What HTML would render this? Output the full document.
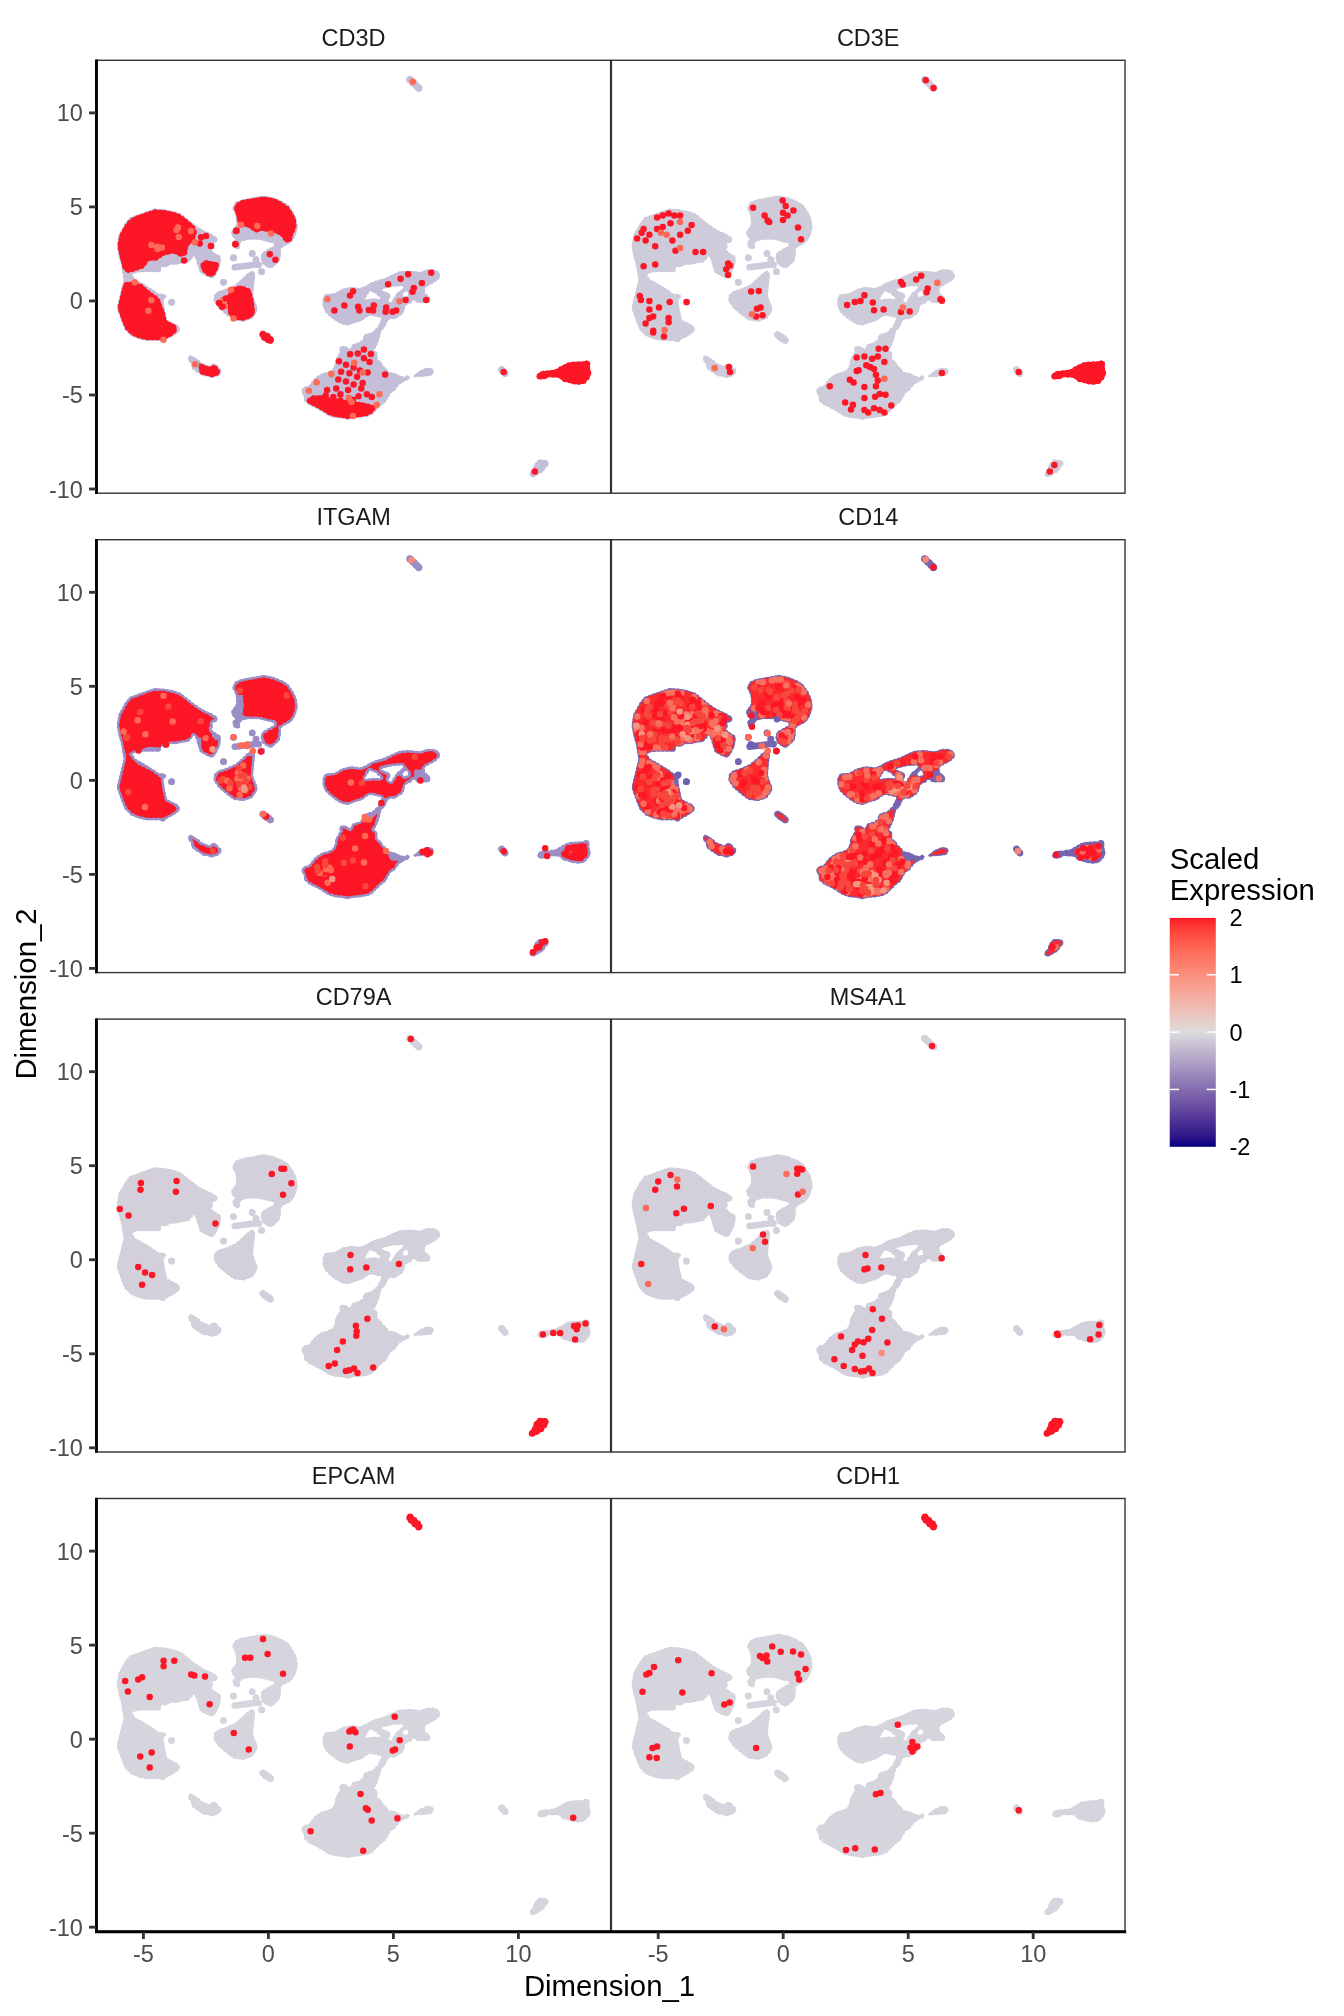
<!DOCTYPE html><html><head><meta charset="utf-8"><style>html,body{margin:0;padding:0;background:#fff;}svg{display:block;will-change:transform}</style></head><body>
<svg width="1344" height="2016" viewBox="0 0 1344 2016">
<defs>
<linearGradient id="lg" x1="0" y1="1" x2="0" y2="0">
<stop offset="0.0000" stop-color="#000080"/>
<stop offset="0.0250" stop-color="#1e0c85"/>
<stop offset="0.0500" stop-color="#2f188a"/>
<stop offset="0.0750" stop-color="#3d238e"/>
<stop offset="0.1000" stop-color="#482e93"/>
<stop offset="0.1250" stop-color="#533898"/>
<stop offset="0.1500" stop-color="#5e429d"/>
<stop offset="0.1750" stop-color="#684da1"/>
<stop offset="0.2000" stop-color="#7157a6"/>
<stop offset="0.2250" stop-color="#7b61ab"/>
<stop offset="0.2500" stop-color="#846caf"/>
<stop offset="0.2750" stop-color="#8d77b4"/>
<stop offset="0.3000" stop-color="#9682b8"/>
<stop offset="0.3250" stop-color="#9f8cbd"/>
<stop offset="0.3500" stop-color="#a897c1"/>
<stop offset="0.3750" stop-color="#b1a3c6"/>
<stop offset="0.4000" stop-color="#b9aeca"/>
<stop offset="0.4250" stop-color="#c2b9cf"/>
<stop offset="0.4500" stop-color="#cbc5d3"/>
<stop offset="0.4750" stop-color="#d3d0d8"/>
<stop offset="0.5000" stop-color="#dcdcdc"/>
<stop offset="0.5250" stop-color="#e1d5d2"/>
<stop offset="0.5500" stop-color="#e6cdc9"/>
<stop offset="0.5750" stop-color="#eac6bf"/>
<stop offset="0.6000" stop-color="#edbeb5"/>
<stop offset="0.6250" stop-color="#f0b6ac"/>
<stop offset="0.6500" stop-color="#f3afa2"/>
<stop offset="0.6750" stop-color="#f6a799"/>
<stop offset="0.7000" stop-color="#f89f90"/>
<stop offset="0.7250" stop-color="#f99787"/>
<stop offset="0.7500" stop-color="#fb8f7e"/>
<stop offset="0.7750" stop-color="#fc8775"/>
<stop offset="0.8000" stop-color="#fd7e6c"/>
<stop offset="0.8250" stop-color="#fd7563"/>
<stop offset="0.8500" stop-color="#fe6c5a"/>
<stop offset="0.8750" stop-color="#fe6251"/>
<stop offset="0.9000" stop-color="#fe5749"/>
<stop offset="0.9250" stop-color="#fe4c40"/>
<stop offset="0.9500" stop-color="#fd3f37"/>
<stop offset="0.9750" stop-color="#fd2f2f"/>
<stop offset="1.0000" stop-color="#fc1626"/>
</linearGradient>
<g id="sil"><path d="M462.3 316.5 462.4 316.5 462.5 316.5 462.6 316.6 462.7 316.6 465.2 317.9 465.3 317.9 465.4 318 465.4 318.1 465.5 318.1 465.5 318.2 467 320.4 470.9 321.1 471 321.1 475.9 322.8 482.3 323.6 487.8 322.8 490.8 319.7 493.2 316.6 493.9 312.8 492.7 309 492.7 308.9 492.7 308.8 492.7 308.7 492.7 303.2 490.6 301.4 487.7 302.8 487.6 302.8 487.5 302.9 487.4 302.9 487.3 302.9 477.4 303.3 474.2 303.7 471 304.5 465.2 307.8 459.4 311.1 459.4 311.1 459.3 311.2 459.2 311.2 459.1 311.2 452.4 312.1 452.4 312.1 444.5 312.9 441.7 316.4 442.2 317.9 445.7 318.6 449.4 317.9 451.8 316.3 451.9 316.2 452 316.2 452.1 316.1 452.1 316.1 452.2 316.1 452.3 316.1ZM447.9 409.4 448 409.4 449.5 407.3 449.5 407.3 451.2 405 451.9 403.2 450.3 401.2 447.7 400.9 447.6 400.9 444.8 400.2 442.4 401.1 439.7 404.1 438.5 406.6 437.4 410.2 437.3 410.3 437.3 410.4 437.2 410.4 437.2 410.5 435.1 412.7 434.1 414.7 434.3 415.8 436 416.6 439.1 415.9 443.1 413.2 443.2 413.2 446.6 411.5ZM408.4 316 408.6 316.1 408.8 316.1 409.1 316.1 409.3 316.1 409.5 316 409.8 316 410 315.9 410.2 315.8 410.4 315.7 410.6 315.5 410.7 315.3 410.9 315.2 411 315 411.1 314.8 411.2 314.6 411.3 314.3 411.4 314.1 411.4 313.9 411.4 313.6 411.4 313.4 411.3 313.2 411.3 312.9 411.2 312.7 411.1 312.5 411 312.3 410.8 312.1 407.5 308.3 407.3 308.2 407.2 308 407 307.9 406.8 307.8 406.6 307.7 406.3 307.6 406.1 307.5 405.9 307.5 405.6 307.5 405.4 307.5 405.2 307.6 404.9 307.6 404.7 307.7 404.5 307.8 404.3 307.9 404.1 308.1 404 308.3 403.8 308.4 403.7 308.6 403.6 308.8 403.5 309 403.4 309.3 403.3 309.5 403.3 309.7 403.3 310 403.3 310.2 403.4 310.4 403.4 310.7 403.5 310.9 403.6 311.1 403.7 311.3 403.9 311.5 407.2 315.3 407.4 315.4 407.5 315.6 407.7 315.7 407.9 315.8 408.1 315.9ZM251.4 264.9 258.7 262.3 258.7 262.3 266.1 260 271 256.3 271 256.2 271.1 256.2 271.2 256.1 274.9 254.9 275 254.9 275.1 254.9 275.2 254.9 275.2 254.9 275.3 254.9 275.4 254.9 285.4 257.3 285.5 257.3 285.6 257.4 285.7 257.4 285.7 257.5 285.8 257.5 285.9 257.6 285.9 257.6 286 257.7 286 257.8 286 257.9 286.1 258 286.1 258 286.1 258.1 286.1 258.2 286.1 258.3 286.1 258.4 286.1 258.5 284.9 262.3 284.8 262.3 284.8 262.4 282.3 267.4 282.3 267.5 282.2 267.6 282.1 267.6 277.1 272.6 277.1 272.7 277 272.7 276.9 272.8 276.9 272.8 276.8 272.9 269.6 275.3 267.6 278.1 267.8 278.3 267.8 278.4 267.9 278.4 267.9 278.5 268 278.6 268 278.7 268 278.8 268 278.9 268 279 268 279.1 268 279.1 267.9 279.2 267.9 279.3 267.9 279.4 267.8 279.5 267.7 279.5 264.6 282.6 264.6 282.7 264.5 282.7 264.4 282.8 264.4 282.8 264.3 282.9 260.5 284.1 257.1 285.2 254.8 289.9 254.8 290 254.7 290.1 254.7 290.1 254.6 290.2 254.5 290.2 254.4 290.3 254.4 290.3 254.3 290.4 254.2 290.4 254.1 290.4 254 290.4 253.9 290.4 253.8 290.4 253.7 290.4 253.7 290.3 253.6 290.3 253.5 290.2 253.4 290.2 253.4 290.1 251 287.8 246.7 286.8 243.9 288.6 244.9 291.7 244.9 291.8 244.9 291.9 244.9 292 244.9 292.1 244.9 292.2 244.9 292.3 244.8 292.3 244.8 292.4 244.8 292.5 242.3 296.3 239.9 301 239.9 304.5 239.9 304.6 239.9 304.7 239.9 304.7 239.8 304.8 239.8 304.9 237.3 309.9 237.3 310 237.2 310 237.2 310.1 237.1 310.2 237 310.2 237 310.3 236.9 310.3 231.9 312.8 231.8 312.8 231.7 312.9 226.8 314 220.8 317.7 217.2 321.4 213.5 326.3 213.5 326.4 213.4 326.5 213.3 326.5 213.3 326.6 213.2 326.6 213.1 326.6 213 326.7 208.3 327.8 206.2 330.9 208.6 336.7 208.7 336.7 208.7 336.8 208.7 336.9 208.7 337 208.7 340.4 213.3 344.3 219.4 347.4 219.4 347.4 224.4 350 224.5 350 228.3 352.4 228.3 352.4 233.2 355.6 239.2 357.3 246.6 358 246.7 358 251.5 359.2 256.3 358 256.4 358 263.9 357.3 271.2 356.1 276 353.8 284.6 345.2 284.7 345.1 289.5 341.4 292 336.6 292 336.5 294.4 332.7 294.5 332.7 294.5 332.6 294.6 332.5 294.7 332.5 294.7 332.4 298.4 330.1 300.2 327.7 300.2 327.6 303.3 323.9 303.4 323.9 303.4 323.8 303.5 323.7 307.3 321.2 307.4 321.2 307.4 321.2 307.5 321.1 307.6 321.1 312.2 320 313.5 317.3 311.5 315.6 308.3 317.7 308.2 317.8 308.1 317.8 308.1 317.9 308 317.9 307.9 317.9 307.8 317.9 307.7 317.9 307.6 317.9 307.5 317.9 303.7 316.7 303.7 316.6 303.6 316.6 298.7 314.1 292.6 312.9 292.5 312.9 292.5 312.8 292.4 312.8 292.3 312.8 292.2 312.7 292.2 312.6 292.1 312.6 292.1 312.5 289.5 308.8 286.5 306.5 286.5 306.5 286.4 306.4 286.4 306.3 286.3 306.3 286.3 306.2 284.5 302.6 281 300.2 280.9 300.2 280.9 300.1 280.8 300.1 280.8 300 280.7 299.9 280.7 299.8 280.6 299.8 280.6 299.7 280.6 299.6 280.6 299.5 280.6 293.6 277.2 290.8 277.2 290.7 277.1 290.7 277.1 290.6 277 290.5 277 290.4 276.9 290.4 276.9 290.3 276.9 290.2 276.9 290.1 276.9 290 276.9 289.9 276.9 289.9 277 289.8 277.2 289.2 277.2 289.1 277.3 289 277.3 288.9 277.4 288.9 277.5 288.8 277.5 288.8 277.6 288.7 277.7 288.7 277.8 288.6 277.9 288.6 277.9 288.6 278 288.6 278.4 288.6 280.7 284.1 282.5 279.2 283.1 276.8 284.3 271.8 284.4 271.7 284.4 271.6 284.4 271.5 284.5 271.5 288.3 266.5 290.1 263.7 290.1 263.6 290.1 263.6 290 263.5 290 263.4 290 263.3 290 263.2 290 263.1 290 263 290 263 290.1 262.9 290.1 262.8 290.7 261.6 290.7 261.5 290.8 261.4 290.9 261.4 293.4 258.9 293.4 258.8 293.5 258.8 293.6 258.7 293.7 258.7 293.7 258.6 293.8 258.6 293.9 258.6 294 258.6 298.7 258.6 302.3 256.3 305.8 253.9 308.1 249.3 308.1 247 308.1 246.9 308.1 246.8 308.1 246.7 308.2 246.7 308.2 246.6 308.3 246.5 308.3 246.4 308.4 246.4 310.9 243.9 310.9 243.8 311 243.8 311.1 243.7 311.1 243.7 311.2 243.7 314.6 242.5 315.7 240.4 315.8 240.3 315.8 240.2 315.9 240.2 315.9 240.1 316 240.1 316.1 240 316.2 240 316.2 239.9 316.3 239.9 316.4 239.9 316.5 239.9 319 239.9 319.1 239.9 319.2 239.9 319.3 239.9 319.3 240 319.4 240 319.5 240 319.6 240.1 319.6 240.2 321.9 242.3 328.9 242.3 333.2 241.8 333.7 239.6 332.1 236.4 328.5 233.9 328.4 233.9 328.4 233.8 328.3 233.8 328.2 233.7 328.2 233.6 328.2 233.5 328.1 233.5 328.1 233.4 328.1 233.3 328.1 233.2 328.1 228.2 328.1 228.1 328.1 228 328.1 227.9 328.2 227.8 328.2 227.8 328.3 227.7 328.3 227.6 328.4 227.6 328.4 227.5 328.5 227.4 332.3 225 332.4 225 337.3 222.4 340.9 220.1 343.6 216.8 342.1 212.6 337.6 210.4 331.6 210.4 324.3 212.9 324.2 212.9 324.1 212.9 324 212.9 323.9 212.9 314 211.7 304.2 212.3 296.9 215.3 289.4 219 289.3 219 289.3 219.1 280.5 221.7 274.4 224 270.7 226.5 270.6 226.6 270.5 226.6 264.3 229 264.2 229.1 264.1 229.1 264.1 229.1 264 229.1 263.9 229.1 255.2 227.9 246.8 229.7 239.4 234 239.4 234 239.3 234.1 239.2 234.1 239.1 234.1 229.6 235.3 227.4 239.7 227.4 245.6 229.8 251.5 233.4 255.1 239.5 260.1 245.5 263.6ZM306.2 236.4 306.2 236.3 306.2 236.3 306.1 236.2 306.1 236.2 306 236.1 306 236 306 236 305.9 235.9 305.9 235.8 305.9 235.8 305.9 235.7 305.8 235.6 305.8 235.5 305.8 235.5 305.8 235.4 305.8 235.3 305.8 235.2 305.8 235.2 305.8 235.1 305.8 235 305.8 234.9 305.9 234.9 305.9 234.8 305.9 234.8 305.9 234.7 306 234.6 306 234.5 306 234.5 306.1 234.4 306.1 234.4 306.2 234.3 306.2 234.3 306.3 234.2 309.5 231.1 309.5 231.1 309.5 231.1 309.6 231 309.6 231 309.7 230.9 309.8 230.9 309.8 230.9 309.9 230.8 310 230.8 310 230.8 310.1 230.7 310.2 230.7 310.3 230.7 310.3 230.7 310.4 230.7 310.5 230.7 310.5 230.7 310.6 230.7 310.7 230.7 310.7 230.7 310.8 230.7 310.9 230.8 311 230.8 311 230.8 311.1 230.8 311.2 230.9 311.2 230.9 311.3 230.9 311.4 231 311.4 231 311.5 231.1 311.5 231.1 311.6 231.2 311.6 231.2 311.7 231.3 311.7 231.3 311.8 231.4 311.8 231.4 311.8 231.5 311.9 231.6 311.9 231.6 311.9 231.7 311.9 231.7 312.9 234.8 312.9 234.9 313 234.9 313 235 313 235.1 313 235.2 313 235.2 313 235.3 313 235.4 313 235.5 313 235.5 313 235.6 313 235.7 312.9 235.7 312.9 235.8 312.9 235.9 312.9 235.9 312.8 236 312.8 236.1 312.8 236.1 312.7 236.2 312.7 236.2 312.6 236.3 312.6 236.4 312.5 236.4 312.5 236.4 312.4 236.5 312.3 236.5 312.3 236.6 312.2 236.6 312.2 236.6 312.1 236.7 312 236.7 312 236.7 308.9 237.8 308.9 237.8 308.8 237.8 308.7 237.9 308.6 237.9 308.6 237.9 308.5 237.9 308.4 237.9 308.3 237.9 308.3 237.9 308.2 237.9 308.1 237.9 308 237.9 308 237.8 307.9 237.8 307.8 237.8 307.8 237.8 307.7 237.7 307.6 237.7 307.5 237.6 307.5 237.6 307.4 237.5 307.4 237.5 307.3 237.5ZM291 233.5 285.9 231.5 285.9 231.5 285.8 231.4 285.8 231.4 285.7 231.4 285.6 231.3 285.6 231.3 285.5 231.2 285.5 231.2 285.4 231.1 285.4 231.1 285.3 231 285.3 231 285.2 230.9 285.2 230.9 285.2 230.8 285.1 230.7 285.1 230.7 285.1 230.6 285.1 230.5 285 230.5 285 230.4 285 230.3 285 230.2 285 230.2 285 230.1 285 230 285 230 285 229.9 285 229.8 285 229.8 285.1 229.7 285.1 229.6 285.1 229.5 285.1 229.5 285.2 229.4 285.2 229.4 285.2 229.3 285.3 229.2 285.3 229.2 285.4 229.1 285.4 229.1 285.5 229 285.5 229 285.6 228.9 285.7 228.9 285.7 228.8 285.8 228.8 285.8 228.8 285.9 228.7 286 228.7 286 228.7 286.1 228.7 286.1 228.6 296.5 226 296.6 226 296.6 226 296.7 226 296.8 226 296.8 226 306.2 225.5 306.3 225.5 306.3 225.5 306.4 225.5 306.5 225.5 306.6 225.5 306.6 225.5 306.7 225.6 306.7 225.6 306.8 225.6 306.9 225.6 307 225.7 307 225.7 307.1 225.7 307.1 225.8 307.2 225.8 307.3 225.8 307.3 225.9 307.4 225.9 307.4 226 307.5 226 307.5 226.1 307.5 226.2 307.6 226.2 307.6 226.3 307.7 226.4 307.7 226.4 307.7 226.5 307.7 226.6 307.8 226.6 307.8 226.7 307.8 226.8 307.8 226.8 307.8 226.9 307.8 227 307.8 227.1 307.8 227.1 307.8 227.2 307.8 227.3 307.8 227.4 307.7 227.4 307.7 227.5 307.7 227.5 307.7 227.6 307.6 227.7 307.6 227.8 307.6 227.8 307.5 227.9 307.5 227.9 307.4 228 307.4 228 307.4 228.1 302.2 233.2 299.2 237.2 296.1 242.4 296.1 242.4 296 242.5 296 242.5 295.9 242.6 295.9 242.6 295.8 242.7 295.8 242.7 295.7 242.8 295.6 242.8 295.6 242.9 295.5 242.9 295.5 242.9 295.4 243 295.3 243 295.3 243 295.2 243 295.1 243.1 295.1 243.1 295 243.1 294.9 243.1 294.8 243.1 294.8 243.1 294.7 243.1 294.6 243.1 294.5 243.1 294.5 243.1 294.4 243 294.3 243 294.3 243 294.2 243 294.1 242.9 294.1 242.9 294 242.9 293.9 242.8 293.9 242.8 292.4 241.7 292.4 241.7 292.3 241.6 292.3 241.6 292.2 241.5 292.2 241.5 292.1 241.4 292.1 241.4 292 241.3 292 241.2 292 241.2 291.9 241.1 291.9 241 291.9 241 291.9 240.9 291.8 240.8 291.8 240.7 291.8 240.7 291.8 240.6 291.8 240.5 291.8 240.5 291.8 240.4 291.8 240.3 291.8 240.2 291.8 240.2 291.9 240.1 291.9 240 291.9 239.9 291.9 239.9 292 239.8 294 235.8ZM273.2 240 270 240.5 270 240.5 269.9 240.5 269.8 240.5 269.8 240.5 269.7 240.5 269.6 240.5 269.5 240.5 269.5 240.5 269.4 240.4 269.3 240.4 269.3 240.4 269.2 240.4 269.1 240.3 269.1 240.3 269 240.3 268.9 240.2 268.9 240.2 268.8 240.1 268.8 240.1 268.7 240 268.7 240 268.6 239.9 268.6 239.9 268.5 239.8 268.5 239.7 268.5 239.7 268.4 239.6 268.4 239.5 268.4 239.5 268.4 239.4 268.3 239.3 268.3 239.3 268.3 239.2 268.3 239.1 268.3 239 268.3 239 268.3 238.9 268.3 238.8 268.3 238.7 268.3 238.7 268.4 238.6 268.4 238.5 268.4 238.4 268.4 238.4 268.5 238.3 268.5 238.3 268.5 238.2 272.7 231.4 272.7 231.4 272.8 231.3 272.8 231.3 272.9 231.2 272.9 231.1 273 231.1 273 231 273.1 231 273.2 231 273.2 230.9 273.3 230.9 273.4 230.8 273.4 230.8 273.5 230.8 273.6 230.8 273.6 230.7 273.7 230.7 273.8 230.7 273.9 230.7 273.9 230.7 274 230.7 274.1 230.7 274.2 230.7 274.2 230.7 274.3 230.7 274.4 230.7 274.5 230.8 274.5 230.8 274.6 230.8 279.8 232.9 279.8 232.9 279.9 233 279.9 233 280 233 280.1 233.1 280.1 233.1 280.2 233.2 280.2 233.2 280.3 233.2 284.5 237.4 284.5 237.5 284.5 237.5 284.6 237.6 284.6 237.6 284.7 237.7 284.7 237.8 284.7 237.8 284.8 237.9 284.8 238 284.8 238 284.8 238.1 284.9 238.2 284.9 238.3 284.9 238.3 284.9 238.4 284.9 238.5 284.9 238.6 284.9 238.6 284.9 238.7 284.9 238.8 284.9 238.8 284.8 238.9 284.8 239 284.8 239 284.8 239.1 284.7 239.2 284.7 239.3 284.7 239.3 284.6 239.4 284.6 239.4 284.5 239.5 284.5 239.5 284.4 239.6 284.4 239.6 284.3 239.7 284.3 239.7 284.2 239.8 284.1 239.8 284.1 239.9 284 239.9 283.9 239.9 283.9 239.9 283.8 240 283.7 240 283.6 240 283.6 240 283.5 240 283.4 240 283.3 240 283.3 240 283.2 240 278.2 239.4ZM337.3 311.4 336 309.7 331.6 308.5 326.9 310.3 322 312.8 317.7 316 318.3 317.2 321.4 316.7 321.4 316.7 331.4 315.5 334.7 315ZM322 30.9 322.3 31 322.5 31 322.8 31 323.1 31 323.3 31 323.6 30.9 323.9 30.8 324.1 30.7 324.3 30.5 324.6 30.4 324.8 30.2 324.9 30 325.1 29.8 325.2 29.5 325.4 29.3 325.4 29 325.5 28.7 325.5 28.5 325.5 28.2 325.5 27.9 325.5 27.7 325.4 27.4 325.3 27.1 325.2 26.9 325 26.7 324.9 26.4 324.7 26.2 316 17.8 315.7 17.6 315.5 17.4 315.3 17.3 315 17.2 314.8 17.1 314.5 17 314.2 17 314 17 313.7 17 313.4 17.1 313.1 17.1 312.9 17.2 312.6 17.4 312.4 17.5 312.2 17.7 312 17.9 311.8 18.1 311.6 18.3 311.5 18.5 311.4 18.8 311.3 19 311.2 19.3 311.2 19.6 311.2 19.8 311.2 20.1 311.3 20.4 311.3 20.7 311.4 20.9 311.6 21.2 311.7 21.4 311.9 21.6 312.1 21.8 320.8 30.2 321 30.4 321.2 30.6 321.5 30.7 321.7 30.9ZM136 172.6 137 175.8 139.5 179.5 139.6 179.6 139.6 179.7 139.7 179.7 139.7 179.8 139.7 179.9 139.7 180 139.7 180.1 139.7 180.2 139.7 180.3 139.6 180.4 139.6 180.4 139.5 180.5 139.5 180.6 139.4 180.6 137.2 182.8 138.3 186.9 141.3 189 143.9 188.2 142.9 185.3 142.9 185.2 142.9 185.1 142.9 185 142.9 184.9 142.9 184.9 142.9 184.8 143 184.7 143 184.6 144.2 182.1 144.2 182 144.3 182 144.3 181.9 144.4 181.8 144.4 181.8 144.5 181.7 144.6 181.7 147.1 180.4 147.2 180.4 147.3 180.3 152.3 179.1 152.4 179.1 152.5 179.1 162.5 179.1 162.6 179.1 162.7 179.1 167.7 180.3 167.7 180.3 172.7 181.6 178.3 182.9 178.4 182.9 178.5 183 178.6 183 178.6 183.1 178.7 183.1 178.8 183.2 178.8 183.3 178.9 183.3 178.9 183.4 178.9 183.5 179 183.6 179 183.7 179 183.8 179 183.8 179 183.9 179 184 178.4 186.4 178.3 186.5 178.3 186.6 178.3 186.7 178.2 186.7 178.2 186.8 178.1 186.9 178.1 186.9 178 187 177.9 187 172.9 189.6 166.9 193.1 165.3 197.5 167 203.3 171.6 206.7 174.8 207.8 179.4 204.3 183 200.8 184.1 194.9 184.1 188.8 184.1 188.7 184.1 188.6 184.1 188.5 184.2 188.5 184.2 188.4 184.2 188.3 184.3 188.2 184.4 188.2 184.4 188.1 184.5 188.1 188.3 185.5 188.3 185.4 188.4 185.4 193.3 183.1 196.8 179.5 199.2 174.7 201 167.5 199.7 159.1 196.7 153 191.9 145.7 185.8 142 177.2 138.4 167.5 136.5 157.7 138.4 157.6 138.4 146.5 140.3 139.5 143.2 137.2 148.8 139.6 153.4 139.6 153.5 139.7 153.6 140.9 158.6 140.9 158.7 140.9 158.8 140.9 165 140.9 165.1 140.9 165.2 140.9 165.3 140.8 165.3 140.8 165.4 140.8 165.5 138.3 169.3 138.2 169.3ZM174.3 283 174.5 283 174.7 283 175 282.9 175.2 282.9 175.4 282.8 175.6 282.7 175.8 282.5 176 282.4 176.2 282.2 176.3 282 176.5 281.8 176.6 281.6 176.7 281.4 176.7 281.2 176.8 281 176.8 280.7 176.8 280.5 176.8 280.3 176.7 280 176.7 279.8 176.6 279.6 176.5 279.4 176.3 279.2 176.2 279 176 278.8 175.8 278.7 175.6 278.5 175.5 278.4 175.4 278.3 175.4 278.3 175.3 278.2 175.3 278.1 175.2 278 175.2 277.9 175.2 277.9 172.5 275.2 169.6 274 169.5 273.9 169.4 273.9 169.4 273.9 168.4 273.1 168.1 272.9 167.9 272.8 167.7 272.7 167.5 272.7 167.3 272.6 167 272.6 166.8 272.6 166.6 272.6 166.3 272.7 166.1 272.7 165.9 272.8 165.7 272.9 165.5 273.1 165.3 273.2 165.1 273.4 165 273.6 164.8 273.8 164.7 274 164.6 274.2 164.6 274.4 164.5 274.6 164.5 274.9 164.5 275.1 164.5 275.3 164.6 275.6 164.6 275.8 164.7 276 164.8 276.2 165 276.4 165.1 276.6 165.3 276.8 165.5 276.9 166.4 277.6 166.5 277.7 166.5 277.7 166.6 277.8 166.6 277.9 166.7 278 166.7 278 166.7 278.1 166.8 278.5 168.8 280.5 171.4 281.4 171.5 281.4 171.6 281.5 171.6 281.5 172.9 282.5 173.2 282.7 173.4 282.8 173.6 282.9 173.8 282.9 174 283ZM167.7 210.8 167.6 210.6 167.5 210.4 167.3 210.2 167.1 210 166.9 209.9 166.7 209.8 166.5 209.7 166.3 209.6 166.1 209.5 165.8 209.5 165.6 209.5 165.4 209.5 165.1 209.5 164.9 209.6 164.7 209.7 164.5 209.8 164.3 209.9 164.1 210 163.9 210.2 163.7 210.4 163.6 210.6 163.5 210.8 163.4 211 163.3 211.2 163.2 211.4 163.2 211.7 163.2 211.9 163.2 212.1 163.2 212.4 163.3 212.6 163.4 212.8 163.5 213 163.6 213.2 163.7 213.4 163.9 213.6 164.1 213.8 164.3 213.9 164.5 214 164.7 214.1 164.9 214.2 165.1 214.3 165.4 214.3 165.6 214.3 165.8 214.3 166.1 214.3 166.3 214.2 166.5 214.1 166.7 214 166.9 213.9 167.1 213.8 167.3 213.6 167.5 213.4 167.6 213.2 167.7 213 167.8 212.8 167.9 212.6 168 212.4 168 212.1 168 211.9 168 211.7 168 211.4 167.9 211.2 167.8 211ZM159.5 206.6 159.5 206.5 159.6 206.5 159.7 206.4 159.8 206.4 159.9 206.4 159.9 206.4 160 206.3 160.1 206.3 160.2 206.4 160.3 206.4 160.4 206.4 160.5 206.4 160.5 206.5 160.6 206.5 160.7 206.6 160.8 206.6 160.8 206.7 161 206.9 161.2 207 161.4 207.1 161.6 207.2 161.8 207.3 162 207.4 162.3 207.4 162.5 207.4 162.7 207.4 163 207.4 163.2 207.3 163.4 207.2 163.6 207.1 163.8 207 164 206.9 164.2 206.7 164.4 206.5 164.5 206.3 164.6 206.1 164.7 205.9 164.8 205.7 164.9 205.5 164.9 205.2 164.9 205 164.9 204.8 164.9 204.5 164.8 204.3 164.7 204.1 164.6 203.9 164.5 203.7 164.4 203.5 164.2 203.3 164 203.1 163.8 203 163.6 202.9 163.4 202.8 163.2 202.7 163 202.6 162.7 202.6 162.7 202.6 162.6 202.6 162.5 202.6 162.4 202.5 162.4 202.5 162.3 202.4 162.2 202.4 162.1 202.3 162.1 202.3 162 202.2 162 202.1 162 202 161.9 201.9 161.9 201.8 161.9 201.8 161.9 201.7 161.9 201.6 161.9 201.5 162 201.4 162 201.3 162 201.3 162.1 201.1 162.2 200.9 162.3 200.7 162.4 200.5 162.4 200.2 162.4 200 162.4 199.8 162.4 199.5 162.3 199.3 162.2 199.1 162.1 198.9 162 198.7 161.9 198.5 161.7 198.3 161.5 198.1 161.3 198 161.1 197.9 160.9 197.8 160.7 197.7 160.5 197.6 160.2 197.6 160 197.6 159.8 197.6 159.5 197.6 159.3 197.7 159.1 197.8 158.9 197.9 158.7 198 158.5 198.1 158.3 198.3 158.1 198.5 158 198.7 157.9 198.9 157.8 199.1 157.7 199.3 157.6 199.5 157.6 199.8 157.6 200 157.6 200.2 157.6 200.5 157.7 200.7 157.8 200.9 157.9 201.1 158 201.3 158.1 201.5 158.2 201.6 158.2 201.7 158.3 201.8 158.3 201.8 158.3 201.9 158.3 202 158.3 202.1 158.3 202.2 158.3 202.3 158.3 202.4 158.2 202.5 158.2 202.5 158.1 202.6 158.1 202.7 158 202.7 158 202.8 157.9 202.8 157.8 202.9 157.7 202.9 157.6 202.9 157.5 203 138.6 205.4 138.3 205.5 138.1 205.5 137.9 205.6 137.8 205.7 137.6 205.8 137.4 205.9 137.3 206.1 137.1 206.2 137 206.4 136.9 206.6 136.8 206.8 136.8 207 136.7 207.2 136.7 207.4 136.7 207.6 136.7 207.8 136.8 208 136.8 208.2 136.9 208.4 137 208.5 137.1 208.7 137.2 208.9 137.4 209 137.5 209.2 137.7 209.3 137.9 209.4 138.1 209.5 138.3 209.5 138.5 209.6 138.7 209.6 138.9 209.6 139.1 209.6 158.3 207.1 158.6 207 158.8 207 159 206.9 159.1 206.8 159.3 206.7ZM119 235.4 118.4 241 123.2 248.2 130.6 254.3 137.8 259.7 147.4 261 155.6 258 159.2 253.4 160.9 248.8 158.6 242.8 158.6 242.8 156.4 236.5 156.3 236.4 156.3 236.3 156.3 236.2 156.3 236.1 157.2 224.9 157.2 224.9 158.5 215.2 156.6 211.3 151.8 214.5 146.8 219.4 146.8 219.5 139.4 225.7 139.3 225.7 139.2 225.8 139.2 225.8 130.4 229.6 130.3 229.7 122.9 232ZM158.3 192.7 158.2 192.5 158.1 192.3 157.9 192.1 157.7 191.9 157.5 191.8 157.3 191.7 157.1 191.6 156.9 191.5 156.7 191.4 156.4 191.4 156.2 191.4 156 191.4 155.7 191.4 155.5 191.5 155.3 191.6 155.1 191.7 154.9 191.8 154.7 191.9 154.5 192.1 154.3 192.3 154.2 192.5 154.1 192.7 154 192.9 153.9 193.1 153.8 193.3 153.8 193.6 153.8 193.8 153.8 194 153.8 194.3 153.9 194.5 154 194.7 154.1 194.9 154.2 195.1 154.3 195.3 154.5 195.5 154.7 195.7 154.9 195.8 155.1 195.9 155.3 196 155.5 196.1 155.7 196.2 156 196.2 156.2 196.2 156.4 196.2 156.7 196.2 156.9 196.1 157.1 196 157.3 195.9 157.5 195.8 157.7 195.7 157.9 195.5 158.1 195.3 158.2 195.1 158.3 194.9 158.4 194.7 158.5 194.5 158.6 194.3 158.6 194 158.6 193.8 158.6 193.6 158.6 193.3 158.5 193.1 158.4 192.9ZM139.6 197 139.5 196.8 139.4 196.6 139.2 196.4 139 196.2 138.8 196.1 138.6 196 138.4 195.9 138.2 195.8 138 195.7 137.7 195.7 137.5 195.7 137.3 195.7 137 195.7 136.8 195.8 136.6 195.9 136.4 196 136.2 196.1 136 196.2 135.8 196.4 135.6 196.6 135.5 196.8 135.4 197 135.3 197.2 135.2 197.4 135.1 197.6 135.1 197.9 135.1 198.1 135.1 198.3 135.1 198.6 135.2 198.8 135.3 199 135.4 199.2 135.5 199.4 135.6 199.6 135.8 199.8 136 200 136.2 200.1 136.4 200.2 136.6 200.3 136.8 200.4 137 200.5 137.3 200.5 137.5 200.5 137.7 200.5 138 200.5 138.2 200.4 138.4 200.3 138.6 200.2 138.8 200.1 139 200 139.2 199.8 139.4 199.6 139.5 199.4 139.6 199.2 139.7 199 139.8 198.8 139.9 198.6 139.9 198.3 139.9 198.1 139.9 197.9 139.9 197.6 139.8 197.4 139.7 197.2ZM129.6 221.4 129.5 221.2 129.4 221 129.2 220.8 129 220.6 128.8 220.5 128.6 220.4 128.4 220.3 128.2 220.2 128 220.1 127.7 220.1 127.5 220.1 127.3 220.1 127 220.1 126.8 220.2 126.6 220.3 126.4 220.4 126.2 220.5 126 220.6 125.8 220.8 125.6 221 125.5 221.2 125.4 221.4 125.3 221.6 125.2 221.8 125.1 222 125.1 222.3 125.1 222.5 125.1 222.7 125.1 223 125.2 223.2 125.3 223.4 125.4 223.6 125.5 223.8 125.6 224 125.8 224.2 126 224.4 126.2 224.5 126.4 224.6 126.6 224.7 126.8 224.8 127 224.9 127.3 224.9 127.5 224.9 127.7 224.9 128 224.9 128.2 224.8 128.4 224.7 128.6 224.6 128.8 224.5 129 224.4 129.2 224.2 129.4 224 129.5 223.8 129.6 223.6 129.7 223.4 129.8 223.2 129.9 223 129.9 222.7 129.9 222.5 129.9 222.3 129.9 222 129.8 221.8 129.7 221.6ZM104.6 313.8 107.5 315.7 112 316 112 316 112.1 316 112.2 316.1 112.3 316.1 115.1 317.5 117.7 316.8 122.2 315.4 124.2 312.7 124.8 310.4 122.2 308.4 122.1 308.4 122 308.3 122 308.3 122 308.2 120.5 306 117.4 304.4 113.9 306.8 113.8 306.9 113.8 306.9 113.7 307 113.6 307 113.5 307 113.4 307 113.3 307 113.2 307 113.2 307 113.1 306.9 109.2 305.4 109.2 305.4 105.4 303.8 105.3 303.8 105.2 303.7 105.1 303.7 105.1 303.6 102 300.6 97.5 298 97.4 297.9 94.2 295.7 92.4 297.8 93.3 300.3 95.5 303.3 95.6 303.3 95.6 303.4 95.6 303.5 95.7 303.6 95.7 303.6 96.4 307.9 100 310.8ZM27.1 225.2 25.3 232.7 25.3 232.7 23.4 240.2 21.5 248.1 23.4 253.5 26.4 262.2 29.6 269.5 35.5 275.4 42.8 278.5 51.3 280.3 63.8 280.3 63.9 280.3 64 280.3 64.1 280.3 64.1 280.4 64.2 280.4 67.3 282 69.3 279.4 69.4 279.4 69.4 279.3 69.5 279.2 69.6 279.2 77 275.4 81.8 271.9 83.3 268.9 80.6 265.7 70.8 260.8 70.7 260.8 70.6 260.7 70.6 260.7 70.5 260.6 70.5 260.5 70.4 260.4 70.4 260.4 70.3 260.3 70.3 260.2 67.9 249 67.9 248.9 66.6 240.1 66.6 240 66.6 239.9 66.6 239.9 66.6 239.8 66.7 239.7 66.7 239.6 66.7 239.5 66.8 239.4 66.9 239.4 66.9 239.3 67 239.3 70.1 237.2 69.4 235.3 62.4 234.7 62.3 234.7 62.3 234.7 62.2 234.6 62.1 234.6 62 234.6 62 234.5 57 230.7 50.7 227 44.6 223.3 39.6 220.8 39.5 220.8 39.5 220.7 39.4 220.7 39.3 220.6 39.3 220.5 35.5 215.5 35.4 215.5 35.4 215.4 35.4 215.3 35.3 215.2 35.3 215.1 35.3 215.1 35.3 215 35.3 214.9 35.3 214.8 35.3 214.7 35.4 214.6 35.4 214.6 35.5 214.5 35.5 214.4 35.6 214.3 35.6 214.3 35.7 214.2 35.8 214.2 39.6 212.3 39.7 212.3 39.8 212.2 39.8 212.2 39.9 212.2 46.1 211.6 46.2 211.6 64.1 211.6 64.1 207.5 64.1 207.4 64.1 207.3 64.1 207.2 64.2 207.2 64.2 207.1 64.3 207 64.3 206.9 64.4 206.9 64.4 206.8 64.5 206.8 64.6 206.7 64.7 206.7 64.7 206.6 64.8 206.6 64.9 206.6 65 206.6 70.8 206.6 73.2 204.4 73.2 204.3 73.3 204.2 73.4 204.2 73.5 204.2 73.5 204.1 73.6 204.1 73.7 204.1 73.8 204.1 79.9 204.1 84.8 202.9 84.8 202.9 92.1 201.7 95.5 198.3 96.7 195.8 96.7 195.7 96.8 195.6 96.8 195.6 96.9 195.5 97 195.5 97.1 195.4 97.1 195.4 97.2 195.3 97.3 195.3 97.4 195.3 97.5 195.3 97.6 195.3 97.7 195.3 97.8 195.3 97.8 195.4 97.9 195.4 98 195.5 98.1 195.5 98.1 195.6 98.2 195.6 98.3 195.7 100.8 199.5 100.8 199.6 100.8 199.6 100.9 199.7 100.9 199.8 102.1 204.7 104.6 211.9 108 214.2 112.9 216.7 116 217.8 119.3 214.5 122.9 207.2 124.1 201.2 123.6 196.8 119.6 194.6 119.5 194.6 119.5 194.5 114.5 190.7 114.4 190.7 114.3 190.6 114.3 190.5 114.2 190.4 114.2 190.4 114.1 190.3 114.1 190.2 114.1 190.1 114.1 190 114.1 189.9 114.1 189.8 114.1 189.7 114.2 189.7 114.2 189.6 114.2 189.5 114.3 189.4 114.4 189.4 116.5 187.3 115.4 184.1 115.3 184 115.3 183.9 115.3 183.8 115.3 183.7 115.3 183.7 115.3 183.6 115.4 183.5 115.4 183.4 115.4 183.3 115.5 183.3 115.5 183.2 115.6 183.1 115.7 183.1 115.7 183 115.8 183 115.9 182.9 119.5 181.7 121.3 179.9 119.4 177.6 114.6 174.6 108.5 172 108.3 172 102 168.3 102 168.2 97 164.5 96.9 164.5 90.6 159.5 90.6 159.5 84.6 154.6 77.3 152.1 68.7 150.3 58.9 149.7 51.5 152.1 42.8 155.2 42.8 155.2 34.3 158.3 29.5 164.3 23.4 175.3 21.5 186.2 23.4 196 25.9 204.8 25.9 204.9 27.1 212.4 28.4 219.8 28.4 219.9 28.4 220 28.4 220.1 28.4 220.2ZM77.6 241.2 77.5 241 77.3 240.8 77.1 240.6 76.9 240.5 76.7 240.4 76.5 240.3 76.3 240.2 76.1 240.1 75.8 240.1 75.6 240.1 75.4 240.1 75.1 240.1 74.9 240.2 74.7 240.3 74.5 240.4 74.3 240.5 74.1 240.6 73.9 240.8 73.7 241 73.6 241.2 73.5 241.4 73.4 241.6 73.3 241.8 73.2 242 73.2 242.3 73.2 242.5 73.2 242.7 73.2 243 73.3 243.2 73.4 243.4 73.5 243.6 73.6 243.8 73.7 244 73.9 244.2 74.1 244.4 74.3 244.5 74.5 244.6 74.7 244.7 74.9 244.8 75.1 244.9 75.4 244.9 75.6 244.9 75.8 244.9 76.1 244.9 76.3 244.8 76.5 244.7 76.7 244.6 76.9 244.5 77.1 244.4 77.3 244.2 77.5 244 77.6 243.8 77.7 243.6 77.8 243.4 77.9 243.2 78 243 78 242.7 78 242.5 78 242.3 78 242 77.9 241.8 77.8 241.6 77.7 241.4Z" fill-rule="evenodd"/><path d="M462.5 314.2h0M467.8 317.4h0M469.6 318.5h0M474 319.7h0M477.6 320.7h0M481.9 321.2h0M485.5 320.8h0M487.7 319.6h0M490.3 316.6h0M491.4 313.7h0M490.8 310.7h0M490.4 305.8h0M490.2 304.1h0M488.9 304.8h0M483.7 305.3h0M479.5 305.5h0M475.4 305.9h0M471.9 306.7h0M468.4 308.6h0M464.7 310.7h0M461 312.8h0M456.1 313.9h0M450.1 314.6h0M447.5 314.9h0M445.4 315.4h0M444.9 316.1h0M445.7 316.2h0M448.7 315.6h0M455.9 313.9h0M458.2 314h0M446 408.1h0M448.6 404.5h0M449.3 403.6h0M446.9 403.1h0M444 403h0M441.8 405.2h0M440.4 408.2h0M438.2 412.8h0M437.1 414h0M437.1 414h0M440 412.6h0M443.9 410.3h0M409 313.8h0M409.1 313.7h0M406.5 310.7h0M405.6 309.8h0M406.6 311h0M251.3 262.5h0M254.7 261.3h0M258.7 259.9h0M262.7 258.7h0M265.8 257.3h0M269.1 254.8h0M273.7 252.9h0M279 253.4h0M283.1 254.4h0M288.4 258.6h0M287 263.2h0M285.3 266.6h0M282 271h0M279.1 274h0M274.3 276.1h0M271 277.2h0M270.3 278.5h0M267 283.5h0M262.4 285.9h0M258.8 287.1h0M257.6 289.5h0M251.1 291.1h0M248.7 289.6h0M246.6 289.5h0M246.8 290.2h0M245.3 295.8h0M243.4 299.2h0M242.2 302.1h0M241.2 307.2h0M239.3 311h0M234.7 314h0M230.3 315.6h0M227 316.6h0M223.4 318.8h0M220.6 321.1h0M218.1 324.1h0M215.6 327.4h0M210.4 329.7h0M208.8 331.2h0M209.5 332.9h0M211 337.7h0M211.3 339.6h0M214.5 342.4h0M217.8 344h0M221.6 345.9h0M225.3 347.9h0M229 350.2h0M232.6 352.5h0M235.8 353.9h0M239.6 355h0M243.6 355.4h0M248.1 356h0M251.5 356.8h0M255.2 355.9h0M259.7 355.4h0M263.7 355h0M267.8 354.3h0M271.2 353.6h0M274.6 351.9h0M277.3 349.1h0M280.3 346.2h0M283.6 343h0M286.9 340.5h0M288.7 337.9h0M290.8 334.1h0M294.1 330.1h0M296.9 328.3h0M299.5 324.8h0M302.9 321.4h0M305.6 319.6h0M304.9 319.5h0M300.7 317.7h0M297.5 316.2h0M293.4 315.4h0M288.9 311.9h0M286.5 309.4h0M283.3 305.4h0M281.4 303.3h0M278.3 298.2h0M278.3 294.7h0M276.2 292.9h0M276.9 286.5h0M278.4 283.5h0M279.9 279.7h0M281 276h0M281.9 271.9h0M285.3 266.6h0M287 264.3h0M288.5 260.8h0M292 257h0M297.6 256.3h0M300 255h0M303.5 252.7h0M305.1 250.2h0M305.8 247.3h0M309 242.4h0M313 240.6h0M317.3 237.6h0M322.5 239.7h0M324.8 240h0M328.8 240h0M331.1 239.7h0M330.8 238.9h0M328.7 236.9h0M325.8 231.7h0M326.8 225.9h0M330.7 223.4h0M334.6 221.3h0M338 219.3h0M340.5 216.9h0M340.7 215.5h0M339.3 213.8h0M336.5 212.7h0M332.2 212.7h0M329 213.7h0M324.7 215.1h0M319.8 214.7h0M315.6 214.2h0M311.8 214.1h0M307.6 214.4h0M304.2 214.8h0M300.4 216.4h0M296.7 218h0M292.9 219.9h0M288.7 221.6h0M284.6 222.8h0M280.8 224h0M276.9 225.5h0M273.7 227.3h0M269.5 229.5h0M265.6 231h0M260.3 230.9h0M256.2 230.4h0M252.8 230.8h0M248.7 231.7h0M245.6 233.1h0M241.9 235.2h0M237.1 236.7h0M232.9 237.2h0M231.1 237.5h0M229.7 240.3h0M229.7 244.3h0M230.6 247.5h0M232 250.4h0M234.9 253.4h0M238 255.9h0M241.1 258.3h0M244.7 260.5h0M247.8 261.8h0M304.6 238h0M312.5 229h0M315.2 234.3h0M310.8 239.6h0M289.8 235.5h0M286 234h0M284.8 226.7h0M289.5 225.4h0M293.8 224.4h0M298.6 223.6h0M303 223.4h0M309.1 224.5h0M303.5 235.3h0M301.9 237.6h0M299.6 241.1h0M294.9 245.4h0M289.5 240h0M291.1 236.5h0M273.5 242.3h0M267.8 242.2h0M267.6 235.4h0M269.8 231.8h0M275.7 228.8h0M279.7 230.4h0M283.8 233.5h0M287.2 238h0M281.4 242.1h0M277.7 241.8h0M334.3 311.6h0M333.1 311.3h0M330.3 311.5h0M326.3 313.2h0M325.4 313.9h0M329.9 313.4h0M333.4 312.9h0M322.6 28.7h0M323.2 28.3h0M321.7 26.6h0M318.4 23.3h0M315 20.1h0M313.7 19.4h0M313.6 20.1h0M316.7 23.1h0M320 26.3h0M138.5 173h0M139.4 175.2h0M142 180.3h0M139.8 183.5h0M140.3 185.5h0M140.7 185.8h0M142.3 180.8h0M147.4 177.9h0M151.5 176.9h0M156.2 176.8h0M160.4 176.8h0M165.1 177.3h0M169.2 178.3h0M173.3 179.4h0M177.3 180.3h0M180.9 185.8h0M177 190.1h0M173.4 192h0M169.8 194.1h0M168.3 196h0M168 198.6h0M169 201.9h0M171.7 203.9h0M174.4 205.2h0M176.2 203.9h0M179.1 201.4h0M180.9 199.3h0M181.7 195.2h0M181.8 191.4h0M183.8 185.8h0M187.6 183.2h0M191.4 181.4h0M193.8 179.2h0M195.8 176.3h0M197.2 172.9h0M198.3 168.9h0M198.4 165.6h0M197.8 161.5h0M196.7 158.2h0M194.9 154.4h0M192.8 151.2h0M190.4 147.7h0M187.8 145.9h0M184.5 143.9h0M180.6 142.3h0M176.8 140.7h0M173.1 139.9h0M169 139.1h0M165.7 139.2h0M161.6 140h0M157.4 140.8h0M153.3 141.5h0M149.1 142.2h0M145.6 143.1h0M141.7 144.7h0M140.6 146.6h0M139.7 148.6h0M141.6 152.2h0M142.8 156.8h0M143.2 161.5h0M142.6 166.9h0M140.3 170.4h0M174.4 280.7h0M174.5 280.6h0M172.6 278.5h0M169.9 276.6h0M166.9 274.9h0M166.8 275h0M168.9 277.4h0M171.2 278.9h0M165.7 211.9h0M165.5 211.8h0M165.6 212h0M159.9 204.1h0M162.5 205.1h0M162.6 204.9h0M160.1 200h0M160 199.9h0M159.9 200h0M121.2 236.6h0M120.8 239.9h0M122 242.3h0M124.4 245.9h0M127 248.3h0M130.3 251.1h0M133.6 253.7h0M137 256.2h0M139.7 257.7h0M143.9 258.2h0M147.2 258.6h0M151.2 257.2h0M154.2 256.1h0M156.6 252.9h0M158.2 249.7h0M157.9 247.3h0M156.3 243.2h0M154.8 239.2h0M154.2 234h0M154.5 229.8h0M154.9 225.5h0M155.4 221.1h0M155.9 216.8h0M155.7 214.7h0M155.7 214.7h0M152.8 216.8h0M149.7 219.8h0M146.4 222.8h0M143.1 225.6h0M139 228.4h0M135.1 230.1h0M130.9 231.9h0M126.8 233.2h0M123.7 234.4h0M156.3 193.8h0M156.1 193.7h0M156.2 193.9h0M137.6 198.1h0M137.4 198h0M137.5 198.2h0M127.6 222.5h0M127.4 222.4h0M127.5 222.6h0M105.9 311.9h0M108.5 313.5h0M113.6 314.2h0M115.9 315h0M119.8 313.8h0M121.8 312h0M122.2 311.3h0M119.1 308h0M117.6 307.1h0M115.2 308.8h0M109.1 307.9h0M105.1 306.2h0M101.1 303h0M98.1 301h0M95.6 299.5h0M96 300.1h0M98.2 304.8h0M99.1 307.1h0M102.3 309.6h0M29.3 225.8h0M28.3 229.9h0M27.3 234h0M26.3 238.1h0M25.3 242.1h0M24.3 246.3h0M24.3 249.1h0M25.6 253h0M27 257h0M28.5 261h0M30 264.8h0M31.5 268.2h0M34.2 270.9h0M36.8 273.5h0M40.4 275h0M43.9 276.4h0M48 277.3h0M51.7 278h0M55.9 278h0M60.1 278h0M65.4 278.4h0M66.6 279.1h0M69.9 276.5h0M73.7 274.6h0M77 272.6h0M80 270.4h0M80.6 269.2h0M78.9 267.4h0M75.1 265.5h0M71.3 263.6h0M67.7 259h0M66.8 254.9h0M65.9 250.8h0M65.2 246.5h0M64.6 242.3h0M65.8 237.3h0M65.2 237.2h0M59.9 235.9h0M56.6 233.3h0M53.2 231.2h0M49.6 229h0M46 226.8h0M42.5 224.8h0M38.7 222.9h0M35.2 219h0M34.7 212.2h0M38.6 210.2h0M43.6 209.5h0M48 209.3h0M52.2 209.3h0M56.4 209.3h0M60.7 209.3h0M61.8 209.3h0M63.3 204.8h0M68.7 204.3h0M70.8 203.5h0M76.2 201.8h0M79.9 201.7h0M84 200.8h0M88.3 200h0M91 199.5h0M93.6 196.9h0M99.7 193.9h0M102.4 197.8h0M103.9 202.5h0M105.1 206.3h0M106.4 210.3h0M108.6 211.9h0M112.1 213.7h0M115.4 215.1h0M116.6 213.9h0M118.4 211h0M120.3 207.3h0M121.2 203.8h0M121.7 200.4h0M121.4 198.2h0M117.7 196.1h0M114.4 193.5h0M113.5 187h0M113.5 185.9h0M116.8 180.2h0M118.2 179.7h0M117.5 179.1h0M113.9 176.9h0M110.4 175.3h0M106.3 173.4h0M102.6 171.3h0M98.9 168.8h0M95.4 166.2h0M92.1 163.6h0M88.8 161h0M85.5 158.3h0M82.7 156.4h0M78.7 155h0M75 153.9h0M70.8 153.1h0M67 152.5h0M62.8 152.2h0M59.2 152h0M55.4 153.2h0M51.5 154.5h0M47.5 156h0M43.5 157.4h0M39.6 158.8h0M35.7 160.2h0M33.8 162.6h0M31.4 165.6h0M29.4 169.3h0M27.3 173h0M25.6 176.1h0M24.9 180.1h0M24.2 184.3h0M24.1 187.6h0M24.9 191.8h0M25.7 195.7h0M26.8 199.8h0M28 203.9h0M28.8 208.3h0M29.4 212.4h0M30.2 216.6h0M30.4 221.7h0M75.7 242.4h0M75.5 242.5h0M75.6 242.6h0" fill="none" stroke-width="6.5" stroke-linecap="round"/><path d="M314 19.8L322.8 28.2M405.7 309.9L409 313.7M138.8 207.5L158.1 205M166.9 275L174.4 280.6M156.2 193.8h0M137.5 198.1h0M165.6 211.9h0M127.5 222.5h0M160 200h0M162.5 205h0M75.6 242.5h0" fill="none" stroke-width="6.6" stroke-linecap="round"/></g>
</defs>
<rect width="1344" height="2016" fill="#fff"/>
<g transform="translate(96.0,59.8)">
<use href="#sil" fill="#c4bed9" stroke="#c4bed9" stroke-width="0.8" stroke-linejoin="round"/>
<path d="M192.1 147.7 190 146.2 182.6 141.6 177 139.2 167.5 137.4 157.8 139.3 157.8 139.3 146.7 141.1 143 142.7 139.4 145.7 138.9 147 139.6 151.5 140.4 153 140.5 153.2 140.6 153.4 141.8 158.4 141.8 158.6 141.8 158.8 141.8 161.7 146.2 165 153.8 167.5 160 172.5 165 170 172.5 171.2 180 172.5 186.2 176.2 190 182.5 193.4 181.7 195.3 179.7 196.2 175 199.4 167.5 199.6 164.3 198.9 159.3 195.9 153.4ZM70.4 151.6 68.6 151.2 59.2 150.6 59 150.6 51.8 152.9 43.1 156.1 43.1 156.1 37.3 158.2 32.6 161.9 30.3 164.8 24.2 175.6 22.4 186.2 24.3 195.8 26.7 204.5 26.8 204.7 27.5 209.2 32.5 212.5 40 210 47.5 207.5 52.5 200 60 200 67.5 195 77.5 192.5 85 196.2 90 195 91.2 186.2 97.5 180 100 172.5 97.5 166.2 97 165.7 96.4 165.2 96.4 165.2 90.1 160.2 90.1 160.2 84.1 155.4 78.1 153.3ZM110 201.2 105 203.8 106.2 210 111 214.7 113.2 215.8 115.7 216.7 118.5 213.9 122.1 206.9 122.5 204.7 122.5 203.8ZM156.5 239.7 155.5 236.8 155.4 236.6 155.4 236.4 155.4 236.2 155.4 236.1 155.5 235.2 153.8 230 145 226.2 136.2 228.8 131.2 237.5 131.9 245 133.1 253.8 135.1 256.6 138.2 258.9 146.8 260 147.5 260 155.1 257.3 158.4 252.9 157.5 247.5ZM30.3 269 36 274.6 36.1 274.7 43 277.7 51.4 279.4 63.8 279.4 64 279.4 64.1 279.4 64.3 279.5 64.4 279.5 69.4 278.3 74.9 275.5 80 271.2 80 266.4 70.4 261.6 70.2 261.5 70.1 261.4 70 261.3 69.8 261.2 69.7 261 69.6 260.9 69.5 260.7 69.5 260.6 69.4 260.4 67.5 251.2 66.2 248.8 62.5 238.8 53.8 232.5 45 225 35 222.5 28.5 223.4 27.9 225.4 26.2 232.9 26.1 232.9 24.2 240.4 22.5 248 24.2 253.2 27.3 261.8ZM176.2 283 176.4 282.8 176.6 282.6 176.8 282.4 177 282.2 177.1 281.9 177.2 281.6 177.3 281.3 177.4 281 177.4 280.8 177.4 280.5 177.4 280.2 177.3 279.9 177.2 279.6 177.1 279.3 177 279.1 176.8 278.8 176.6 278.6 176.4 278.4 176.2 278.2 175.9 278 175.9 278 175.9 277.9 175.9 277.9 175.8 277.9 175.8 277.9 175.8 277.8 175.8 277.8 175.8 277.8 175.8 277.8 175.8 277.6 172.8 274.7 169.8 273.4 169.8 273.4 169.8 273.4 169.7 273.4 168.7 272.6 168.5 272.4 168.2 272.3 167.9 272.2 167.6 272.1 167.3 272 167.1 272 166.8 272 166.5 272 166.2 272.1 165.9 272.2 165.6 272.3 165.4 272.4 165.1 272.6 164.9 272.8 164.7 273 164.5 273.2 164.3 273.4 164.2 273.7 164.1 274 164 274.3 163.9 274.6 163.9 274.8 163.9 275.1 163.9 275.4 164 275.7 164.1 276 164.2 276.3 164.3 276.5 164.5 276.8 164.7 277 164.9 277.2 165.1 277.4 166 278.1 166.1 278.1 166.1 278.1 166.1 278.2 166.1 278.2 166.1 278.2 166.1 278.2 166.1 278.3 166.3 278.8 168.5 281 171.2 282 171.2 282 171.3 282 171.3 282 172.6 283 172.8 283.2 173.1 283.3 173.4 283.4 173.7 283.5 174 283.6 174.2 283.6 174.5 283.6 174.8 283.6 175.1 283.5 175.4 283.4 175.7 283.3 175.9 283.2ZM115.2 316.6 117.5 316 121.6 314.7 123.3 312.3 123.8 310.7 121.6 309.1 121.5 309 121.4 308.9 121.3 308.8 121.2 308.7 119.9 306.7 117.4 305.5 114.4 307.6 114.3 307.7 114.1 307.8 114 307.8 113.8 307.9 113.6 307.9 113.4 307.9 113.3 307.9 113.1 307.9 112.9 307.8 112.8 307.8 108.9 306.3 108.8 306.3 105 304.7 104.8 304.6 104.7 304.5 104.6 304.4 104.4 304.3 103.7 303.5 103.7 312.1 105.1 313.1 107.8 314.8 112 315.1 112.2 315.1 112.4 315.2 112.6 315.2 112.7 315.3ZM465.1 318.4 465.1 318.5 466.7 320.8 470.8 321.6 470.8 321.6 475.8 323.3 482.3 324.1 488 323.3 491.2 320 493.6 316.8 494.4 312.8 493.2 308.8 493.2 308.8 493.2 308.7 493.2 308.7 493.2 303 490.6 300.8 487.5 302.4 487.4 302.4 487.4 302.4 487.4 302.4 487.3 302.4 477.3 302.8 474.1 303.2 470.9 304.1 465 307.3 459.2 310.6 459.2 310.7 459.1 310.7 459.1 310.7 459.1 310.7 452.4 311.6 452.3 311.6 444.2 312.4 441.1 316.3 441.8 318.4 445.7 319.1 449.6 318.3 452.1 316.7 452.1 316.6 452.1 316.6 452.2 316.6 452.2 316.6 452.3 316.6 452.3 316.6 462.3 317 462.4 317 462.4 317 462.4 317 462.5 317 465 318.3 465 318.4 465.1 318.4 465.1 318.4ZM238.8 356.1 242 356.7 246.7 357.1 246.9 357.1 250.9 358.1 252.5 358 256.1 357.1 256.3 357.1 263.8 356.4 268.2 355.7 271.9 354.8 273.3 354.1 276 352.5 279 349.5 277.9 346.3 266.7 343.5 256.9 342.1 247.2 340.7 236 339.3 226.2 336.5 216.4 336.5 210.8 340.7 210.9 341.1 213.8 343.6 219.8 346.6 219.8 346.6 224.8 349.2 225 349.3 228.8 351.7 228.8 351.7 233.1 354.4Z" fill="#fc1626" fill-rule="evenodd" stroke="#fc1626" stroke-width="0.8" stroke-linejoin="round"/><path d="M443.8 316.5h0M448.3 316.3h0M452.4 314.4h0M457 314.6h0M461.7 314.8h0M465.9 316.4h0M469.3 319.1h0M473.8 320.3h0M478.3 321.4h0M482.8 321.8h0M487.3 320.9h0M490.4 317.5h0M492.1 313.3h0M491 308.8h0M491 304.2h0M487.1 304.6h0M482.5 304.8h0M477.8 305h0M473.3 305.7h0M469.1 307.6h0M465.1 309.8h0M461 312.1h0M456.6 313.2h0M452 313.8h0M447.4 314.3h0M214.1 340.9h0M218 343.2h0M222.1 345.3h0M226.1 347.4h0M230 349.8h0M233.8 352.3h0M238.2 353.6h0M242.6 354.5h0M247.1 355h0M251.6 355.9h0M256 354.9h0M260.6 354.5h0M265.1 354h0M269.6 353.1h0M273.7 351.3h0M276.2 348.1h0M271.7 347h0M267.3 345.9h0M262.8 345.1h0M258.3 344.5h0M253.8 343.9h0M249.3 343.2h0M244.8 342.6h0M240.3 342h0M235.7 341.5h0M231.4 340.3h0M227 339h0M222.5 338.7h0M217.9 338.7h0M190.5 149.2h0M186.7 146.8h0M182.8 144.3h0M178.6 142.3h0M174.3 141h0M169.8 140.1h0M165.3 140.1h0M160.7 141h0M156.2 141.8h0M151.7 142.5h0M147.2 143.3h0M143.2 145.4h0M141.5 149.1h0M142.8 153.4h0M143.9 157.9h0M145.5 161.7h0M149.6 163.8h0M153.9 165.2h0M157.7 167.8h0M161.4 169.3h0M165.7 167.9h0M170.2 168.6h0M174.7 169.4h0M179.2 170.1h0M183.4 172h0M187.3 174.3h0M189.9 178.1h0M193 178.8h0M194.1 174.4h0M195.9 170.2h0M197.3 165.9h0M196.9 161.3h0M195.3 157.1h0M193.1 153.1h0M168.3 277.7h0M172.4 280.1h0M174.5 279.7h0M171.2 276.3h0M166.9 274.2h0M154.4 240.2h0M153.2 235.7h0M151.6 231.5h0M147.3 229.6h0M142.9 229.1h0M138.4 230.4h0M135.7 234.1h0M133.5 238.2h0M133.9 242.8h0M134.5 247.5h0M135.1 252.1h0M137.8 255.8h0M142.1 257.2h0M146.8 257.8h0M151.2 256.3h0M155 253.8h0M155.6 249.5h0M155 244.9h0M110.3 203.6h0M107.8 206.3h0M109.6 210.2h0M112.9 213.2h0M116.6 212.7h0M118.7 208.7h0M119.2 205.3h0M114.7 204.4h0M105.9 307.4h0M106.9 311.6h0M111.4 312.9h0M115.9 314.1h0M120.4 312.6h0M118.8 309h0M114.9 309.8h0M110.3 309.2h0M59.3 152.8h0M54.9 154.2h0M50.6 155.7h0M46.3 157.3h0M42 158.8h0M37.8 160.6h0M34.2 163.5h0M31.5 167.2h0M29.2 171.2h0M27 175.2h0M25.8 179.5h0M25 184.1h0M25.1 188.6h0M26 193.1h0M27 197.6h0M28.3 202h0M29.3 206.4h0M32.1 209.6h0M36.4 208.9h0M40.7 207.4h0M45.1 206h0M48.1 202.7h0M50.6 198.9h0M54.8 197.8h0M59.4 197.8h0M63.2 195.2h0M67.1 192.8h0M71.6 191.7h0M76 190.6h0M80.3 191.4h0M84.4 193.5h0M88.1 192.4h0M88.8 187.9h0M90.5 183.9h0M93.8 180.6h0M96.2 176.9h0M97.6 172.5h0M95.9 168.3h0M92.7 165.1h0M89.1 162.3h0M85.6 159.4h0M81.8 156.9h0M77.4 155.4h0M72.9 154.4h0M68.5 153.4h0M63.9 153.1h0M32.2 267.7h0M35.4 270.9h0M39 273.5h0M43.1 275.3h0M47.5 276.4h0M51.9 277.2h0M56.5 277.2h0M61 277.2h0M65.5 277h0M69.8 275.6h0M73.8 273.6h0M77.3 270.7h0M76.6 267.2h0M72.5 265.1h0M68.6 263h0M66.9 258.9h0M65.9 254.5h0M64.5 250.2h0M62.9 246h0M61.3 241.8h0M58.4 238.5h0M54.7 235.9h0M51.1 233.2h0M47.7 230.2h0M44.3 227.3h0M40 226h0M35.6 224.9h0M31.1 225.3h0M29.4 228.9h0M28.3 233.3h0M27.2 237.7h0M26.1 242.1h0M25.1 246.5h0M25.7 250.8h0M27.2 255.1h0M28.7 259.4h0M30.4 263.6h0" stroke="#fc1626" stroke-width="6.5" stroke-linecap="round" fill="none"/><path d="M61.1 186.9h0M55.4 185.2h0M55.3 240.5h0M61.6 189.3h0M65.9 187.8h0M80.6 170.2h0M52.3 250.9h0M82.8 177.1h0M82 167.8h0" stroke="#fe6a55" stroke-width="6.5" stroke-linecap="round" fill="none"/><path d="M115 186.2h0M88.1 200.6h0M105 177.5h0M110 176.2h0M103.8 183.8h0M139.4 184.4h0M140 171.2h0" stroke="#fc1626" stroke-width="6.5" stroke-linecap="round" fill="none"/><path d="M98.8 182.5h0M95 171.2h0M38.8 222.5h0M67.5 280h0" stroke="#fe6a55" stroke-width="6.5" stroke-linecap="round" fill="none"/><path d="M140.6 170.6h0M139.4 184.4h0M173.8 194.4h0M179.4 200h0M115 186.2h0" stroke="#fc1626" stroke-width="6.5" stroke-linecap="round" fill="none"/><path d="M145 165h0M175 173.8h0M161.2 166.2h0M137.5 258.8h0M127.5 240h0M124.4 243.8h0M128.8 246.2h0M135 230h0" stroke="#fe6a55" stroke-width="6.5" stroke-linecap="round" fill="none"/><path d="M123.1 243.1h0M130 238.8h0M126.2 246.9h0" stroke="#fc1626" stroke-width="6.5" stroke-linecap="round" fill="none"/><path d="M238.4 250.8h0M248.4 245.8h0M254 235.8h0M257.1 231.4h0M262.1 247h0M263.4 250.8h0M272.8 250.1h0M277.8 245.8h0M277.1 250.8h0M290.2 247.6h0M289.6 252h0M296.5 252h0M300.2 250.8h0M309.6 240.1h0M292.1 224.5h0M304.6 218.9h0M312.1 214.5h0M316.5 232h0M317.8 228.2h0M325.9 223.2h0M330.2 240.1h0M335.2 213h0" stroke="#fc1626" stroke-width="6.5" stroke-linecap="round" fill="none"/><path d="M231.5 239.5h0M303.4 241.4h0" stroke="#fe6a55" stroke-width="6.5" stroke-linecap="round" fill="none"/><path d="M254.1 294.5h0M261.8 293.8h0M267.9 289.6h0M274.9 294.2h0M267.9 298.4h0M273.5 302.2h0M271.6 312.7h0M289.1 314.8h0M243 301.5h0M250 305h0M257.6 307.8h0M263.9 310.6h0M245.1 312h0M253.4 313.4h0M261.1 316.9h0M266.7 323.2h0M242.3 319.7h0M250 321.8h0M257.6 324.6h0M265.3 328.8h0M270.9 334.4h0M275.8 337.2h0M240.2 328.8h0M231.1 330.2h0M229.7 335.8h0M237.4 337.2h0M244.4 334.4h0M252.1 330.2h0M262.5 336.5h0M256.9 340h0M244.4 340.7h0M236 341.4h0M225.5 338.6h0M272.3 347.7h0" stroke="#fc1626" stroke-width="6.5" stroke-linecap="round" fill="none"/><path d="M212.9 330.9h0M220.6 322.5h0M235.3 314.1h0M283.5 334.4h0M280.7 344.9h0M255.5 342.1h0M252.8 337.9h0M258.3 302.9h0M266.7 312.7h0M256.9 356.1h0" stroke="#fe6a55" stroke-width="6.5" stroke-linecap="round" fill="none"/><path d="M407.7 312.1h0M438.8 411.6h0" stroke="#fc1626" stroke-width="6.5" stroke-linecap="round" fill="none"/><path d="M316.7 21.9h0M99.1 304.4h0" stroke="#fe6a55" stroke-width="6.5" stroke-linecap="round" fill="none"/>
</g>
<rect x="96.50" y="60.30" width="514.10" height="432.90" fill="none" stroke="#333" stroke-width="1.4"/>
<text x="353.55" y="45.80" font-family="Liberation Sans" font-size="23.47" fill="#1a1a1a" text-anchor="middle">CD3D</text>
<g transform="translate(610.8,59.8)">
<use href="#sil" fill="#cecbda" stroke="#cecbda" stroke-width="0.8" stroke-linejoin="round"/>
<path d="M462.4 317 462.4 317 462.4 317 462.5 317 465 318.3 465 318.4 465.1 318.4 465.1 318.4 465.1 318.4 465.1 318.5 466.7 320.8 470.8 321.6 470.8 321.6 475.8 323.3 482.3 324.1 488 323.3 491.2 320 493.6 316.8 494.4 312.8 493.2 308.8 493.2 308.8 493.2 308.7 493.2 308.7 493.2 303 490.6 300.8 487.5 302.4 487.4 302.4 487.4 302.4 487.4 302.4 487.3 302.4 477.3 302.8 474.1 303.2 470.9 304.1 465 307.3 459.2 310.6 459.2 310.7 459.1 310.7 459.1 310.7 459.1 310.7 452.4 311.6 452.3 311.6 444.2 312.4 441.1 316.3 441.8 318.4 445.7 319.1 449.6 318.3 452.1 316.7 452.1 316.6 452.1 316.6 452.2 316.6 452.2 316.6 452.3 316.6 452.3 316.6 462.3 317Z" fill="#fc1626" fill-rule="evenodd" stroke="#fc1626" stroke-width="0.8" stroke-linejoin="round"/><path d="M443.8 316.5h0M448.3 316.3h0M452.4 314.4h0M457 314.6h0M461.7 314.8h0M465.9 316.4h0M469.3 319.1h0M473.8 320.3h0M478.3 321.4h0M482.8 321.8h0M487.3 320.9h0M490.4 317.5h0M492.1 313.3h0M491 308.8h0M491 304.2h0M487.1 304.6h0M482.5 304.8h0M477.8 305h0M473.3 305.7h0M469.1 307.6h0M465.1 309.8h0M461 312.1h0M456.6 313.2h0M452 313.8h0M447.4 314.3h0" stroke="#fc1626" stroke-width="6.5" stroke-linecap="round" fill="none"/><path d="M26.3 178.7h0M30.9 173h0M34.8 180.6h0M38.6 174.9h0M32.8 169.1h0M46.3 157.6h0M52 155.7h0M57.8 153.8h0M63.5 155.7h0M69.3 155.7h0M46.3 169.1h0M52 167.2h0M61.6 180.6h0M69.3 174.9h0M77 171h0M80.8 165.3h0M64.7 191h0M44.4 186.4h0M84.7 192.2h0M92.3 192.2h0M32.8 206.4h0M44.4 204.8h0M59.7 163.4h0M117.3 203.7h0M115.4 209.4h0M117.3 215.2h0M119.2 205.6h0M29 236.3h0M30.1 240.2h0M38.6 241.3h0M58.9 242.1h0M48.2 247.8h0M38.6 249.7h0M42.4 256.7h0M38.6 258.2h0M57.8 258.2h0M57.8 262.4h0M34.8 263.6h0M42.4 270.9h0M53.2 276.6h0M42.4 272.8h0M75.8 242.1h0M142.3 148h0M171.8 140.7h0M174.9 146.1h0M172.2 153h0M176.8 155.7h0M182.6 150.7h0M153.8 155.7h0M156.8 160.7h0M158.4 162.2h0M172.2 160.3h0M187.2 167.6h0M190.2 179.5h0M140.3 231.7h0M148 231.3h0M146.1 249h0M149.9 247.8h0M151.8 255.5h0M145.3 256.7h0M118.1 307.3h0M119.2 312.3h0M236.3 245.1h0M244 242.1h0M249.7 241.3h0M253.6 235.5h0M262 242.8h0M263.2 250.5h0M272.8 249.7h0M290.1 222.1h0M292 224.8h0M305.4 219.8h0M310.4 216h0M316.9 228.6h0M315.8 232.5h0M329.6 239.4h0M331.1 240.9h0M290.1 252.1h0M298.9 251.7h0M245.9 297.7h0M253.6 296.6h0M261.3 298.9h0M267 296.6h0M267.8 288.9h0M274.7 288.9h0M273.6 302.3h0M255.5 305.4h0M259.3 307.3h0M263.2 309.3h0M265.1 315h0M267 320.8h0M265.1 326.5h0M239 320h0M242.8 322.7h0M253.6 327.3h0M219 326.5h0M247.8 310.4h0M245.9 311.2h0M268.9 334.2h0M274.7 335h0M264.3 336.9h0M253.6 338.1h0M280.5 345.7h0M234.4 342.7h0M242.1 345h0M240.2 349.6h0M253.6 350.3h0M257.4 352.6h0M263.2 348.4h0M268.9 350.3h0M273.6 352.6h0M331.1 313.1h0M407.9 312.3h0M439 411.8h0M443.6 405.2h0M315 20.5h0M322.7 28.2h0" stroke="#fc1626" stroke-width="6.5" stroke-linecap="round" fill="none"/><path d="M50.1 173h0M55.9 174.9h0M69.3 188.3h0M69.3 162.2h0M53.9 270.1h0M141.1 254.4h0M103.9 308.1h0M326.5 222.9h0M292 247.8h0M273.6 318.9h0" stroke="#fe6a55" stroke-width="6.5" stroke-linecap="round" fill="none"/>
</g>
<rect x="611.40" y="60.30" width="513.60" height="432.90" fill="none" stroke="#333" stroke-width="1.4"/>
<text x="868.20" y="45.80" font-family="Liberation Sans" font-size="23.47" fill="#1a1a1a" text-anchor="middle">CD3E</text>
<g transform="translate(96.0,539.2)">
<use href="#sil" fill="#9b8ec6" stroke="#9b8ec6" stroke-width="0.8" stroke-linejoin="round"/>
<path d="M141.8 152.2 142 152.6 142 152.6 142.1 153 142.1 153 142.6 155 142.6 155 142.6 155 147 155 147 155 147.1 155 147.1 155 147.2 155 147.2 155.1 147.3 155.1 147.3 155.1 147.4 155.2 147.4 155.2 147.5 155.3 147.5 155.3 147.5 155.4 147.5 155.4 147.5 155.5 147.6 155.5 148.7 167.4 148.7 167.4 148.7 167.5 148.7 167.6 148.7 167.6 146.8 175.4 146.8 175.4 146.8 175.4 152.5 176.6 152.5 176.6 152.5 176.6 152.5 176.6 162.5 176.6 162.5 176.6 162.9 176.6 162.9 176.6 163.3 176.7 163.3 176.7 168.3 177.9 168.3 177.9 168.4 177.9 168.4 177.9 173.3 179.2 173.3 179.2 175.3 179.7 175.3 179.7 175.3 179.7 179.4 180 179.5 180 179.6 180 179.6 180 179.7 180 179.7 180.1 179.8 180.1 179.8 180.1 179.9 180.2 179.9 180.2 179.9 180.3 180 180.3 180 180.4 180 180.4 180 180.5 180 180.6 180 181 180 181 180 181 180.1 181 180.1 181.1 180.3 181.2 180.4 181.3 180.6 181.5 180.6 181.5 180.8 181.7 180.8 181.8 181 182 181 182.1 181.1 182.3 181.2 182.3 181.3 182.6 181.3 182.7 181.4 182.9 181.4 183 181.5 183.3 181.5 183.3 181.5 183.6 181.5 183.7 181.5 183.9 181.5 184 181.5 184.3 181.5 184.3 181.4 184.6 181.4 184.6 180.8 187 180.8 187 180.7 187.3 180.7 187.4 180.6 187.6 180.6 187.7 180.5 187.9 180.4 187.9 180.3 188.2 180.2 188.2 180.1 188.4 180 188.4 179.9 188.6 179.8 188.7 179.6 188.9 179.6 188.9 179.4 189 179.3 189.1 179.1 189.2 179.1 189.2 174.2 191.8 174.1 191.8 169 194.8 169 194.8 169 194.8 168 197.6 168 197.6 168 197.6 169.1 201.7 169.2 201.8 169.2 201.8 172.8 204.4 172.8 204.5 172.8 204.5 174.4 205 174.4 205 174.4 205 177.7 202.4 177.8 202.4 180.6 199.5 180.7 199.5 180.7 199.5 181.6 194.7 181.6 194.7 181.6 194.7 181.6 188.8 181.6 188.8 181.6 188.5 181.6 188.4 181.7 188.2 181.7 188.1 181.7 187.9 181.8 187.8 181.8 187.5 181.9 187.5 182 187.2 182 187.2 182.1 187 182.2 186.9 182.3 186.7 182.4 186.6 182.6 186.4 182.6 186.4 182.8 186.2 182.8 186.2 183.1 186 183.1 186 186.9 183.4 186.9 183.4 187.1 183.3 187.1 183.2 187.3 183.1 187.3 183.1 191.8 181 191.8 181 191.8 181 194.7 178 194.7 178 194.7 178 196.8 173.8 196.8 173.8 196.8 173.8 198.4 167.3 198.4 167.3 198.4 167.3 197.3 159.8 197.3 159.8 197.3 159.8 194.6 154.2 194.5 154.2 190.1 147.5 190.1 147.5 190.1 147.5 184.7 144.2 184.6 144.2 176.5 140.8 176.5 140.8 176.5 140.8 167.5 139.1 167.5 139.1 167.5 139.1 158.1 140.8 158.1 140.8 158.1 140.9 158.1 140.9 147.2 142.7 147.2 142.7 147.1 142.7 141.4 145.1 141.4 145.1 141.4 145.1 140 148.6 139.9 148.6 140 148.6 141.8 152.2ZM25.8 195.4 28.3 204.1 28.3 204.1 28.4 204.4 28.4 204.5 29.6 211.9 29.6 211.9 30.8 219.4 30.9 219.4 30.9 219.7 30.9 219.8 30.9 220.1 30.9 220.2 30.9 220.5 30.9 220.5 30.8 220.8 30.8 220.9 29.5 225.8 29.5 225.8 27.7 233.3 27.7 233.3 27.7 233.3 27.7 233.3 25.8 240.8 25.8 240.8 24.1 247.9 24.1 247.9 24.1 248 25.7 252.7 25.7 252.7 28.8 261.3 28.8 261.3 31.7 268 31.7 268.1 31.7 268.1 36.9 273.3 36.9 273.3 37 273.3 43.5 276.1 43.5 276.1 43.5 276.1 51.5 277.8 51.5 277.8 51.6 277.8 63.8 277.8 63.8 277.8 64.1 277.8 64.2 277.8 64.4 277.9 64.5 277.9 64.7 277.9 64.8 277.9 65 278 65.1 278.1 65.3 278.2 65.4 278.2 66.6 278.8 66.6 278.8 66.6 278.8 67.3 277.9 67.4 277.9 67.6 277.6 67.6 277.6 67.8 277.4 67.9 277.3 68.1 277.2 68.2 277.1 68.4 277 68.5 277 75.7 273.3 75.7 273.3 75.7 273.3 79.8 270.2 79.8 270.2 79.8 270.2 80.3 269.3 80.3 269.3 80.3 269.2 79.1 267.7 79.1 267.7 79 267.7 69.7 263 69.7 263 69.4 262.9 69.4 262.9 69.1 262.7 69.1 262.7 68.9 262.5 68.8 262.4 68.6 262.2 68.6 262.2 68.4 262 68.4 261.9 68.2 261.7 68.2 261.6 68.1 261.4 68.1 261.3 68 261.1 68 261 67.9 260.7 67.9 260.7 65.5 249.5 65.5 249.5 65.4 249.3 65.4 249.3 64.1 240.5 64.1 240.5 64.1 240.2 64.1 240.1 64.1 239.8 64.1 239.8 64.1 239.5 64.1 239.4 64.2 239.3 64.2 239.3 64.2 239.3 61.4 237 61.4 237 61.4 237 61.3 237 61.3 237 61 236.9 61 236.8 60.7 236.7 60.7 236.7 60.5 236.5 60.4 236.5 55.6 232.8 55.6 232.8 55.4 232.7 55.4 232.7 47.5 228.8 40.4 225.2 40.4 225.2 40.3 225.2 40.3 225.1 40.2 225.1 40.2 225 40.2 225 40.2 224.9 40.1 224.9 40.1 224.8 40.1 224.8 40.1 224.7 40.1 224.6 40.1 224.6 40.1 224.5 40.3 223.9 40.3 223.9 40.3 223.9 38.5 223 38.5 223 38.2 222.9 38.2 222.9 38 222.7 37.9 222.7 37.7 222.5 37.7 222.5 37.5 222.3 37.5 222.3 37.3 222.1 37.3 222 33.5 217.1 33.5 217 33.3 216.8 33.3 216.8 33.2 216.5 33.1 216.5 33 216.2 33 216.2 32.9 215.9 32.9 215.8 32.9 215.6 32.8 215.5 32.8 215.2 32.8 215.2 32.8 214.9 32.8 214.9 32.8 214.6 32.8 214.5 32.9 214.3 32.9 214.2 33 213.9 33 213.9 33.1 213.6 33.1 213.6 33.2 213.3 33.3 213.3 33.4 213.1 33.4 213 33.6 212.8 33.7 212.7 33.8 212.5 33.9 212.5 34.1 212.3 34.1 212.3 34.4 212.1 34.4 212.1 34.7 212 34.7 212 38.5 210.1 38.5 210.1 38.7 209.9 38.8 209.9 39 209.8 39.1 209.8 39.3 209.8 39.4 209.8 39.7 209.7 39.7 209.7 45.9 209.1 45.9 209.1 46.2 209.1 46.2 209.1 47.5 209.1 47.5 209.1 47.5 209.1 51.1 206.6 51.1 206.6 51.2 206.6 51.2 206.5 51.3 206.5 51.4 206.5 51.4 206.5 51.5 206.5 57.5 207.2 57.5 207.2 57.5 207.2 62.4 205.3 62.4 205.3 62.4 205.3 62.6 205.1 62.6 205.1 62.8 204.9 62.9 204.9 63.1 204.7 63.1 204.7 63.4 204.5 63.4 204.5 63.7 204.4 63.7 204.3 64 204.3 64 204.2 64.3 204.2 64.4 204.2 64.6 204.1 64.7 204.1 65 204.1 65 204.1 69.1 204.1 69.2 204.1 69.9 204 69.9 204 69.9 204 71.4 202.6 71.5 202.5 71.7 202.4 71.7 202.3 71.9 202.2 72 202.1 72.2 202 72.3 202 72.5 201.9 72.6 201.8 72.8 201.7 72.9 201.7 73.1 201.7 73.2 201.7 73.4 201.6 73.5 201.6 73.8 201.6 73.8 201.6 79.6 201.6 79.6 201.6 79.6 201.6 84.2 200.5 84.2 200.5 84.4 200.5 84.4 200.4 90.8 199.3 90.9 199.3 90.9 199.3 93.4 196.8 93.4 196.8 93.4 196.8 94.5 194.7 94.5 194.7 94.6 194.4 94.6 194.4 94.8 194.1 94.8 194.1 95 193.9 95.1 193.8 95.3 193.6 95.3 193.6 95.5 193.4 95.6 193.4 95.8 193.2 95.9 193.2 96.1 193.1 96.2 193.1 96.4 193 96.5 193 96.8 192.9 96.8 192.9 97.1 192.8 97.2 192.8 97.4 192.8 97.5 192.8 97.8 192.8 97.8 192.8 98.1 192.9 98.2 192.9 98.4 192.9 98.5 193 98.8 193 98.8 193.1 99.1 193.2 99.1 193.2 99.4 193.4 99.4 193.4 99.6 193.6 99.7 193.6 99.9 193.8 99.9 193.8 100.1 194 100.2 194.1 100.3 194.3 100.3 194.3 102.4 197.5 102.4 197.5 102.4 197.5 105.7 197.5 105.7 197.5 105.8 197.5 105.8 197.5 105.9 197.5 105.9 197.6 106 197.6 106 197.6 106.1 197.7 106.1 197.7 106.1 197.8 106.2 197.8 106.2 197.9 106.2 197.9 106.2 198 106.2 198 106.2 198.1 106.2 209.2 106.3 209.2 106.3 209.2 106.6 210.3 106.6 210.3 106.7 210.3 109.2 212 109.2 212.1 113.8 214.4 113.8 214.4 115.3 214.9 115.3 214.9 115.3 214.9 117.2 213 117.2 213 117.2 213 120.5 206.4 120.5 206.4 120.6 206.4 121.5 201.3 121.5 201.3 121.5 201.2 115.6 201.2 115.5 201.2 115.5 201.2 115.4 201.2 115.4 201.2 115.3 201.2 115.3 201.1 115.2 201.1 115.2 201.1 115.1 201 115.1 201 115.1 200.9 115 200.9 115 200.8 115 200.8 115 200.7 115 200.7 115 194.3 115 194.3 115 194.3 113 192.7 112.9 192.7 112.7 192.5 112.7 192.5 112.5 192.3 112.4 192.2 112.3 192 112.2 191.9 112.1 191.7 112 191.7 111.9 191.4 111.9 191.4 111.8 191.1 111.8 191 111.7 190.8 111.7 190.7 111.6 190.4 111.6 190.4 111.6 190.1 111.6 190 111.6 189.7 111.6 189.7 111.7 189.4 111.7 189.4 111.7 189.1 111.7 189 111.8 188.8 111.9 188.7 112 188.4 112 188.4 112.1 188.1 112.2 188.1 112.3 187.9 112.4 187.8 112.6 187.6 112.6 187.6 113.6 186.6 113.6 186.6 113.6 186.6 113 184.9 113 184.9 112.9 184.6 112.9 184.6 112.8 184.3 112.8 184.2 112.8 184 112.8 183.9 112.8 183.6 112.8 183.6 112.8 183.3 112.8 183.2 112.9 183 112.9 182.9 113 182.7 113 182.6 113.1 182.3 113.2 182.3 113.3 182 113.3 182 113.5 181.8 113.5 181.7 113.7 181.5 113.7 181.5 113.9 181.3 114 181.2 114.2 181.1 114.2 181 114.5 180.9 114.5 180.8 114.8 180.7 114.8 180.7 115.1 180.6 115.1 180.6 117.8 179.6 117.8 179.6 117.8 179.6 117.7 179.5 117.7 179.5 117.7 179.5 113.4 176.8 113.4 176.8 113.4 176.8 107.5 174.3 107.5 174.3 107.1 174.1 107.1 174.1 100.8 170.4 100.8 170.4 100.5 170.2 100.5 170.2 95.5 166.5 95.5 166.5 95.4 166.5 95.4 166.5 89.1 161.5 89.1 161.5 89.1 161.4 89.1 161.4 83.3 156.8 83.3 156.8 83.3 156.8 76.6 154.5 76.6 154.5 68.4 152.8 68.3 152.8 59.2 152.2 59.2 152.2 59.2 152.2 52.3 154.4 52.3 154.4 43.7 157.6 43.7 157.6 43.6 157.6 43.6 157.6 35.9 160.4 35.9 160.4 35.8 160.4 31.6 165.7 31.6 165.7 31.6 165.7 25.8 176.1 25.8 176.2 25.8 176.2 24.1 186.2 24.1 186.2 24.1 186.2 25.8 195.4ZM229.9 245.1 229.9 245.2 231.9 250.1 231.9 250.1 231.9 250.1 235.1 253.3 235.1 253.3 240.9 258 241 258 246.4 261.3 246.4 261.3 246.5 261.3 251.3 262.3 251.3 262.3 251.3 262.3 257.9 260 257.9 260 258 260 258 260 264.9 257.7 264.9 257.7 264.9 257.7 269.4 254.3 269.5 254.3 269.7 254.1 269.8 254.1 270.1 253.9 270.1 253.9 270.4 253.8 270.5 253.8 274.1 252.6 274.2 252.6 274.4 252.5 274.5 252.5 274.7 252.4 274.8 252.4 275 252.4 275.1 252.4 275.4 252.4 275.4 252.4 275.7 252.4 275.7 252.4 276 252.5 276 252.5 286 254.9 286 254.9 286.3 255 286.3 255 286.6 255.1 286.6 255.1 286.9 255.2 286.9 255.3 287.2 255.4 287.2 255.5 287.4 255.6 287.5 255.7 287.7 255.8 287.7 255.9 287.9 256.1 287.9 256.1 288.1 256.4 288.1 256.4 288.2 256.6 288.2 256.7 288.4 256.9 288.4 257 288.5 257.3 288.5 257.3 288.5 257.6 288.6 257.6 288.6 257.9 288.6 258 288.6 258.2 288.6 258.2 288.6 258.2 290.4 258.2 290.4 258.2 290.5 258.2 291.6 257.1 291.6 257.1 291.8 256.9 291.9 256.9 292.1 256.7 292.1 256.7 292.4 256.5 292.4 256.5 292.7 256.4 292.7 256.3 293 256.3 293 256.2 293.3 256.2 293.4 256.2 293.6 256.1 293.7 256.1 294 256.1 294 256.1 298 256.1 298 256.1 298 256.1 300.9 254.2 300.9 254.2 303.8 252.2 303.9 252.2 303.9 252.2 305.6 248.7 305.6 248.7 305.6 248.7 305.6 247 305.6 247 305.6 246.7 305.6 246.6 305.7 246.4 305.7 246.3 305.7 246 305.8 246 305.8 245.7 305.9 245.7 306 245.4 306 245.4 306.2 245.1 306.2 245.1 306.4 244.9 306.4 244.8 306.6 244.6 306.6 244.6 309.1 242.1 309.1 242.1 309.3 241.9 309.3 241.9 309.5 241.7 309.6 241.7 309.8 241.6 309.8 241.5 310.1 241.4 310.1 241.4 310.4 241.3 310.4 241.3 312.8 240.4 312.8 240.4 312.8 240.4 313.5 239.2 313.5 239.2 313.7 238.9 313.7 238.9 313.9 238.7 313.9 238.6 314.1 238.4 314.1 238.4 314.3 238.2 314.4 238.1 314.6 238 314.6 238 314.9 237.8 314.9 237.8 315.2 237.7 315.2 237.6 315.5 237.6 315.5 237.5 315.8 237.5 315.9 237.5 316.1 237.4 316.2 237.4 316.5 237.4 316.5 237.4 317.7 237.4 317.7 237.4 317.8 237.4 317.8 230.1 317.8 230 317.8 230 317.8 229.9 317.8 229.9 317.8 229.8 317.9 229.8 317.9 229.7 317.9 229.7 318 229.6 318 229.6 318.1 229.6 318.1 229.5 318.2 229.5 318.2 229.5 318.3 229.5 318.4 229.5 325.6 229.5 325.6 229.5 325.6 229.5 325.6 228.2 325.6 228.2 325.6 227.9 325.6 227.8 325.7 227.5 325.7 227.5 325.7 227.2 325.8 227.2 325.9 226.9 325.9 226.8 326 226.6 326 226.5 326.2 226.3 326.2 226.2 326.4 226 326.4 226 326.6 225.8 326.7 225.7 326.9 225.5 326.9 225.5 327.2 225.3 327.2 225.3 331 222.9 331 222.9 331.2 222.8 331.2 222.8 336.1 220.3 336.1 220.3 339.2 218.2 339.2 218.2 339.2 218.2 340.7 216.4 340.7 216.3 340.7 216.3 340.1 214.4 340.1 214.4 340 214.4 337 212.9 337 212.9 337 212.9 332.1 212.9 332.1 212.9 332 212.9 325.1 215.2 325.1 215.2 324.7 215.3 324.7 215.3 324.4 215.4 324.3 215.4 324 215.4 323.9 215.4 323.6 215.4 323.6 215.4 313.9 214.2 313.9 214.2 313.9 214.2 304.8 214.8 304.8 214.8 304.8 214.8 297.9 217.6 297.9 217.6 290.5 221.2 290.5 221.3 290.3 221.4 290.2 221.4 290 221.5 290 221.5 281.3 224 281.3 224 275.6 226.2 275.6 226.2 275.6 226.2 272.1 228.6 272.1 228.6 271.8 228.8 271.8 228.8 271.4 229 271.4 229 265.2 231.4 265.2 231.4 264.9 231.5 264.9 231.5 264.6 231.5 264.5 231.6 264.3 231.6 264.2 231.6 263.9 231.6 263.9 231.6 263.6 231.6 263.5 231.6 255.4 230.5 255.3 230.5 255.3 230.5 247.8 232.1 247.7 232.1 247.7 232.1 240.7 236.1 240.7 236.2 240.4 236.3 240.4 236.3 240.1 236.4 240.1 236.4 239.8 236.5 239.7 236.5 239.5 236.6 239.4 236.6 231.2 237.6 231.2 237.6 231.2 237.7 229.9 240.3 229.9 240.3 229.9 240.3 229.9 245.1ZM284.8 233.7 284.8 233.7 284.8 233.7 284.5 233.6 284.5 233.6 284.5 233.5 284.4 233.5 284.2 233.4 284.2 233.4 284.1 233.3 284.1 233.3 283.9 233.1 283.9 233.1 283.8 233.1 283.8 233.1 283.6 232.9 283.6 232.8 283.6 232.8 283.6 232.8 283.4 232.6 283.3 232.5 283.3 232.5 283.3 232.5 283.1 232.3 283.1 232.2 283.1 232.2 283.1 232.2 282.9 231.9 282.9 231.9 282.9 231.9 282.9 231.8 282.8 231.6 282.8 231.5 282.8 231.5 282.7 231.5 282.7 231.2 282.6 231.2 282.6 231.1 282.6 231.1 282.6 230.8 282.6 230.8 282.6 230.8 282.6 230.7 282.5 230.4 282.5 230.4 282.5 230.4 282.5 230.4 282.5 230.1 282.5 230 282.5 230 282.5 230 282.5 229.7 282.5 229.6 282.5 229.6 282.5 229.6 282.6 229.3 282.6 229.3 282.6 229.2 282.6 229.2 282.7 228.9 282.7 228.9 282.7 228.9 282.7 228.8 282.8 228.6 282.8 228.5 282.8 228.5 282.8 228.5 283 228.2 283 228.2 283 228.2 283 228.1 283.2 227.9 283.2 227.9 283.2 227.8 283.2 227.8 283.4 227.6 283.4 227.5 283.4 227.5 283.5 227.5 283.7 227.3 283.7 227.3 283.7 227.2 283.7 227.2 284 227 284 227 284 227 284 227 284.3 226.8 284.3 226.8 284.3 226.8 284.3 226.7 284.6 226.6 284.6 226.6 284.6 226.6 284.7 226.5 284.9 226.4 285 226.4 285 226.4 285 226.4 285.3 226.3 285.3 226.3 285.4 226.3 285.4 226.3 285.5 226.2 285.5 226.2 295.9 223.6 295.9 223.6 296.1 223.6 296.1 223.6 296.1 223.6 296.2 223.6 296.5 223.5 296.5 223.5 296.5 223.5 296.5 223.5 296.7 223.5 296.7 223.5 306.1 223 306.1 223 306.2 223 306.3 223 306.3 223 306.3 223 306.6 223 306.7 223 306.7 223 306.7 223 307 223.1 307 223.1 307.1 223.1 307.1 223.1 307.4 223.1 307.4 223.2 307.4 223.2 307.5 223.2 307.7 223.3 307.8 223.3 307.8 223.3 307.8 223.3 308.1 223.4 308.1 223.4 308.1 223.5 308.2 223.5 308.4 223.6 308.5 223.6 308.5 223.6 308.5 223.7 308.7 223.8 308.8 223.9 308.8 223.9 308.8 223.9 309 224.1 309.1 224.1 309.1 224.1 309.1 224.1 309.3 224.4 309.3 224.4 309.3 224.4 309.4 224.4 309.5 224.7 309.6 224.7 309.6 224.7 309.6 224.7 309.8 225 309.8 225 309.8 225 309.8 225.1 309.9 225.3 309.9 225.4 310 225.4 310 225.4 310.1 225.7 310.1 225.7 310.1 225.7 310.1 225.8 310.2 226.1 310.2 226.1 310.2 226.1 310.2 226.1 310.3 226.4 310.3 226.5 310.3 226.5 310.3 226.5 310.3 226.8 310.3 226.9 310.3 226.9 310.3 226.9 310.3 227 310.3 227 310.3 227 310.7 227 310.8 227 310.8 227 310.9 227 310.9 227 311 227.1 311 227.1 311.1 227.1 311.1 227.2 311.2 227.2 311.2 227.3 311.2 227.3 311.3 227.4 311.3 227.4 311.3 227.5 311.3 227.5 311.3 227.6 311.3 227.7 311.3 227.7 311.3 227.8 311.1 228.2 311.1 228.3 311.2 228.3 311.4 228.3 311.5 228.3 311.5 228.3 311.5 228.3 311.8 228.4 311.8 228.4 311.9 228.4 311.9 228.4 312.2 228.6 312.2 228.6 312.2 228.6 312.2 228.6 312.5 228.7 312.5 228.8 312.5 228.8 312.6 228.8 312.8 228.9 312.8 229 312.9 229 312.9 229 313.1 229.2 313.1 229.2 313.2 229.2 313.2 229.2 313.4 229.5 313.4 229.5 313.4 229.5 313.5 229.5 313.7 229.7 313.7 229.8 313.7 229.8 313.7 229.8 313.9 230.1 313.9 230.1 313.9 230.1 313.9 230.1 314.1 230.4 314.1 230.4 314.1 230.4 314.1 230.5 314.2 230.7 314.2 230.8 314.3 230.8 314.3 230.8 314.3 231 314.3 231 315.3 234.1 315.3 234.1 315.4 234.2 315.4 234.2 315.4 234.3 315.4 234.3 315.4 234.6 315.4 234.6 315.4 234.6 315.4 234.7 315.5 235 315.5 235 315.5 235 315.5 235.1 315.5 235.4 315.5 235.4 315.5 235.4 315.5 235.4 315.5 235.7 315.5 235.8 315.5 235.8 315.5 235.8 315.4 236.1 315.4 236.2 315.4 236.2 315.4 236.2 315.3 236.5 315.3 236.5 315.3 236.6 315.3 236.6 315.2 236.9 315.2 236.9 315.2 236.9 315.1 236.9 315 237.2 315 237.2 315 237.3 315 237.3 314.8 237.5 314.8 237.6 314.8 237.6 314.8 237.6 314.6 237.8 314.6 237.9 314.6 237.9 314.5 237.9 314.3 238.1 314.3 238.1 314.3 238.2 314.3 238.2 314 238.4 314 238.4 314 238.4 314 238.4 313.7 238.6 313.7 238.6 313.7 238.6 313.7 238.7 313.4 238.8 313.4 238.8 313.4 238.8 313.3 238.9 313.1 239 313 239 313 239 313 239 312.8 239.1 312.8 239.1 309.7 240.2 309.7 240.2 309.6 240.2 309.6 240.2 309.5 240.2 309.5 240.2 309.2 240.3 309.2 240.3 309.1 240.3 309.1 240.3 308.8 240.4 308.8 240.4 308.7 240.4 308.7 240.4 308.4 240.4 308.3 240.4 308.3 240.4 308.3 240.4 308 240.4 307.9 240.4 307.9 240.4 307.9 240.4 307.6 240.3 307.5 240.3 307.5 240.3 307.5 240.3 307.2 240.2 307.1 240.2 307.1 240.2 307.1 240.2 306.8 240.1 306.8 240 306.7 240 306.7 240 306.4 239.9 306.4 239.9 306.4 239.8 306.3 239.8 306.1 239.7 306.1 239.6 306 239.6 306 239.6 305.8 239.4 305.7 239.4 305.7 239.4 305.7 239.3 305.6 239.2 305.6 239.2 304.5 238.1 304.5 238.1 304.4 238 304.4 238 304.3 238 304.3 238 304.1 237.7 304.1 237.7 304.1 237.7 304.1 237.6 303.9 237.4 303.9 237.4 303.9 237.3 303.8 237.3 303.7 237 303.7 237 303.7 237 303.7 237 303.5 236.7 303.5 236.7 303.5 236.7 302.7 236.8 302.7 236.8 302.7 236.8 301.3 238.6 301.3 238.7 298.2 243.7 298.2 243.7 298.1 243.8 298.1 243.8 298.1 243.9 298.1 243.9 297.9 244.1 297.9 244.2 297.9 244.2 297.8 244.2 297.6 244.4 297.6 244.4 297.6 244.5 297.6 244.5 297.3 244.7 297.3 244.7 297.3 244.7 297.3 244.7 297 244.9 297 244.9 297 244.9 297 245 296.7 245.1 296.7 245.1 296.7 245.1 296.6 245.2 296.4 245.3 296.3 245.3 296.3 245.3 296.3 245.3 296 245.4 296 245.4 295.9 245.4 295.9 245.4 295.6 245.5 295.6 245.5 295.6 245.5 295.5 245.5 295.2 245.6 295.2 245.6 295.2 245.6 295.1 245.6 294.8 245.6 294.8 245.6 294.8 245.6 294.8 245.6 294.5 245.6 294.4 245.6 294.4 245.6 294.4 245.6 294.1 245.5 294 245.5 294 245.5 294 245.5 293.7 245.4 293.7 245.4 293.6 245.4 293.6 245.4 293.3 245.3 293.3 245.3 293.3 245.3 293.2 245.3 293 245.2 292.9 245.1 292.9 245.1 292.9 245.1 292.6 245 292.6 244.9 292.6 244.9 292.6 244.9 292.4 244.8 292.4 244.8 290.9 243.7 290.9 243.7 290.8 243.6 290.8 243.6 290.8 243.6 290.7 243.6 290.5 243.4 290.5 243.3 290.5 243.3 290.4 243.3 290.2 243.1 290.2 243.1 290.2 243 290.2 243 290 242.8 290 242.7 290 242.7 289.9 242.7 289.8 242.4 289.8 242.4 289.8 242.4 289.7 242.3 289.6 242.1 289.6 242 289.6 242 289.6 242 289.5 241.7 289.5 241.6 289.5 241.6 289.5 241.6 289.4 241.3 289.4 241.3 289.4 241.2 289.4 241.2 289.3 240.9 289.3 240.9 289.3 240.8 289.3 240.8 289.3 240.5 289.3 240.5 289.3 240.4 289.3 240.4 289.3 240.1 289.3 240.1 289.3 240 289.3 240 289.4 239.7 289.4 239.7 289.4 239.6 289.4 239.6 289.5 239.3 289.5 239.3 289.5 239.3 289.5 239.2 289.6 238.9 289.6 238.9 289.6 238.9 289.7 238.9 289.7 238.7 289.7 238.7 290.8 236.5 290.8 236.5 290.8 236.5 289.7 235.7 289.7 235.7 289.7 235.7 285 233.8 285 233.8 284.9 233.7ZM270.2 243 270.2 243 270.2 243 269.9 243 269.8 243 269.8 243 269.8 243 269.5 243 269.4 243 269.4 243 269.4 243 269.1 242.9 269.1 242.9 269 242.9 269 242.9 268.7 242.8 268.7 242.8 268.6 242.8 268.6 242.8 268.3 242.7 268.3 242.7 268.3 242.7 268.2 242.7 268 242.6 267.9 242.5 267.9 242.5 267.9 242.5 267.6 242.4 267.6 242.3 267.6 242.3 267.5 242.3 267.3 242.1 267.3 242.1 267.3 242.1 267.2 242.1 267 241.9 267 241.8 267 241.8 266.9 241.8 266.7 241.6 266.7 241.5 266.7 241.5 266.7 241.5 266.5 241.2 266.5 241.2 266.5 241.2 266.4 241.2 266.3 240.9 266.3 240.9 266.3 240.9 266.2 240.8 266.1 240.6 266.1 240.5 266.1 240.5 266.1 240.5 266 240.2 266 240.2 266 240.1 266 240.1 265.9 239.8 265.9 239.8 265.9 239.7 265.9 239.7 265.8 239.4 265.8 239.4 265.8 239.3 265.8 239.3 265.8 239 265.8 239 265.8 239 265.8 238.9 265.8 238.6 265.8 238.6 265.8 238.6 265.8 238.5 265.9 238.2 265.9 238.2 265.9 238.2 265.9 238.1 266 237.8 266 237.8 266 237.8 266 237.8 266.1 237.5 266.1 237.4 266.1 237.4 266.1 237.4 266.3 237.1 266.3 237.1 266.3 237 266.3 237 266.4 236.9 266.4 236.9 270.6 230.1 270.6 230.1 270.7 230 270.7 229.9 270.7 229.9 270.7 229.9 270.9 229.6 270.9 229.6 271 229.6 271 229.6 271.2 229.4 271.2 229.3 271.2 229.3 271.3 229.3 271.5 229.1 271.5 229.1 271.5 229 271.6 229 271.8 228.9 271.8 228.8 271.9 228.8 271.9 228.8 272.2 228.6 272.2 228.6 272.2 228.6 272.2 228.6 272.5 228.5 272.6 228.5 272.6 228.5 272.6 228.5 272.9 228.4 272.9 228.3 273 228.3 273 228.3 273.3 228.3 273.3 228.3 273.4 228.3 273.4 228.2 273.7 228.2 273.7 228.2 273.7 228.2 273.8 228.2 274.1 228.2 274.1 228.2 274.1 228.2 274.2 228.2 274.5 228.2 274.5 228.2 274.5 228.2 274.6 228.2 274.9 228.3 274.9 228.3 274.9 228.3 275 228.3 275.3 228.4 275.3 228.4 275.3 228.4 275.3 228.4 275.5 228.5 275.5 228.5 280.7 230.6 280.7 230.6 280.8 230.7 280.9 230.7 280.9 230.7 280.9 230.7 281.2 230.8 281.2 230.9 281.2 230.9 281.3 230.9 281.5 231.1 281.6 231.1 281.6 231.1 281.6 231.1 281.8 231.3 281.9 231.3 281.9 231.3 281.9 231.4 282 231.5 282 231.5 286.2 235.7 286.2 235.7 286.3 235.8 286.3 235.8 286.4 235.8 286.4 235.8 286.6 236.1 286.6 236.1 286.6 236.1 286.6 236.2 286.8 236.4 286.8 236.4 286.8 236.5 286.9 236.5 287 236.8 287 236.8 287 236.8 287 236.8 287.2 237.1 287.2 237.2 287.2 237.2 287.2 237.2 287.3 237.5 287.3 237.5 287.3 237.6 287.3 237.6 287.4 237.9 287.4 237.9 287.4 237.9 287.4 238 287.4 238.3 287.4 238.3 287.4 238.3 287.4 238.4 287.4 238.7 287.4 238.7 287.4 238.7 287.4 238.8 287.4 239.1 287.4 239.1 287.3 239.1 287.3 239.2 287.3 239.5 287.3 239.5 287.3 239.5 287.3 239.5 287.2 239.8 287.2 239.9 287.1 239.9 287.1 239.9 287 240.2 287 240.2 287 240.3 287 240.3 286.8 240.5 286.8 240.6 286.8 240.6 286.8 240.6 286.6 240.9 286.6 240.9 286.6 240.9 286.6 240.9 286.4 241.2 286.3 241.2 286.3 241.2 286.3 241.2 286.1 241.5 286.1 241.5 286 241.5 286 241.5 285.8 241.7 285.8 241.7 285.7 241.7 285.7 241.8 285.5 241.9 285.4 241.9 285.4 242 285.4 242 285.1 242.1 285.1 242.1 285 242.1 285 242.2 284.7 242.3 284.7 242.3 284.7 242.3 284.7 242.3 284.4 242.4 284.3 242.4 284.3 242.4 284.3 242.4 284 242.5 283.9 242.5 283.9 242.5 283.9 242.5 283.6 242.5 283.5 242.5 283.5 242.5 283.5 242.5 283.2 242.5 283.2 242.5 283.1 242.5 283.1 242.5 282.9 242.5 282.9 242.5 278.2 241.9 278.2 241.9 278.2 241.9 273.5 242.5 273.5 242.5 270.4 243 270.4 243 270.3 243ZM125.1 246.5 125.1 246.5 132.1 252.3 132.1 252.3 138.8 257.3 138.8 257.3 138.8 257.3 147.1 258.4 147.1 258.4 147.1 258.4 154.1 255.9 154.1 255.9 154.1 255.9 157 252.1 157 252.1 157 252.1 158.2 248.8 158.3 248.8 158.2 248.8 156.2 243.8 156.2 243.7 156.2 243.6 156.2 243.6 154 237.3 154 237.3 153.9 237 153.9 237 153.8 236.7 153.8 236.6 153.8 236.3 153.8 236.2 153.8 235.9 153.8 235.9 154.7 224.7 154.7 224.7 154.7 224.6 154.7 224.6 155.6 217.5 155.6 217.5 155.6 217.5 152.3 217.5 152.3 217.5 152.3 217.5 148.6 221.2 148.6 221.2 148.4 221.4 148.4 221.4 141 227.6 141 227.6 140.7 227.8 140.7 227.8 140.5 228 140.4 228 140.2 228.1 140.1 228.1 131.4 231.9 131.3 231.9 131 232 131 232 124.2 234.2 124.2 234.2 124.2 234.2 121.4 236.7 121.4 236.7 121.4 236.7 121 240.3 121 240.3 121 240.3 125.1 246.5ZM97.5 301.8 97.7 302 97.7 302.1 97.8 302.3 97.9 302.3 98 302.6 98 302.6 98.1 302.9 98.1 302.9 98.1 303.2 98.2 303.2 98.7 306.5 98.7 306.5 98.7 306.6 101.5 308.7 101.5 308.8 106 311.8 106 311.8 108.3 313.3 108.3 313.3 108.3 313.3 112.1 313.5 112.1 313.5 112.4 313.5 112.5 313.6 112.8 313.6 112.8 313.6 113.1 313.7 113.2 313.7 113.4 313.9 113.5 313.9 115.4 314.9 115.4 314.9 115.4 314.9 117 314.4 117.1 314.4 120.6 313.3 120.6 313.3 120.6 313.3 121.9 311.6 121.9 311.6 121.9 311.6 121.9 311.4 121.9 311.4 121.9 311.4 120.7 310.4 120.7 310.4 120.5 310.3 120.4 310.2 120.3 310.1 120.2 310 120.1 309.8 120 309.8 119.9 309.6 119.9 309.6 118.8 308 118.8 307.9 118.8 307.9 117.6 307.3 117.6 307.3 117.6 307.3 115.3 308.9 115.3 308.9 115.1 309.1 115 309.1 114.8 309.2 114.7 309.2 114.5 309.3 114.4 309.3 114.2 309.4 114.1 309.4 113.8 309.5 113.8 309.5 113.5 309.5 113.4 309.5 113.2 309.5 113.1 309.5 112.8 309.5 112.8 309.4 112.5 309.4 112.5 309.4 112.2 309.3 112.2 309.3 108.3 307.8 108.3 307.8 108.2 307.7 108.2 307.7 104.4 306.1 104.4 306.1 104.1 306 104.1 306 103.8 305.8 103.8 305.8 103.6 305.6 103.5 305.6 103.3 305.4 103.3 305.4 100.5 302.6 100.5 302.6 100.5 302.6 96.4 300.3 96.4 300.3 96.4 300.3 97.5 301.8ZM469.2 318.2 469.2 318.2 471.3 318.7 471.4 318.7 471.8 318.8 471.8 318.8 476.4 320.4 476.5 320.4 476.5 320.4 482.3 321.1 482.3 321.1 482.3 321.1 486.6 320.5 486.6 320.5 486.6 320.5 488.9 318.1 488.9 318.1 490.8 315.6 490.8 315.6 490.8 315.6 491.3 313 491.3 313 491.3 313 490.3 309.7 490.3 309.6 490.3 309.4 490.3 309.3 490.2 309.1 490.2 309 490.2 308.7 490.2 308.7 490.2 304.4 490.2 304.4 490.2 304.4 490.2 304.4 490.2 304.4 488.8 305 488.8 305 488.5 305.2 488.5 305.2 488.2 305.3 488.1 305.3 487.8 305.4 487.8 305.4 487.5 305.4 487.4 305.4 477.6 305.8 477.6 305.8 474.7 306.1 474.6 306.2 472 306.9 472 306.9 472 306.9 469.2 308.5 469.2 308.5 469.2 308.5 469.2 318.2ZM210.9 335.7 211 336 211.1 336 211.1 336.3 211.1 336.4 211.2 336.6 211.2 336.7 211.2 337 211.2 337 211.2 339.2 211.2 339.2 211.2 339.2 214.7 342.2 214.7 342.2 214.7 342.3 220.5 345.2 220.5 345.2 220.6 345.2 220.6 345.2 225.6 347.8 225.6 347.8 225.8 347.9 225.8 347.9 229.6 350.3 229.6 350.3 229.6 350.3 229.6 350.3 234.2 353.3 234.2 353.3 234.2 353.3 239.6 354.8 239.6 354.8 239.7 354.8 246.8 355.5 246.8 355.5 247.3 355.6 247.3 355.6 251.5 356.6 251.5 356.6 251.5 356.6 255.7 355.6 255.7 355.6 256.2 355.5 256.2 355.5 263.6 354.8 263.6 354.8 270.4 353.7 270.4 353.7 270.5 353.7 274.5 351.7 274.5 351.7 274.5 351.7 282.8 343.4 282.8 343.4 283.1 343.1 283.2 343.1 287.5 339.8 287.5 339.8 287.5 339.7 289.8 335.4 289.8 335.4 289.9 335.2 289.9 335.2 292.3 331.4 292.3 331.4 292.5 331.2 292.5 331.1 292.7 330.9 292.7 330.9 292.9 330.7 292.9 330.7 293.1 330.5 293.2 330.5 293.4 330.3 293.4 330.3 296.6 328.3 296.6 328.3 296.6 328.3 298.1 326.2 298.2 326.2 298.3 326 298.3 326 301.4 322.3 301.4 322.3 301.6 322.1 301.6 322.1 301.7 322 301.7 322 301.7 322 294.4 322 294.3 322 294.3 322 294.2 322 294.2 322 294.1 321.9 294.1 321.9 294 321.9 294 321.8 293.9 321.8 293.9 321.7 293.9 321.7 293.8 321.6 290.8 314.7 290.8 314.7 290.8 314.7 290.7 314.7 290.6 314.6 290.4 314.4 290.4 314.4 290.2 314.2 290.2 314.2 290 313.9 290 313.9 287.7 310.6 287.7 310.6 287.7 310.6 285 308.5 285 308.5 284.8 308.3 284.8 308.3 284.6 308.1 284.6 308.1 284.4 307.9 284.4 307.8 284.2 307.6 284.2 307.6 284.1 307.3 284.1 307.3 282.6 304.3 282.6 304.3 282.5 304.3 279.6 302.3 279.6 302.3 279.4 302.1 279.3 302.1 279.1 301.9 279.1 301.9 278.9 301.7 278.8 301.6 278.7 301.4 278.7 301.4 278.5 301.1 278.5 301.1 278.4 300.8 278.3 300.8 278.3 300.5 278.2 300.5 278.2 300.2 278.2 300.1 278.1 299.9 278.1 299.8 278.1 299.5 278.1 299.5 278.1 294.8 278.1 294.8 278.1 294.8 275.6 292.7 275.6 292.7 275.4 292.5 275.4 292.5 275.2 292.3 275.1 292.2 275 292 275 292 274.8 291.7 274.8 291.7 274.7 291.4 274.7 291.4 274.6 291.1 274.5 291.1 274.5 290.8 274.5 290.8 274.4 290.5 274.4 290.4 274.4 290.2 274.4 290.1 274.4 289.8 274.4 289.8 274.5 289.5 274.5 289.5 274.5 289.2 274.5 289.2 274.6 288.9 274.6 288.9 274.9 288.3 274.9 288.3 275 288 275 287.9 275.2 287.7 275.2 287.6 275.3 287.4 275.4 287.4 275.6 287.2 275.6 287.1 275.8 286.9 275.9 286.9 276.1 286.7 276.1 286.7 276.4 286.5 276.4 286.5 276.7 286.4 276.7 286.4 276.8 286.3 276.8 286.3 276.8 286.3 278.4 283.1 278.4 283.1 280.1 278.5 280.1 278.5 280.7 276.2 281 275 281 275 281 275 274.2 281.8 274.1 281.9 274.1 281.9 274 281.9 274 282 273.9 282 273.9 282 273.8 282 273.8 282 268.8 282 268.8 282 268.8 282 266.4 284.4 266.4 284.4 266.2 284.6 266.1 284.6 265.9 284.8 265.9 284.8 265.6 285 265.6 285 265.4 285.1 265.3 285.1 265 285.2 265 285.2 261.3 286.4 261.3 286.4 258.9 287.2 258.9 287.3 258.9 287.3 257 291 257 291 256.9 291.3 256.9 291.3 256.7 291.6 256.7 291.6 256.5 291.8 256.4 291.9 256.2 292.1 256.2 292.1 256 292.3 255.9 292.3 255.7 292.5 255.6 292.5 255.4 292.6 255.3 292.6 255.1 292.7 255 292.7 254.7 292.8 254.7 292.8 254.4 292.9 254.3 292.9 254.1 292.9 254 292.9 253.7 292.9 253.7 292.9 253.4 292.8 253.3 292.8 253.1 292.8 253 292.8 252.7 292.7 252.7 292.6 252.4 292.5 252.4 292.5 252.1 292.3 252.1 292.3 251.9 292.1 251.8 292.1 251.6 291.9 251.6 291.9 249.8 290.1 249.8 290.1 249.8 290.1 247.1 289.5 247.1 289.4 247.1 289.5 246.8 289.6 246.8 289.6 246.8 289.7 247.2 291 247.2 291 247.3 291.3 247.3 291.3 247.4 291.6 247.4 291.7 247.4 291.9 247.4 292 247.4 292.3 247.4 292.3 247.3 292.6 247.3 292.7 247.3 292.9 247.3 293 247.2 293.2 247.1 293.3 247 293.6 247 293.6 246.8 293.9 246.8 293.9 244.5 297.5 244.4 297.5 242.4 301.6 242.4 301.6 242.4 301.6 242.4 304.5 242.4 304.5 242.4 304.8 242.4 304.8 242.3 305.1 242.3 305.2 242.3 305.4 242.3 305.5 242.2 305.7 242.2 305.8 242 306 242 306 239.5 311 239.5 311 239.4 311.3 239.4 311.3 239.2 311.5 239.2 311.6 239 311.8 239 311.8 238.8 312 238.8 312 238.6 312.2 238.5 312.2 238.3 312.4 238.3 312.4 238 312.5 238 312.5 233 315 233 315 232.7 315.2 232.6 315.2 232.3 315.3 232.3 315.3 227.8 316.4 227.8 316.4 227.8 316.4 222.3 319.7 222.3 319.7 222.3 319.7 219.1 323 219.1 323 215.5 327.8 215.5 327.8 215.3 328.1 215.3 328.1 215.1 328.3 215.1 328.3 214.8 328.5 214.8 328.6 214.6 328.7 214.5 328.7 214.3 328.9 214.2 328.9 213.9 329 213.9 329 213.6 329.1 213.6 329.1 209.9 330 209.9 330 209.9 330 209.1 331.2 209.1 331.2 209.1 331.2 210.9 335.7ZM438.1 413.5 438.1 413.5 441.7 411.2 441.7 411.2 442.1 411 442.1 411 444.8 409.6 444.9 409.6 444.9 409.6 445.8 408 445.9 408 445.9 407.9 445.9 407.9 447.4 405.8 447.4 405.8 447.5 405.8 447.5 405.8 449 403.8 449 403.7 449 403.7 449 403.6 449 403.6 449 403.6 449 403.6 449 403.5 449 403.5 447.5 403.4 447.4 403.4 447 403.3 447 403.3 445 402.8 445 402.8 445 402.8 443.8 403.2 443.8 403.2 443.8 403.2 441.8 405.5 441.8 405.5 441.8 405.5 440.9 407.5 440.9 407.5 439.7 411 439.7 411 439.6 411.3 439.6 411.3 439.4 411.6 439.4 411.6 439.3 411.9 439.2 411.9 439 412.2 439 412.2 437.7 413.6 437.7 413.6 437.7 413.6 438.1 413.5Z" fill="#fc1626" fill-rule="evenodd" stroke="#fc1626" stroke-width="0.8" stroke-linejoin="round"/><path d="M471.4 316.4h0M475.7 317.8h0M480.2 318.6h0M484.8 318.5h0M488.1 315.6h0M488.5 311.3h0M487.3 307.6h0M482.7 307.8h0M478.1 308h0M473.6 308.7h0M471.4 311.8h0M443.1 408h0M232.1 244.7h0M233.8 248.9h0M237.1 252h0M240.6 254.9h0M244.3 257.4h0M248.3 259.4h0M252.7 259.5h0M257 258h0M261.3 256.6h0M265.3 254.7h0M269 252h0M273.2 250.5h0M277.7 250.6h0M282.1 251.7h0M286.5 252.8h0M290 255.4h0M294.1 253.9h0M298.4 253.2h0M302.1 250.7h0M303.4 246.4h0M305.5 242.6h0M303 240.1h0M300.6 244h0M297.5 247.2h0M293.1 247.6h0M289.3 245.2h0M286.2 244h0M281.8 244.6h0M277.3 244.2h0M272.8 244.8h0M268.3 245h0M264.7 242.5h0M263.7 238.2h0M265.5 234.1h0M262.3 233.6h0M257.8 233h0M253.3 233.1h0M248.9 234.1h0M244.9 236.3h0M241 238.4h0M236.5 239.2h0M232.4 240.3h0M278.7 227.4h0M294.6 221.7h0M299.2 221.2h0M303.9 220.9h0M308.5 221.2h0M311.8 224.2h0M314.7 227.7h0M318.1 227.3h0M322.7 227.3h0M325.4 224h0M329.3 221.4h0M333.4 219.2h0M337.3 216.8h0M335 215.1h0M330.4 215.8h0M326 217.2h0M321.4 217.3h0M316.8 216.8h0M312.2 216.5h0M307.5 216.8h0M303.1 217.8h0M298.8 219.6h0M211.7 331.8h0M213.3 336.1h0M215.2 339.8h0M219.1 342h0M223.2 344.1h0M227.2 346.2h0M231 348.6h0M234.8 351.1h0M239.2 352.4h0M243.6 353h0M248.2 353.5h0M252.6 354.1h0M257 353.2h0M261.5 352.8h0M266 352.2h0M270.4 351.3h0M274.2 348.8h0M277.4 345.6h0M280.7 342.4h0M284.2 339.6h0M286.9 336.1h0M289.2 332.2h0M292 328.6h0M295.6 326h0M294.6 324.2h0M291.4 321.5h0M289.5 317.4h0M287.1 313.6h0M283.9 310.4h0M281.3 306.8h0M278 303.9h0M275.9 300h0M275.6 295.6h0M272.6 292.2h0M272.7 287.8h0M275.4 284.2h0M272.7 284.2h0M268.6 285.3h0M264.8 287.6h0M260.5 289h0M258.4 293h0M254.5 295.1h0M250.3 293.7h0M248 296.1h0M245.7 299.9h0M244.6 304.2h0M243.3 308.5h0M241.2 312.5h0M237.6 315.2h0M233.5 317.2h0M229.1 318.3h0M225.2 320.5h0M221.8 323.4h0M218.9 327h0M216 330.4h0M142.4 148.5h0M144.3 152.6h0M148.6 153.3h0M150 157.4h0M150.4 162h0M150.9 166.5h0M150.2 170.9h0M151.1 174.1h0M155.6 174.4h0M160.1 174.4h0M164.6 174.8h0M169 175.8h0M173.4 177h0M177.9 177.6h0M181.9 179.2h0M183.9 182.7h0M187.8 180.5h0M191.6 178h0M194.1 174.3h0M195.5 170h0M196 165.6h0M195.3 161.1h0M193.5 157h0M191.2 153.1h0M188.6 149.3h0M184.8 146.9h0M180.7 145h0M176.6 143.2h0M172.2 142.2h0M167.7 141.3h0M163.2 142.1h0M158.8 143h0M154.3 143.7h0M149.8 144.5h0M145.5 145.8h0M179.4 191.5h0M174.8 193.9h0M170.6 196.7h0M172.1 201.2h0M176.3 200.8h0M179 196.6h0M123.3 239.8h0M125.8 243.6h0M128.9 246.8h0M132.4 249.7h0M136.1 252.5h0M139.7 255.2h0M144.3 255.8h0M148.7 255.5h0M152.9 253.9h0M155.4 250.1h0M154.7 245.9h0M153.1 241.6h0M151.7 237.2h0M151.9 232.7h0M152.2 228.1h0M152.6 223.6h0M152.6 220.3h0M149.3 223.5h0M145.8 226.4h0M142.3 229.3h0M138.2 231.3h0M134 233.2h0M129.8 234.8h0M125.4 236.1h0M106.3 309.3h0M111.1 311.2h0M113.9 311.7h0M118.4 311.3h0M26.3 186.1h0M27.1 190.6h0M28 195h0M29.2 199.3h0M30.4 203.7h0M31.2 208.1h0M32.3 210.9h0M36.2 208.7h0M40.5 207.4h0M45 207h0M49 205.4h0M53.2 204.5h0M57.7 204.8h0M61.7 203h0M66 201.9h0M70.1 200.8h0M74.2 199.4h0M78.7 199.4h0M83.1 198.5h0M87.6 197.7h0M91.4 195.7h0M93.8 192h0M98 190.6h0M101.9 192.7h0M105 195.3h0M108.4 197.5h0M108.5 202h0M108.5 206.5h0M110.2 210.1h0M114.3 212.1h0M116.8 209h0M118.6 204.9h0M115.8 203.5h0M112.8 200.8h0M112.8 196.3h0M110.2 192.9h0M109.6 188.6h0M110.7 184.5h0M111.8 180.3h0M110.5 178h0M106.4 176.2h0M102.5 174h0M98.6 171.6h0M95 168.9h0M91.5 166.2h0M87.9 163.4h0M84.4 160.5h0M80.6 158.2h0M76.4 156.7h0M72 155.8h0M67.6 154.9h0M63.1 154.7h0M58.6 154.7h0M54.3 156.1h0M50.1 157.6h0M45.9 159.1h0M41.6 160.7h0M37.4 162.2h0M34.5 165.6h0M32.1 169.4h0M29.9 173.3h0M27.8 177.3h0M27 181.7h0M33.1 220.2h0M32.1 224.6h0M31 229h0M29.9 233.5h0M28.8 237.9h0M27.7 242.3h0M26.7 246.8h0M27.5 251.1h0M29 255.4h0M30.6 259.7h0M32.3 264h0M34.6 267.8h0M37.8 271.1h0M41.9 273h0M46.2 274.4h0M50.6 275.4h0M55.2 275.6h0M59.8 275.6h0M64.3 275.6h0M68.4 274.6h0M72.4 272.5h0M76.3 270.1h0M74.4 267.9h0M70.4 265.8h0M66.7 263.3h0M65.3 259h0M64.3 254.5h0M63.3 250.1h0M62.7 245.5h0M62 241h0M58.8 238h0M55.2 235.3h0M51.2 233.1h0M47.1 231h0M43.1 229h0M39 226.9h0M35.9 223.8h0" stroke="#fc1626" stroke-width="6.5" stroke-linecap="round" fill="none"/><path d="M84.9 181.5h0M480.1 316.8h0M146.2 253.1h0M263.3 326.3h0M34.5 229.7h0M290.4 328.3h0M76.8 184.3h0M51.3 175.8h0M34.2 263.8h0M153.5 154h0M158.6 154.2h0M284.2 246.5h0M103.6 184.3h0M184.5 165.4h0M325.1 222.3h0M78 159.9h0M168.5 146.9h0M53.9 246.2h0M81.3 191.8h0M91.6 195.6h0M31.4 228.6h0M55.4 168.2h0M316.5 223h0M259.5 242.1h0M43.1 189.8h0M260.9 312.6h0M185.8 179h0M75.7 196.1h0M40.4 251.5h0M272.3 342.8h0M97.7 182.8h0M75.6 196.3h0M276.7 332.8h0M263.3 312h0M73.1 179.3h0M271.9 339.4h0M29 191.9h0M32.6 244.6h0M186.7 163.8h0M64.8 154.7h0M303.1 247.3h0M51.9 179.8h0" stroke="#fc1626" stroke-width="6.5" stroke-linecap="round" fill="none"/><path d="M475.8 314.8h0M247.9 323.9h0M256.9 321.4h0M126.9 239.7h0M266 243.6h0M228.6 334.8h0M318.6 217.9h0M72.3 167.3h0M117 311.6h0M190.7 156.2h0M153.2 247.9h0M32.3 253h0M220.9 327.8h0M269.5 347.1h0M44.3 172.9h0M229.3 322h0M246.8 298.6h0M143.7 151.2h0M149.5 251.2h0" stroke="#f9463d" stroke-width="6.5" stroke-linecap="round" fill="none"/><path d="M67.5 156.5h0M49.4 195h0M254.9 243.4h0M259.2 309.4h0M76.6 182.4h0M268 323.4h0M269 296.9h0M48.9 267.7h0M41.7 181h0M144.6 235.2h0" stroke="#fe6a55" stroke-width="6.5" stroke-linecap="round" fill="none"/><path d="M136.9 247h0M114.9 206.2h0M112.8 200.2h0M107.4 188.8h0M144.6 241.1h0M106.4 186.2h0M142.3 242.5h0M147.8 245.6h0M31 207.6h0M219.9 340.6h0M148 239.7h0M235 334.9h0M149.5 244.1h0M228.9 333h0" stroke="#fc1626" stroke-width="6.5" stroke-linecap="round" fill="none"/><path d="M134.2 244.8h0M151.5 239.4h0M234.9 330.9h0M231.6 343.5h0M109.7 199h0M30.5 198.3h0M145.1 249.4h0M230.1 330.1h0M133.4 249.1h0M143.5 241.3h0M233.3 328.5h0M141.9 233.3h0M223.7 333.8h0M131.1 241.5h0M143.7 255.8h0M145.6 239.8h0M147.1 226.2h0M141.3 239.6h0M27.6 192.3h0" stroke="#fe6a55" stroke-width="6.5" stroke-linecap="round" fill="none"/><path d="M143.2 245.1h0M150 242.2h0M144.9 236.4h0M124.9 241.4h0M104.6 182.1h0M143 229h0M148.2 236.4h0M31.2 198.5h0M134.5 243.7h0M221.9 331.9h0M229.1 325.8h0" stroke="#f9463d" stroke-width="6.5" stroke-linecap="round" fill="none"/><path d="M148.6 250.5h0M116.5 210h0M236.2 339.7h0M148 248.3h0" stroke="#f59582" stroke-width="6.5" stroke-linecap="round" fill="none"/><path d="M164.8 212.4h0M115.3 201.1h0M324.4 241.4h0M285.4 263.7h0" stroke="#fc1626" stroke-width="6.5" stroke-linecap="round" fill="none"/><path d="M268.7 277.8h0M289.9 311.9h0M273.1 280.2h0M268.6 280.1h0M151.2 205.2h0" stroke="#fe6a55" stroke-width="6.5" stroke-linecap="round" fill="none"/><path d="M315.6 21.1h0" stroke="#f98a78" stroke-width="6.5" stroke-linecap="round" fill="none"/><path d="M472.2 309.1h0M479.9 312.9h0M483.7 318.7h0M485.7 307.1h0M476.1 316.7h0M468.4 314.8h0" stroke="#fc1626" stroke-width="6.5" stroke-linecap="round" fill="none"/><path d="M42.5 211.2h0M62.5 205h0M70 205.6h0" stroke="#fc1626" stroke-width="6.5" stroke-linecap="round" fill="none"/><path d="M137.5 198.1h0M145 206.2h0M151.2 206.9h0M156.9 211.9h0" stroke="#fe6a55" stroke-width="6.5" stroke-linecap="round" fill="none"/><path d="M326.5 312.6h0M330.9 311h0M334 313.5h0M331.5 315.1h0" stroke="#fc1626" stroke-width="6.5" stroke-linecap="round" fill="none"/><path d="M451.1 316.7h0M449.2 309.1h0M407.7 312.1h0M170.1 277.2h0M436.9 413.1h0M441.1 408.1h0M446.1 403.1h0M449.2 402h0" stroke="#fc1626" stroke-width="6.5" stroke-linecap="round" fill="none"/><path d="M167.4 274.9h0" stroke="#fe6a55" stroke-width="6.5" stroke-linecap="round" fill="none"/>
</g>
<rect x="96.50" y="539.70" width="514.10" height="432.90" fill="none" stroke="#333" stroke-width="1.4"/>
<text x="353.55" y="525.20" font-family="Liberation Sans" font-size="23.47" fill="#1a1a1a" text-anchor="middle">ITGAM</text>
<g transform="translate(610.8,539.2)">
<use href="#sil" fill="#7565b2" stroke="#7565b2" stroke-width="0.8" stroke-linejoin="round"/>
<path d="M147 171.3 147 171.3 147.1 171.3 147.1 171.3 147.2 171.3 147.2 171.4 147.3 171.4 147.3 171.4 147.4 171.5 147.4 171.5 147.4 171.6 147.5 171.6 147.5 171.7 147.5 171.7 147.5 171.8 147.5 171.8 147.5 179 147.5 179 147.5 179 152 178 152 178 152.2 177.9 152.3 177.9 152.5 177.9 152.5 177.9 162.5 177.9 162.5 177.9 162.7 177.9 162.8 177.9 163 178 163 178 168 179.2 168 179.2 168 179.2 168 179.2 173 180.5 173 180.5 178.6 181.8 178.6 181.8 178.7 181.8 178.8 181.8 178.9 181.9 179 181.9 179.1 182 179.2 182 179.3 182.1 179.4 182.1 179.5 182.2 179.5 182.2 179.6 182.4 179.7 182.4 179.8 182.5 179.8 182.6 179.9 182.7 179.9 182.7 180 182.9 180 182.9 180.1 183.1 180.1 183.1 180.1 183.2 180.1 183.3 180.2 183.5 180.2 183.5 180.2 183.7 180.2 183.7 180.2 183.9 180.2 183.9 180.2 184.1 180.2 184.1 180.1 184.3 180.1 184.3 179.5 186.7 179.5 186.7 179.5 186.9 179.5 186.9 179.4 187.1 179.4 187.1 179.3 187.2 179.3 187.3 179.2 187.4 179.2 187.4 179.1 187.6 179.1 187.6 179 187.7 178.9 187.7 178.8 187.8 178.8 187.9 178.7 187.9 178.6 188 178.5 188.1 178.5 188.1 173.5 190.6 173.5 190.6 167.9 193.9 167.9 193.9 167.9 193.9 166.6 197.6 166.6 197.6 166.6 197.6 168 202.5 168 202.5 168 202.5 172.2 205.6 172.2 205.6 172.2 205.6 174.6 206.4 174.6 206.4 174.6 206.4 178.6 203.4 178.6 203.4 181.8 200.2 181.9 200.2 181.9 200.2 182.9 194.8 182.9 194.8 182.9 194.8 182.9 188.8 182.9 188.8 182.9 188.6 182.9 188.6 182.9 188.4 182.9 188.4 183 188.2 183 188.2 183 188 183.1 188 183.1 187.8 183.2 187.8 183.2 187.7 183.3 187.6 183.3 187.5 183.4 187.5 183.5 187.3 183.5 187.3 183.6 187.2 183.7 187.2 183.8 187.1 183.8 187.1 187.6 184.5 187.6 184.5 187.7 184.4 187.8 184.4 187.9 184.3 187.9 184.3 192.5 182.1 192.6 182.1 192.6 182.1 195.8 178.8 195.8 178.8 195.8 178.8 198 174.3 198 174.3 198 174.2 199.8 167.4 199.8 167.4 199.8 167.4 198.6 159.4 198.6 159.4 198.6 159.4 195.7 153.6 195.7 153.5 191 146.6 191 146.6 191 146.5 185.3 143.1 185.2 143.1 176.9 139.5 176.9 139.5 176.9 139.5 167.5 137.7 167.5 137.7 167.5 137.7 157.9 139.6 157.9 139.6 157.9 139.6 157.8 139.6 146.8 141.4 146.8 141.4 146.8 141.4 140.4 144.1 140.4 144.1 140.4 144.1 138.5 148.7 138.5 148.7 138.5 148.7 140.7 152.8 140.7 152.8 140.8 153 140.8 153.1 140.8 153.3 140.8 153.3 142 158.3 142 158.3 142.1 158.5 142.1 158.6 142.1 158.8 142.1 158.8 142.1 165 142.1 165 142.1 165.2 142.1 165.2 142.1 165.4 142.1 165.4 142 165.6 142 165.6 142 165.8 141.9 165.8 141.9 166 141.8 166 141.8 166.1 141.7 166.2 139.3 170 139.3 170 139.2 170 139.2 170 138.4 171.2 138.4 171.2 138.4 171.2 146.9 171.2ZM24.5 195.7 27 204.4 27 204.4 27.1 204.7 27.1 204.7 28.3 212.2 28.3 212.2 29.6 219.6 29.6 219.7 29.6 219.8 29.6 219.9 29.6 220.1 29.6 220.1 29.6 220.3 29.6 220.3 29.5 220.5 29.5 220.5 28.2 225.5 28.2 225.5 26.4 233 26.4 233 26.4 233 26.4 233 24.5 240.5 24.5 240.5 22.8 248 22.8 248 22.8 248 24.5 253.1 24.5 253.1 27.6 261.7 27.6 261.7 30.6 268.8 30.6 268.8 30.6 268.8 36.2 274.4 36.2 274.4 36.2 274.4 43.1 277.4 43.1 277.4 43.1 277.4 51.4 279.1 51.4 279.1 51.4 279.1 63.8 279.1 63.8 279.1 64 279.1 64 279.1 64.2 279.1 64.2 279.1 64.4 279.2 64.4 279.2 64.6 279.2 64.6 279.3 64.7 279.3 64.8 279.3 66.9 280.4 66.9 280.5 66.9 280.4 68.4 278.7 68.4 278.7 68.5 278.5 68.5 278.5 68.7 278.4 68.7 278.3 68.8 278.3 68.9 278.2 69 278.1 69.1 278.1 76.4 274.4 76.4 274.4 76.4 274.4 80.8 271.1 80.9 271.1 80.9 271.1 81.9 269.1 81.9 269.1 81.9 269.1 79.9 266.7 79.9 266.7 79.9 266.7 70.3 261.9 70.2 261.9 70.1 261.8 70.1 261.8 69.9 261.7 69.9 261.6 69.8 261.5 69.7 261.5 69.6 261.4 69.6 261.3 69.5 261.2 69.5 261.2 69.4 261.1 69.4 261 69.3 260.9 69.3 260.8 69.2 260.7 69.2 260.6 69.2 260.5 69.1 260.4 66.7 249.2 66.7 249.2 66.7 249.1 66.7 249.1 66.3 246.3 66.3 246.3 66.3 246.2 63.1 246.2 63 246.2 63 246.2 62.9 246.2 62.9 246.2 62.8 246.2 62.8 246.1 62.7 246.1 62.7 246.1 62.6 246 62.6 246 62.6 245.9 62.5 245.9 62.5 245.8 62.5 245.8 62.5 245.7 62.5 245.7 62.5 235.9 62.5 235.9 62.5 235.9 62.3 235.9 62.3 235.9 62.2 235.9 62.1 235.9 62 235.8 61.9 235.8 61.8 235.8 61.7 235.8 61.6 235.7 61.5 235.7 61.4 235.6 61.4 235.6 61.2 235.5 61.2 235.5 56.3 231.7 56.3 231.7 50.1 228 44 224.3 44 224.3 39.1 221.9 39 221.9 38.9 221.8 38.9 221.8 38.8 221.7 38.7 221.7 38.6 221.6 38.6 221.5 38.5 221.4 38.4 221.4 38.3 221.3 38.3 221.3 34.5 216.3 34.5 216.3 34.4 216.1 34.4 216.1 34.3 215.9 34.3 215.9 34.2 215.8 34.2 215.7 34.2 215.6 34.2 215.5 34.1 215.4 34.1 215.3 34.1 215.2 34.1 215.1 34.1 215 34.1 214.9 34.1 214.8 34.1 214.7 34.1 214.6 34.2 214.5 34.2 214.4 34.2 214.3 34.3 214.2 34.3 214.1 34.4 214 34.4 213.9 34.5 213.8 34.5 213.8 34.6 213.6 34.6 213.6 34.7 213.5 34.8 213.5 34.9 213.4 34.9 213.3 35.1 213.2 35.1 213.2 35.2 213.1 35.3 213.1 39 211.2 39.1 211.2 39.2 211.2 39.3 211.1 39.4 211.1 39.4 211.1 39.6 211 39.6 211 39.8 211 39.8 211 46 210.4 46 210.4 46.2 210.4 46.2 210.4 62.9 210.4 62.9 210.4 62.9 210.4 62.9 207.5 62.9 207.5 62.9 207.3 62.9 207.3 62.9 207.1 62.9 207.1 63 206.9 63 206.9 63 206.7 63.1 206.7 63.1 206.5 63.2 206.5 63.2 206.4 63.3 206.3 63.4 206.2 63.4 206.1 63.5 206 63.5 206 63.6 205.9 63.7 205.9 63.8 205.8 63.9 205.7 64 205.7 64 205.6 64.2 205.6 64.2 205.5 64.4 205.5 64.4 205.5 64.6 205.4 64.6 205.4 64.8 205.4 64.8 205.4 65 205.4 65 205.4 70.3 205.4 70.4 205.4 70.4 205.4 72.3 203.5 72.4 203.5 72.5 203.4 72.5 203.3 72.6 203.3 72.7 203.2 72.8 203.2 72.9 203.1 73 203.1 73 203 73.2 203 73.2 203 73.4 202.9 73.4 202.9 73.6 202.9 73.6 202.9 73.8 202.9 73.8 202.9 79.7 202.9 79.8 202.9 79.8 202.9 84.5 201.8 84.5 201.8 84.6 201.7 84.7 201.7 91.5 200.5 91.5 200.5 91.5 200.5 94.5 197.6 94.5 197.6 94.5 197.5 95.6 195.3 95.6 195.2 95.7 195.1 95.7 195.1 95.8 194.9 95.9 194.9 96 194.8 96 194.7 96.1 194.6 96.2 194.6 96.3 194.5 96.3 194.5 96.5 194.4 96.5 194.4 96.6 194.3 96.7 194.3 96.8 194.2 96.9 194.2 97 194.2 97.1 194.1 97.2 194.1 97.3 194.1 97.5 194.1 97.5 194.1 97.7 194.1 97.7 194.1 97.9 194.1 97.9 194.1 98.1 194.2 98.1 194.2 98.3 194.2 98.3 194.3 98.5 194.3 98.5 194.4 98.6 194.4 98.7 194.5 98.8 194.6 98.9 194.6 99 194.7 99 194.7 99.1 194.9 99.1 194.9 99.2 195 99.3 195.1 101.7 198.8 101.8 198.9 101.8 199 101.9 199 101.9 199.1 101.9 199.2 102 199.3 102 199.4 102 199.5 102 199.5 103.2 204.4 103.2 204.4 105.6 211.1 105.6 211.2 105.6 211.2 108.5 213.2 108.6 213.2 113.3 215.6 113.3 215.6 115.6 216.4 115.6 216.4 115.7 216.4 118.3 213.8 118.3 213.8 118.3 213.7 121.8 206.8 121.8 206.8 121.8 206.8 122.9 201.1 122.9 201.1 122.9 201.1 122.4 197.5 122.4 197.5 122.4 197.5 119 195.6 119 195.6 118.9 195.6 118.8 195.5 118.7 195.5 118.7 195.5 113.7 191.7 113.7 191.7 113.6 191.6 113.5 191.5 113.4 191.4 113.4 191.4 113.3 191.2 113.3 191.2 113.2 191.1 113.2 191 113.1 190.9 113.1 190.8 113 190.7 113 190.6 113 190.5 112.9 190.4 112.9 190.3 112.9 190.2 112.9 190.1 112.9 190 112.9 189.9 112.9 189.8 112.9 189.6 112.9 189.6 113 189.4 113 189.4 113 189.2 113.1 189.2 113.1 189 113.2 189 113.2 188.9 113.3 188.8 113.4 188.7 113.4 188.6 113.5 188.5 113.5 188.5 115.1 187 115.1 186.9 115.1 186.9 114.2 184.5 114.2 184.5 114.2 184.3 114.2 184.3 114.1 184.1 114.1 184.1 114.1 183.9 114.1 183.9 114.1 183.7 114.1 183.7 114.1 183.5 114.1 183.4 114.2 183.3 114.2 183.2 114.2 183.1 114.2 183 114.3 182.9 114.3 182.9 114.4 182.7 114.4 182.7 114.5 182.6 114.5 182.5 114.6 182.4 114.7 182.4 114.8 182.2 114.8 182.2 114.9 182.1 115 182.1 115.1 182 115.2 182 115.3 181.9 115.4 181.9 115.5 181.8 115.5 181.8 118.8 180.7 118.9 180.7 118.9 180.7 119.7 179.9 119.7 179.8 119.7 179.8 118.6 178.5 118.6 178.5 118.6 178.5 114 175.7 114 175.7 114 175.7 108 173.1 108 173.1 107.8 173 107.7 173 101.5 169.3 101.4 169.3 101.3 169.2 101.2 169.2 96.3 165.5 96.2 165.5 96.2 165.4 96.2 165.4 89.9 160.4 89.9 160.4 89.9 160.4 89.9 160.4 84 155.7 84 155.7 84 155.7 77 153.2 76.9 153.2 68.5 151.5 68.5 151.5 59.1 150.9 59.1 150.9 59 150.9 51.9 153.2 51.9 153.2 43.2 156.4 43.2 156.4 43.2 156.4 43.2 156.4 35.1 159.3 35.1 159.3 35.1 159.3 30.6 165 30.5 165 30.5 165 24.5 175.7 24.5 175.7 24.5 175.7 22.7 186.2 22.7 186.2 22.7 186.2 24.5 195.7ZM228.6 245.4 228.6 245.4 230.8 250.8 230.8 250.8 230.8 250.8 234.2 254.2 234.2 254.2 240.2 259.1 240.2 259.1 246 262.5 246 262.5 246 262.5 251.3 263.6 251.4 263.6 251.4 263.6 258.3 261.2 258.3 261.2 258.4 261.2 258.4 261.2 265.5 258.9 265.5 258.9 265.5 258.9 270.2 255.3 270.2 255.3 270.4 255.2 270.5 255.2 270.6 255.1 270.7 255.1 270.8 255 270.9 255 274.5 253.8 274.6 253.8 274.7 253.8 274.8 253.7 274.9 253.7 275 253.7 275.1 253.7 275.1 253.7 275.3 253.7 275.3 253.7 275.5 253.7 275.5 253.7 275.7 253.8 275.7 253.8 285.7 256.2 285.7 256.2 285.9 256.2 285.9 256.2 286 256.3 286.1 256.3 286.2 256.4 286.3 256.4 286.4 256.5 286.4 256.5 286.6 256.6 286.6 256.6 286.7 256.7 286.7 256.8 286.8 256.9 286.9 256.9 287 257.1 287 257.1 287.1 257.2 287.1 257.3 287.1 257.4 287.2 257.5 287.2 257.6 287.2 257.7 287.3 257.8 287.3 257.9 287.3 258 287.3 258.1 287.3 258.2 287.3 258.3 287.3 258.4 287.3 258.5 287.3 258.6 287.2 258.7 287.2 258.8 287.2 258.8 286.6 260.7 286.6 260.7 286.6 260.8 289.8 260.8 289.8 260.7 289.8 260.7 289.8 260.7 289.9 260.7 290 260.5 290 260.5 292.5 258 292.5 258 292.6 257.9 292.7 257.9 292.8 257.8 292.9 257.7 293 257.7 293 257.6 293.2 257.6 293.2 257.5 293.4 257.5 293.4 257.5 293.6 257.4 293.6 257.4 293.8 257.4 293.8 257.4 294 257.4 294 257.4 298.4 257.4 298.4 257.4 298.4 257.4 301.6 255.3 301.6 255.3 304.9 253.1 304.9 253.1 304.9 253.1 306.9 249 306.9 249 306.9 249 306.9 247 306.9 247 306.9 246.8 306.9 246.8 306.9 246.6 306.9 246.6 307 246.4 307 246.4 307 246.2 307.1 246.2 307.1 246 307.2 246 307.2 245.9 307.3 245.8 307.4 245.7 307.4 245.6 307.5 245.5 307.5 245.5 310 243 310 243 310.1 242.9 310.2 242.9 310.3 242.8 310.3 242.8 310.4 242.7 310.5 242.7 310.6 242.6 310.7 242.6 310.8 242.5 310.8 242.5 313.7 241.5 313.7 241.5 313.7 241.5 314.6 239.8 314.7 239.8 314.7 239.6 314.8 239.6 314.9 239.5 314.9 239.4 315 239.3 315 239.3 315.2 239.2 315.2 239.2 315.3 239.1 315.4 239 315.5 239 315.5 238.9 315.7 238.9 315.7 238.8 315.9 238.8 315.9 238.8 316.1 238.7 316.1 238.7 316.3 238.7 316.3 238.7 316.5 238.7 316.5 238.7 319 238.7 319 238.7 319 238.7 319 231.3 319 231.3 319 231.2 319 231.2 319 231.1 319.1 231.1 319.1 231 319.1 231 319.2 230.9 319.2 230.9 319.3 230.9 319.3 230.8 319.4 230.8 319.4 230.8 319.5 230.8 319.5 230.8 319.6 230.8 326.9 230.8 326.9 230.7 326.9 230.7 326.9 228.2 326.9 228.2 326.9 228 326.9 228 326.9 227.8 327 227.8 327 227.6 327 227.5 327.1 227.4 327.1 227.3 327.1 227.2 327.2 227.2 327.3 227 327.3 227 327.4 226.9 327.4 226.8 327.5 226.7 327.6 226.7 327.7 226.6 327.7 226.5 327.9 226.4 327.9 226.4 331.7 224 331.7 224 331.8 223.9 331.8 223.9 336.7 221.4 336.8 221.4 340.1 219.2 340.1 219.2 340.1 219.2 342.2 216.6 342.2 216.6 342.2 216.6 341.1 213.5 341.1 213.5 341.1 213.5 337.3 211.6 337.3 211.6 337.3 211.6 331.9 211.6 331.8 211.6 331.8 211.6 324.7 214 324.6 214 324.5 214 324.4 214.1 324.2 214.1 324.2 214.1 324 214.1 323.9 214.1 323.8 214.1 323.7 214.1 314 212.9 313.9 212.9 313.9 212.9 304.5 213.5 304.5 213.5 304.5 213.5 297.4 216.4 297.4 216.4 289.9 220.1 289.9 220.1 289.8 220.1 289.7 220.2 289.6 220.2 289.6 220.2 280.9 222.8 280.9 222.8 275 225.1 275 225.1 275 225.1 271.4 227.5 271.4 227.5 271.2 227.6 271.1 227.7 271 227.8 270.9 227.8 264.8 230.2 264.7 230.2 264.6 230.2 264.5 230.2 264.4 230.3 264.3 230.3 264.2 230.3 264.1 230.3 264 230.3 263.9 230.3 263.7 230.3 263.7 230.3 255.3 229.1 255.3 229.1 255.3 229.1 247.3 230.9 247.3 230.9 247.3 230.9 240.1 235 240 235 239.9 235.1 239.8 235.1 239.7 235.2 239.6 235.2 239.5 235.2 239.4 235.3 239.3 235.3 239.3 235.3 230.4 236.4 230.4 236.4 230.4 236.5 228.6 240 228.6 240 228.6 240 228.6 245.4ZM290.4 234.6 290.4 234.6 285.5 232.6 285.5 232.6 285.4 232.6 285.4 232.6 285.4 232.5 285.3 232.5 285.2 232.5 285.2 232.4 285.1 232.4 285.1 232.4 285 232.3 284.9 232.3 284.9 232.3 284.9 232.3 284.7 232.2 284.7 232.1 284.7 232.1 284.7 232.1 284.6 232 284.5 232 284.5 231.9 284.5 231.9 284.4 231.8 284.4 231.8 284.4 231.7 284.3 231.7 284.2 231.6 284.2 231.5 284.2 231.5 284.2 231.5 284.1 231.3 284.1 231.3 284.1 231.3 284.1 231.3 284 231.1 284 231.1 284 231.1 284 231 283.9 230.9 283.9 230.8 283.9 230.8 283.9 230.8 283.8 230.6 283.8 230.6 283.8 230.5 283.8 230.5 283.8 230.3 283.8 230.3 283.8 230.3 283.8 230.3 283.8 230.1 283.8 230.1 283.8 230 283.8 230 283.8 229.8 283.8 229.8 283.8 229.8 283.8 229.7 283.9 229.6 283.9 229.5 283.9 229.5 283.9 229.5 283.9 229.3 283.9 229.3 283.9 229.3 283.9 229.2 284 229.1 284 229 284 229 284 229 284.1 228.8 284.1 228.8 284.1 228.8 284.2 228.8 284.2 228.6 284.3 228.6 284.3 228.6 284.3 228.5 284.4 228.4 284.4 228.4 284.4 228.4 284.5 228.3 284.6 228.2 284.6 228.2 284.6 228.2 284.6 228.1 284.8 228 284.8 228 284.8 228 284.8 228 285 227.9 285 227.9 285 227.8 285.1 227.8 285.2 227.7 285.2 227.7 285.3 227.7 285.3 227.7 285.4 227.6 285.5 227.6 285.5 227.6 285.5 227.6 285.7 227.5 285.7 227.5 285.7 227.5 285.8 227.5 285.8 227.5 285.9 227.5 296.2 224.9 296.3 224.9 296.3 224.9 296.4 224.9 296.4 224.9 296.4 224.8 296.6 224.8 296.6 224.8 296.6 224.8 296.7 224.8 296.7 224.8 296.8 224.8 306.1 224.3 306.2 224.3 306.3 224.3 306.3 224.3 306.3 224.3 306.3 224.3 306.5 224.3 306.5 224.3 306.6 224.3 306.6 224.3 306.8 224.3 306.8 224.3 306.8 224.4 306.8 224.4 307 224.4 307 224.4 307.1 224.4 307.1 224.4 307.3 224.5 307.3 224.5 307.3 224.5 307.3 224.5 307.5 224.6 307.5 224.6 307.6 224.6 307.6 224.6 307.7 224.7 307.8 224.7 307.8 224.7 307.8 224.8 307.9 224.9 308 224.9 308 224.9 308 224.9 308.1 225 308.2 225 308.2 225.1 308.2 225.1 308.3 225.2 308.3 225.2 308.4 225.3 308.4 225.3 308.5 225.4 308.5 225.4 308.5 225.5 308.5 225.5 308.6 225.6 308.6 225.7 308.7 225.7 308.7 225.7 308.7 225.9 308.8 225.9 308.8 225.9 308.8 225.9 308.8 226.1 308.9 226.1 308.9 226.2 308.9 226.2 308.9 226.4 308.9 226.4 308.9 226.4 308.9 226.4 309 226.6 309 226.6 309 226.7 309 226.7 309 226.9 309 226.9 309 226.9 309 227 309 227.1 309 227.2 309 227.2 309 227.2 309 227.4 309 227.4 309 227.4 309 227.5 308.9 227.6 308.9 227.7 308.9 227.7 308.9 227.7 308.8 227.9 308.8 227.9 308.8 227.9 308.8 228 308.8 228.1 308.7 228.2 308.7 228.2 308.7 228.2 308.7 228.2 308.7 228.2 308.7 228.2 310.8 228.2 310.8 228.3 310.9 228.3 311 228.3 311 228.3 311.1 228.3 311.1 228.3 311.2 228.4 311.2 228.4 311.2 228.5 311.3 228.5 311.3 228.6 311.3 228.6 311.4 228.7 311.4 228.7 311.4 228.8 311.4 228.8 311.4 228.9 311.4 228.9 311.3 229.6 311.3 229.6 311.3 229.6 311.4 229.6 311.4 229.7 311.4 229.7 311.4 229.7 311.6 229.7 311.6 229.7 311.7 229.8 311.7 229.8 311.8 229.9 311.9 229.9 311.9 229.9 311.9 229.9 312.1 230 312.1 230 312.1 230 312.1 230 312.3 230.2 312.3 230.2 312.3 230.2 312.3 230.2 312.5 230.3 312.5 230.4 312.5 230.4 312.5 230.4 312.6 230.5 312.6 230.6 312.7 230.6 312.7 230.6 312.8 230.7 312.8 230.8 312.8 230.8 312.8 230.8 312.9 231 312.9 231 312.9 231 312.9 231 313 231.2 313 231.2 313 231.3 313 231.3 313.1 231.4 313.1 231.4 314.1 234.5 314.1 234.5 314.1 234.6 314.1 234.6 314.1 234.6 314.1 234.6 314.2 234.8 314.2 234.8 314.2 234.9 314.2 234.9 314.2 235.1 314.2 235.1 314.2 235.1 314.2 235.2 314.2 235.3 314.2 235.4 314.2 235.4 314.2 235.4 314.2 235.6 314.2 235.6 314.2 235.6 314.2 235.7 314.1 235.8 314.1 235.9 314.1 235.9 314.1 235.9 314.1 236.1 314.1 236.1 314.1 236.1 314.1 236.2 314 236.3 314 236.4 314 236.4 314 236.4 313.9 236.6 313.9 236.6 313.9 236.6 313.8 236.6 313.7 236.8 313.7 236.8 313.7 236.8 313.7 236.9 313.6 237 313.6 237 313.6 237 313.5 237.1 313.4 237.2 313.4 237.2 313.4 237.2 313.4 237.3 313.2 237.4 313.2 237.4 313.2 237.4 313.2 237.4 313 237.5 313 237.5 313 237.6 312.9 237.6 312.8 237.7 312.8 237.7 312.7 237.7 312.7 237.7 312.6 237.8 312.5 237.8 312.5 237.8 312.5 237.8 312.4 237.8 312.4 237.8 309.3 238.9 309.3 238.9 309.2 239 309.2 239 309.2 239 309.1 239 308.9 239 308.9 239 308.9 239.1 308.9 239.1 308.7 239.1 308.6 239.1 308.6 239.1 308.6 239.1 308.4 239.1 308.4 239.1 308.3 239.1 308.3 239.1 308.1 239.1 308.1 239.1 308.1 239.1 308 239.1 307.9 239 307.8 239 307.8 239 307.8 239 307.6 239 307.6 239 307.5 239 307.5 238.9 307.3 238.9 307.3 238.9 307.3 238.9 307.2 238.8 307.1 238.8 307.1 238.7 307 238.7 307 238.7 306.8 238.6 306.8 238.6 306.8 238.6 306.8 238.6 306.6 238.4 306.6 238.4 306.6 238.4 306.6 238.4 306.5 238.3 306.5 238.3 305.4 237.2 305.4 237.2 305.3 237.1 305.3 237.1 305.3 237.1 305.3 237.1 305.2 236.9 305.1 236.9 305.1 236.9 305.1 236.9 305 236.7 305 236.7 305 236.7 305 236.7 300.5 237.5 300.5 237.5 300.5 237.5 300.2 237.9 300.2 237.9 297.1 243 297.1 243 297 243.1 297 243.1 297 243.1 297 243.2 296.9 243.3 296.9 243.3 296.9 243.3 296.8 243.4 296.7 243.5 296.7 243.5 296.7 243.5 296.7 243.6 296.5 243.7 296.5 243.7 296.5 243.7 296.5 243.7 296.3 243.8 296.3 243.8 296.3 243.9 296.2 243.9 296.1 244 296.1 244 296 244 296 244 295.9 244.1 295.8 244.1 295.8 244.1 295.8 244.1 295.6 244.2 295.6 244.2 295.6 244.2 295.5 244.2 295.4 244.2 295.3 244.2 295.3 244.3 295.3 244.3 295.1 244.3 295.1 244.3 295 244.3 295 244.3 294.8 244.3 294.8 244.3 294.8 244.3 294.8 244.3 294.6 244.3 294.5 244.3 294.5 244.3 294.5 244.3 294.3 244.3 294.3 244.3 294.3 244.2 294.2 244.2 294.1 244.2 294 244.2 294 244.2 294 244.2 293.8 244.1 293.8 244.1 293.8 244.1 293.7 244.1 293.6 244 293.5 244 293.5 244 293.5 244 293.3 243.9 293.3 243.9 293.3 243.8 293.3 243.8 293.2 243.8 293.2 243.8 291.7 242.7 291.7 242.7 291.6 242.6 291.6 242.6 291.6 242.6 291.6 242.6 291.4 242.4 291.4 242.4 291.4 242.4 291.4 242.4 291.2 242.2 291.2 242.2 291.2 242.2 291.2 242.2 291.1 242 291.1 242 291 242 291 242 290.9 241.8 290.9 241.8 290.9 241.8 290.9 241.7 290.8 241.6 290.8 241.5 290.8 241.5 290.8 241.5 290.7 241.3 290.7 241.3 290.7 241.3 290.7 241.2 290.7 241 290.7 241 290.6 241 290.6 241 290.6 240.8 290.6 240.7 290.6 240.7 290.6 240.7 290.6 240.5 290.6 240.5 290.6 240.4 290.6 240.4 290.6 240.2 290.6 240.2 290.6 240.2 290.6 240.2 290.7 240 290.7 239.9 290.7 239.9 290.7 239.9 290.7 239.7 290.7 239.7 290.7 239.7 290.7 239.6 290.8 239.5 290.8 239.4 290.8 239.4 290.8 239.4 290.9 239.3 290.9 239.3 292.5 236.1 292.5 236.1 292.5 236.1 290.4 234.6ZM270.1 241.7 270.1 241.7 270 241.7 269.9 241.7 269.8 241.7 269.8 241.7 269.8 241.7 269.6 241.7 269.6 241.7 269.5 241.7 269.5 241.7 269.3 241.7 269.3 241.7 269.3 241.6 269.2 241.6 269.1 241.6 269 241.6 269 241.6 269 241.6 268.8 241.5 268.8 241.5 268.8 241.5 268.7 241.5 268.6 241.4 268.5 241.4 268.5 241.4 268.5 241.4 268.3 241.3 268.3 241.3 268.3 241.2 268.3 241.2 268.1 241.1 268.1 241.1 268.1 241.1 268.1 241.1 267.9 240.9 267.9 240.9 267.9 240.9 267.9 240.9 267.7 240.7 267.7 240.7 267.7 240.7 267.7 240.7 267.6 240.5 267.6 240.5 267.5 240.5 267.5 240.5 267.4 240.3 267.4 240.3 267.4 240.3 267.4 240.2 267.3 240.1 267.3 240 267.3 240 267.3 240 267.2 239.8 267.2 239.8 267.2 239.8 267.2 239.7 267.2 239.6 267.2 239.5 267.1 239.5 267.1 239.5 267.1 239.3 267.1 239.3 267.1 239.2 267.1 239.2 267.1 239 267.1 239 267.1 239 267.1 238.9 267.1 238.8 267.1 238.7 267.1 238.7 267.1 238.7 267.1 238.5 267.2 238.5 267.2 238.4 267.2 238.4 267.2 238.2 267.2 238.2 267.2 238.2 267.2 238.1 267.3 238 267.3 238 267.3 237.9 267.3 237.9 267.4 237.7 267.4 237.7 267.4 237.7 267.5 237.7 267.5 237.6 267.5 237.6 271.7 230.8 271.7 230.8 271.8 230.7 271.8 230.7 271.8 230.7 271.8 230.6 271.9 230.5 271.9 230.5 272 230.4 272 230.4 272.1 230.3 272.1 230.3 272.1 230.2 272.2 230.2 272.3 230.1 272.3 230.1 272.3 230.1 272.4 230.1 272.5 229.9 272.5 229.9 272.6 229.9 272.6 229.9 272.7 229.8 272.8 229.8 272.8 229.8 272.8 229.8 273 229.7 273 229.7 273 229.7 273.1 229.7 273.2 229.6 273.3 229.6 273.3 229.6 273.3 229.6 273.5 229.5 273.5 229.5 273.6 229.5 273.6 229.5 273.8 229.5 273.8 229.5 273.8 229.5 273.9 229.5 274 229.5 274.1 229.5 274.1 229.5 274.1 229.5 274.3 229.5 274.3 229.5 274.4 229.5 274.4 229.5 274.6 229.6 274.6 229.6 274.6 229.6 274.7 229.6 274.8 229.6 274.9 229.6 274.9 229.7 274.9 229.7 275 229.7 275 229.7 280.2 231.8 280.2 231.8 280.3 231.8 280.3 231.8 280.3 231.9 280.4 231.9 280.5 232 280.6 232 280.6 232 280.6 232 280.8 232.1 280.8 232.1 280.8 232.1 280.8 232.2 281 232.3 281 232.3 281 232.3 281 232.3 281.1 232.4 281.1 232.4 285.3 236.6 285.3 236.6 285.4 236.7 285.4 236.7 285.4 236.7 285.4 236.7 285.5 236.9 285.6 236.9 285.6 236.9 285.6 236.9 285.7 237.1 285.7 237.1 285.7 237.1 285.7 237.2 285.8 237.3 285.8 237.3 285.8 237.4 285.9 237.4 285.9 237.6 285.9 237.6 285.9 237.6 286 237.6 286 237.8 286 237.8 286 237.9 286 237.9 286.1 238.1 286.1 238.1 286.1 238.1 286.1 238.2 286.1 238.3 286.1 238.4 286.1 238.4 286.1 238.4 286.1 238.6 286.1 238.6 286.1 238.7 286.1 238.7 286.1 238.9 286.1 238.9 286.1 238.9 286.1 239 286 239.1 286 239.2 286 239.2 286 239.2 285.9 239.4 285.9 239.4 285.9 239.4 285.9 239.5 285.8 239.6 285.8 239.7 285.8 239.7 285.8 239.7 285.7 239.9 285.7 239.9 285.7 239.9 285.7 239.9 285.6 240.1 285.6 240.1 285.5 240.1 285.5 240.2 285.4 240.3 285.4 240.3 285.4 240.3 285.4 240.4 285.2 240.5 285.2 240.5 285.2 240.5 285.2 240.5 285 240.7 285 240.7 285 240.7 284.9 240.7 284.8 240.8 284.8 240.8 284.7 240.8 284.7 240.9 284.6 240.9 284.5 240.9 284.5 241 284.5 241 284.3 241 284.3 241 284.3 241.1 284.2 241.1 284.1 241.1 284 241.1 284 241.1 284 241.1 283.8 241.2 283.8 241.2 283.7 241.2 283.7 241.2 283.5 241.2 283.5 241.2 283.5 241.2 283.4 241.2 283.3 241.2 283.2 241.2 283.2 241.2 283.2 241.2 283.1 241.2 283.1 241.2 278.2 240.6 278.2 240.6 278.2 240.6 273.4 241.2 273.4 241.2 270.2 241.7 270.2 241.7 270.1 241.7ZM124.1 247.4 131.3 253.3 131.3 253.4 138.3 258.6 138.3 258.6 138.3 258.6 147.3 259.8 147.3 259.8 147.3 259.7 154.9 257 154.9 257 154.9 257 158.1 252.8 158.1 252.8 158.1 252.8 159.6 248.8 159.6 248.8 159.6 248.8 157.5 243.3 157.4 243.3 157.4 243.2 157.4 243.2 155.2 236.9 155.2 236.9 155.2 236.7 155.2 236.7 155.1 236.5 155.1 236.4 155.1 236.3 155.1 236.2 155.1 236 155.1 236 156 224.8 156 224.8 156 224.7 156 224.7 157 217.5 157 217.5 156.9 217.5 150.5 217.5 150.5 217.5 150.5 217.5 147.7 220.3 147.7 220.3 147.6 220.4 147.5 220.4 140.2 226.6 140.1 226.6 140 226.7 140 226.7 139.8 226.8 139.8 226.9 139.6 226.9 139.6 226.9 130.8 230.7 130.8 230.7 130.7 230.8 130.6 230.8 123.6 233.1 123.5 233.1 123.5 233.1 120.1 236 120.1 236 120.1 236.1 119.7 240.7 119.7 240.7 119.7 240.7 124.1 247.4 124.1 247.4ZM169.5 279.5 171.8 280.3 171.8 280.3 171.9 280.3 172 280.4 172.1 280.4 172.2 280.5 172.3 280.6 172.4 280.6 173.6 281.5 173.6 281.5 173.8 281.6 173.8 281.6 173.9 281.7 173.9 281.7 174 281.7 174 281.7 174.1 281.8 174.1 281.8 174.2 281.8 174.2 281.8 174.3 281.8 174.4 281.8 174.4 281.8 174.5 281.8 174.6 281.8 174.6 281.8 174.7 281.8 174.7 281.8 174.8 281.7 174.8 281.7 174.9 281.7 174.9 281.7 175 281.6 175 281.6 175.1 281.6 175.1 281.6 175.2 281.5 175.2 281.5 175.3 281.4 175.3 281.4 175.4 281.3 175.4 281.3 175.4 281.2 175.4 281.2 175.5 281.1 175.5 281.1 175.5 281 175.5 281 175.6 280.9 175.6 280.9 175.6 280.8 175.6 280.8 175.6 280.7 175.6 280.6 175.6 280.6 175.6 280.5 175.6 280.4 175.6 280.4 175.6 280.3 175.6 280.3 175.5 280.2 175.5 280.2 175.5 280.1 175.5 280.1 175.4 280 175.4 280 175.4 279.9 175.4 279.9 175.3 279.8 175.3 279.8 175.2 279.7 175.2 279.7 175.1 279.6 175.1 279.6 174.9 279.4 174.8 279.4 174.7 279.3 174.7 279.3 174.5 279.2 174.5 279.1 174.4 279 174.4 278.9 174.3 278.8 174.3 278.8 174.2 278.6 174.2 278.6 174.2 278.5 174.1 278.5 174.1 278.5 171.8 276.2 171.8 276.2 171.8 276.2 169.1 275.1 169.1 275.1 169 275 168.9 275 168.8 274.9 168.8 274.9 168.7 274.8 168.7 274.8 167.7 274.1 167.7 274.1 167.5 274 167.5 274 167.4 273.9 167.4 273.9 167.3 273.9 167.3 273.9 167.2 273.8 167.2 273.8 167.1 273.8 167.1 273.8 167 273.8 166.9 273.8 166.9 273.8 166.8 273.8 166.7 273.8 166.7 273.8 166.6 273.8 166.6 273.8 166.5 273.9 166.5 273.9 166.4 273.9 166.4 273.9 166.3 274 166.3 274 166.2 274 166.2 274 166.1 274.1 166.1 274.1 166 274.2 166 274.2 165.9 274.3 165.9 274.3 165.9 274.4 165.9 274.4 165.8 274.5 165.8 274.5 165.8 274.6 165.8 274.6 165.7 274.7 165.7 274.7 165.7 274.8 165.7 274.8 165.7 274.9 165.7 275 165.7 275 165.7 275.1 165.7 275.2 165.7 275.2 165.7 275.3 165.7 275.3 165.8 275.4 165.8 275.4 165.8 275.5 165.8 275.5 165.9 275.6 165.9 275.6 165.9 275.7 165.9 275.7 166 275.8 166 275.8 166.1 275.9 166.1 275.9 166.2 276 166.2 276 167.1 276.6 167.1 276.7 167.2 276.8 167.3 276.8 167.4 276.9 167.4 277 167.5 277.1 167.6 277.1 167.7 277.3 167.7 277.3 167.7 277.4 167.8 277.5 167.8 277.6 167.8 277.7 167.9 277.9 167.9 277.9 167.9 277.9 167.9 277.9 167.9 278 169.4 279.5 169.4 279.5ZM94.4 299.7 94.4 299.7 96.5 302.5 96.5 302.6 96.6 302.7 96.6 302.7 96.7 302.9 96.7 302.9 96.8 303 96.8 303.1 96.8 303.2 96.8 303.3 96.9 303.4 96.9 303.5 97.5 307.2 97.5 307.3 97.5 307.3 100.7 309.8 100.8 309.8 105.3 312.8 105.3 312.8 107.9 314.5 107.9 314.5 107.9 314.5 112 314.8 112 314.8 112.2 314.8 112.3 314.8 112.4 314.9 112.5 314.9 112.6 314.9 112.7 315 112.8 315 112.9 315 115.2 316.3 115.2 316.3 115.3 316.3 117.4 315.7 117.4 315.7 121.4 314.4 121.4 314.4 121.4 314.4 123.1 312.2 123.1 312.2 123.1 312.2 123.4 310.9 123.4 310.8 123.4 310.8 121.5 309.4 121.4 309.4 121.3 309.3 121.3 309.3 121.2 309.2 121.2 309.1 121.1 309 121 309 121 308.9 120.9 308.9 119.7 306.9 119.7 306.9 119.6 306.9 117.5 305.8 117.5 305.8 117.5 305.8 114.6 307.8 114.6 307.8 114.4 307.9 114.4 307.9 114.3 308 114.2 308 114.1 308.1 114 308.1 113.9 308.1 113.8 308.2 113.7 308.2 113.6 308.2 113.5 308.2 113.4 308.2 113.3 308.2 113.2 308.2 113.1 308.2 113 308.2 112.9 308.1 112.8 308.1 112.7 308.1 112.6 308.1 108.8 306.6 108.7 306.6 108.7 306.5 108.7 306.5 104.9 304.9 104.9 304.9 104.7 304.9 104.7 304.8 104.6 304.8 104.5 304.7 104.4 304.6 104.3 304.6 104.2 304.5 104.2 304.5 101.3 301.6 101.3 301.6 101.3 301.6 96.9 299 96.8 299 96.7 298.9 96.7 298.9 94.4 297.3 94.4 297.3 94.4 297.3 93.8 298 93.8 298.1 93.8 298.1 94.4 299.7ZM321.2 315.5 321.2 315.5 321.3 315.5 331.2 314.3 331.2 314.3 334 313.9 334 313.9 334 313.9 335.8 311.4 335.8 311.4 335.8 311.4 335.3 310.8 335.3 310.8 335.3 310.7 331.6 309.8 331.6 309.8 331.6 309.8 327.4 311.4 327.3 311.4 322.6 313.8 322.6 313.8 322.6 313.8 320.1 315.7 320.1 315.7 320.1 315.7 321.2 315.5ZM466.5 315.3 466.6 315.3 466.9 315.5 466.9 315.5 467.2 315.7 467.2 315.8 467.4 316 467.5 316 467.7 316.2 467.7 316.3 467.9 316.6 468 316.6 468.7 317.7 468.8 317.8 468.8 317.8 471.4 318.3 471.4 318.3 471.9 318.4 471.9 318.4 476.5 320 476.5 320 476.6 320 482.3 320.7 482.3 320.7 482.3 320.7 486.4 320.1 486.4 320.1 486.4 320.1 488.6 317.8 488.6 317.8 490.4 315.4 490.4 315.4 490.4 315.4 490.9 313 490.9 313 490.9 313 490 309.8 489.9 309.8 489.9 309.4 489.9 309.4 489.8 309.1 489.8 309 489.8 308.7 489.8 308.7 489.8 305 489.8 305 489.8 305 489 305.4 489 305.4 488.7 305.5 488.6 305.6 488.3 305.7 488.2 305.7 487.9 305.8 487.8 305.8 487.5 305.8 487.4 305.8 477.6 306.2 477.6 306.2 474.8 306.5 474.7 306.5 472.2 307.2 472.1 307.2 472.1 307.3 466.7 310.3 464.6 311.5 464.5 311.5 464.5 311.5 464.5 314.3 464.5 314.3 464.6 314.3ZM209.8 336.4 209.8 336.4 209.9 336.6 209.9 336.6 209.9 336.8 209.9 336.8 209.9 337 209.9 337 209.9 339.8 209.9 339.8 209.9 339.8 214 343.3 214 343.3 214 343.3 219.9 346.3 219.9 346.3 220 346.3 220 346.3 225 348.9 225 348.9 225.1 349 225.1 349 228.9 351.4 228.9 351.4 228.9 351.4 228.9 351.4 233.7 354.5 233.7 354.5 233.7 354.5 239.4 356.1 239.4 356.1 239.4 356.1 246.7 356.8 246.7 356.8 247 356.9 247 356.9 251.5 357.9 251.5 357.9 251.5 357.9 256 356.9 256 356.9 256.3 356.8 256.3 356.8 263.7 356.1 263.7 356.1 270.8 355 270.8 355 270.9 355 275.2 352.8 275.3 352.8 275.3 352.8 283.7 344.3 283.7 344.3 283.9 344.1 283.9 344.1 288.5 340.6 288.6 340.6 288.6 340.6 290.9 336 290.9 336 291 335.9 291 335.9 293.4 332.1 293.4 332.1 293.5 331.9 293.5 331.9 293.6 331.8 293.7 331.8 293.8 331.7 293.8 331.6 293.9 331.5 293.9 331.5 294.1 331.4 294.1 331.4 297.5 329.2 297.5 329.2 297.5 329.2 299.2 327 299.2 327 299.3 326.9 299.3 326.8 302.4 323.2 302.4 323.1 302.5 323 302.6 323 302.7 322.9 302.7 322.8 302.8 322.8 302.9 322.7 304 322 304 322 304 322 294.4 322 294.3 322 294.3 322 294.2 322 294.1 322 294.1 321.9 294 321.9 294 321.9 293.9 321.8 293.9 321.8 293.9 321.7 293.8 321.7 289.4 312.9 289.4 312.8 289.4 312.8 289.4 312.7 289.4 312.6 289.4 312.6 289.4 312.5 289.4 312.5 289.4 312.4 289.4 312.4 289.4 312.3 289.5 312.3 289.5 312.2 289.6 312.2 289.6 312.1 289.6 312.1 289.7 312.1 289.7 312 289.8 312 289.9 312 289.9 312 290 312 290.2 312 290.3 312 290.2 312 288.7 309.7 288.7 309.7 288.6 309.6 285.8 307.5 285.8 307.5 285.7 307.4 285.7 307.3 285.6 307.2 285.5 307.2 285.4 307.1 285.4 307 285.3 306.9 285.3 306.9 285.2 306.8 285.2 306.7 283.6 303.4 283.6 303.4 283.6 303.4 280.3 301.2 280.3 301.2 280.2 301.1 280.1 301.1 280 301 280 301 279.9 300.8 279.9 300.8 279.8 300.7 279.7 300.6 279.7 300.5 279.6 300.5 279.6 300.3 279.5 300.3 279.5 300.1 279.5 300.1 279.4 299.9 279.4 299.9 279.4 299.7 279.4 299.7 279.4 299.5 279.4 299.5 279.4 294.2 279.4 294.2 279.4 294.2 276.5 291.7 276.4 291.7 276.3 291.6 276.3 291.6 276.2 291.4 276.2 291.4 276.1 291.3 276 291.2 276 291.1 275.9 291.1 275.9 290.9 275.9 290.9 275.8 290.7 275.8 290.7 275.8 290.6 275.7 290.5 275.7 290.4 275.7 290.3 275.7 290.2 275.7 290.1 275.7 290 275.7 289.9 275.7 289.8 275.7 289.7 275.8 289.6 275.8 289.5 275.8 289.4 275.8 289.3 276.1 288.8 276.1 288.7 276.1 288.6 276.2 288.5 276.2 288.4 276.3 288.3 276.4 288.2 276.4 288.2 276.5 288.1 276.5 288 276.7 287.9 276.7 287.9 276.8 287.8 276.9 287.8 277 287.7 277.1 287.6 277.2 287.6 277.2 287.6 277.4 287.5 277.4 287.5 277.6 287.4 277.6 287.4 277.7 287.4 277.7 287.4 277.7 287.4 279.6 283.7 279.6 283.6 281.4 278.9 281.4 278.9 282 276.5 283.2 271.5 283.2 271.5 283.2 271.3 283.2 271.3 283.3 271.1 283.3 271.1 283.4 270.9 283.4 270.9 283.5 270.7 283.5 270.7 283.6 270.6 283.6 270.6 283.6 270.6 280.2 271.3 280.2 271.3 280.2 271.3 278 273.5 278 273.5 277.9 273.6 277.8 273.6 277.7 273.7 277.7 273.7 277.5 273.8 277.5 273.8 277.4 273.9 277.3 273.9 277.2 274 277.2 274 270.4 276.3 270.3 276.3 270.3 276.3 269.1 278.1 269.1 278.1 269.1 278.2 269.1 278.2 269.1 278.3 269.2 278.4 269.2 278.5 269.2 278.6 269.2 278.7 269.2 278.8 269.2 278.9 269.2 279 269.2 279.1 269.2 279.2 269.2 279.3 269.1 279.4 269.1 279.5 269.1 279.6 269 279.7 269 279.8 269 279.9 268.9 280 268.8 280.1 268.8 280.2 268.7 280.2 268.6 280.4 268.6 280.4 265.5 283.5 265.5 283.5 265.4 283.6 265.3 283.6 265.2 283.7 265.2 283.8 265 283.8 265 283.9 264.8 283.9 264.8 283.9 264.6 284 264.6 284 260.9 285.2 260.9 285.2 258 286.2 258 286.2 258 286.2 255.9 290.4 255.9 290.5 255.8 290.6 255.8 290.6 255.7 290.8 255.6 290.8 255.5 290.9 255.5 291 255.4 291.1 255.3 291.1 255.2 291.2 255.2 291.2 255 291.3 255 291.3 254.9 291.4 254.8 291.4 254.7 291.5 254.6 291.5 254.5 291.5 254.4 291.6 254.3 291.6 254.2 291.6 254.1 291.6 254 291.6 253.8 291.6 253.8 291.6 253.6 291.6 253.6 291.6 253.4 291.5 253.4 291.5 253.2 291.5 253.2 291.4 253 291.4 253 291.3 252.9 291.3 252.8 291.2 252.7 291.1 252.6 291.1 252.5 291 252.5 291 250.4 288.9 250.4 288.9 250.4 288.9 246.9 288.1 246.9 288.1 246.9 288.1 245.3 289.1 245.3 289.1 245.3 289.1 246 291.4 246 291.4 246 291.5 246.1 291.6 246.1 291.7 246.1 291.8 246.1 291.9 246.1 292 246.1 292.2 246.1 292.2 246.1 292.4 246.1 292.4 246 292.6 246 292.6 246 292.8 245.9 292.8 245.9 292.9 245.8 293 245.8 293.1 245.7 293.2 243.3 296.8 243.3 296.9 241.1 301.3 241.1 301.3 241.1 301.3 241.1 304.5 241.1 304.5 241.1 304.7 241.1 304.7 241.1 304.9 241.1 304.9 241 305 241 305.1 241 305.2 240.9 305.3 240.9 305.4 240.9 305.5 238.4 310.4 238.4 310.5 238.3 310.6 238.3 310.6 238.2 310.7 238.2 310.8 238.1 310.9 238 310.9 237.9 311 237.9 311.1 237.8 311.2 237.7 311.2 237.6 311.3 237.6 311.3 237.5 311.4 237.4 311.4 232.5 313.9 232.4 313.9 232.3 314 232.2 314 232 314 232 314 227.3 315.2 227.3 315.2 227.3 315.2 221.5 318.7 221.5 318.7 221.5 318.7 218.1 322.1 218.1 322.2 214.5 327 214.5 327.1 214.4 327.2 214.3 327.2 214.2 327.3 214.2 327.4 214.1 327.5 214 327.5 213.9 327.6 213.8 327.6 213.7 327.7 213.7 327.7 213.5 327.8 213.5 327.8 213.3 327.8 213.3 327.8 209.1 328.8 209.1 328.9 209.1 328.9 207.6 331 207.6 331 207.6 331.1 209.7 336.2 209.7 336.2ZM435.4 415 436.1 415.4 436.1 415.4 436.2 415.4 438.6 414.8 438.6 414.7 438.7 414.7 442.4 412.3 442.5 412.2 442.6 412.1 442.7 412.1 445.7 410.6 445.8 410.6 445.8 410.6 446.9 408.8 446.9 408.7 447 408.7 447 408.7 448.5 406.6 448.5 406.6 448.5 406.5 448.5 406.5 450.1 404.4 450.1 404.4 450.1 404.4 450.5 403.4 450.5 403.4 450.5 403.4 449.7 402.3 449.7 402.3 449.7 402.3 447.6 402.1 447.6 402.1 447.3 402 447.3 402 444.9 401.5 444.9 401.5 444.9 401.5 443.1 402.1 443.1 402.1 443.1 402.1 440.7 404.8 440.7 404.8 440.7 404.8 439.7 407 439.7 407.1 438.5 410.5 438.5 410.6 438.4 410.7 438.4 410.8 438.3 410.9 438.3 411 438.2 411.1 438.2 411.2 438.1 411.3 438 411.3 436.2 413.4 436.1 413.4 436.1 413.4 435.4 414.9 435.4 414.9 435.4 414.9 435.4 415 435.4 415Z" fill="#fb2a2c" fill-rule="evenodd" stroke="#fb2a2c" stroke-width="0.8" stroke-linejoin="round"/><path d="M466.7 312.8h0M470.3 315.8h0M484.5 318.1h0M488 315h0M485.2 308.1h0M480.3 308.3h0M440.8 410.7h0M446.8 404.2h0M442.6 405.9h0M232.5 249.2h0M235.6 252.5h0M242.8 258.1h0M255.5 259.9h0M264.2 257h0M271.9 252.3h0M280.8 252.7h0M285.2 253.8h0M289 256.1h0M299.9 253.8h0M304.7 246.7h0M307 242.9h0M302.5 239.4h0M299.8 242.8h0M284.6 243.3h0M280 243h0M275.5 243.1h0M271 243.8h0M266.7 242.8h0M264.9 238.8h0M260.2 232h0M251.2 232.3h0M242.9 235.9h0M230.9 240.4h0M275.3 227.5h0M279.5 229.1h0M285.6 225.3h0M290 224.2h0M294.4 223.1h0M298.8 222.5h0M307.8 222.3h0M310.9 225.3h0M315.7 232.4h0M316.5 236.5h0M316.8 232.3h0M323.3 228.6h0M333.1 220.8h0M337 218.6h0M335.5 213.8h0M331.1 214.2h0M326.8 215.6h0M322.4 216.1h0M317.9 215.6h0M313.5 215.1h0M304.5 215.8h0M300.4 217.6h0M296.3 219.4h0M292.2 221.4h0M288 223h0M283.7 224.2h0M279.5 225.7h0M210.4 330.8h0M211.6 334.9h0M212.5 339.2h0M224.3 346.1h0M232 350.8h0M240.4 354h0M245 354.4h0M262.9 354h0M267.4 353.3h0M271.7 352.1h0M278.7 346.3h0M281.9 343h0M285.4 340.2h0M288.1 336.7h0M293.3 329.3h0M292.6 323.6h0M288.3 315.6h0M287.1 311.4h0M283.7 308.4h0M277.2 297.3h0M275.3 293.6h0M275.7 285.9h0M279.4 277.7h0M279.4 275.2h0M258.5 290.1h0M255.6 293.5h0M248.2 291h0M247 295.3h0M243.3 303.4h0M242.2 307.7h0M236.5 314.3h0M232.3 316.2h0M220.7 322.7h0M217.8 326.3h0M140.9 148.6h0M142.9 152.6h0M144 157h0M144.3 161.5h0M144.2 166h0M148 169.3h0M149.7 173.1h0M155.6 175.7h0M160.1 175.7h0M164.6 176.1h0M169 177.1h0M181.6 181.3h0M185.8 183.1h0M189.8 181h0M195.5 174.3h0M196.8 170h0M196.6 161.1h0M194.9 157h0M182.8 144.4h0M178.6 142.6h0M174.3 141.3h0M156.6 142h0M143.5 145.2h0M176.8 191.4h0M169.8 200.9h0M173.4 203.7h0M127.6 247.4h0M131.2 250.4h0M134.9 253.3h0M138.6 256.1h0M143.1 257h0M155.4 244.1h0M153.7 225.8h0M154.3 221.2h0M151.3 219.8h0M144.3 226h0M140.7 228.9h0M132.1 232.6h0M127.6 234.1h0M104.7 309.8h0M108.8 312.4h0M119.5 310.5h0M116 309.5h0M106.9 308.2h0M102.6 306h0M26.7 195.1h0M27.9 199.4h0M29.1 203.8h0M29.9 208.3h0M31.4 217.3h0M29.3 230.5h0M28.2 234.9h0M27.1 239.3h0M26 243.8h0M25.2 248.2h0M26.6 252.5h0M29.7 261h0M31.4 265.2h0M33.8 269h0M41.1 274.1h0M49.8 276.5h0M54.3 276.9h0M63.4 276.9h0M71.4 274.5h0M75.4 272.4h0M71.8 265.1h0M67.9 262.8h0M65.5 254.1h0M60.3 239h0M57.8 235.7h0M54.2 233h0M50.3 230.7h0M35.2 220.8h0M32.5 217.2h0M36.1 210.3h0M58.4 208.2h0M61 206h0M64.4 203.2h0M81.6 200.2h0M90.5 198.4h0M93.3 194.9h0M106 205.7h0M107.6 209.9h0M115.5 213.4h0M119.8 205.5h0M120.7 201.1h0M111.3 192.1h0M111.3 187.8h0M114.1 180.1h0M113.6 178h0M101.4 171.9h0M97.7 169.3h0M87 160.9h0M79.3 156.4h0M74.9 155.1h0M48.4 156.8h0M44.2 158.4h0M39.9 159.9h0M33.1 165.3h0M30.7 169.2h0M28.5 173.2h0M25.7 181.7h0" stroke="#fb2a2c" stroke-width="6.5" stroke-linecap="round" fill="none"/><path d="M475 317.1h0M479.7 318.1h0M487.8 310.4h0M475.5 308.7h0M471 310.4h0M444.9 407.9h0M230.8 245h0M239.1 255.4h0M246.7 260.4h0M251.2 261.3h0M259.9 258.4h0M267.9 254.3h0M276.4 251.7h0M291.4 256.1h0M295.8 255.2h0M303.5 251h0M306.4 240.9h0M296.8 246.1h0M292.4 245.9h0M289 242.9h0M288.8 238.5h0M287.6 236h0M287.9 240.4h0M266.7 234.6h0M269 230.9h0M264.7 232.4h0M255.6 231.4h0M246.9 233.6h0M238.7 237.6h0M234.2 238.2h0M282.1 227.9h0M303.3 222.3h0M313.7 228.5h0M318.8 228.7h0M325.5 225.7h0M329.2 223h0M339.5 215.4h0M309 215.4h0M216.1 342h0M220.2 344h0M228.2 348.4h0M236.1 352.9h0M249.5 355.2h0M253.9 355.1h0M258.4 354.4h0M275.4 349.5h0M290.4 332.7h0M296.8 326.5h0M297 324.2h0M290.4 319.7h0M281.4 304.6h0M277.8 301.8h0M273.5 289.7h0M277.9 281.9h0M275.2 277h0M271.4 278.9h0M269.3 282.8h0M265.9 285.8h0M261.6 287.3h0M251.3 292.9h0M244.6 299.1h0M240.2 311.8h0M227.9 317.4h0M224 319.7h0M214.8 329.6h0M143.5 169h0M151.1 175.9h0M173.3 178.3h0M177.7 179.3h0M182.1 185.7h0M193.2 178.2h0M197.3 165.6h0M192.7 153.1h0M190.2 149.3h0M186.7 146.5h0M169.9 140.4h0M165.4 140.4h0M161 141.2h0M152.1 142.8h0M147.6 143.5h0M180.7 189.1h0M172.7 193.7h0M169.3 196.5h0M177.2 201.7h0M180 198.2h0M180.7 193.7h0M121.9 240.1h0M124.5 244h0M147.7 257.2h0M152.1 255.7h0M155.5 252.6h0M157.1 248.4h0M153.9 239.7h0M153 235.2h0M153.3 230.5h0M147.9 223h0M136.4 230.7h0M123.5 236h0M99 302.8h0M100.8 307h0M113.6 313h0M118.1 313.1h0M111.4 309.9h0M25 186.2h0M25.8 190.6h0M30.6 212.8h0M31.5 221.7h0M30.4 226.1h0M28.1 256.8h0M37.1 272.2h0M45.4 275.6h0M58.9 276.9h0M67.3 276.6h0M79 269.7h0M75.9 267.1h0M66.5 258.6h0M64.6 249.7h0M61.3 247.8h0M60.3 243.5h0M46.4 228.3h0M42.5 226h0M38.4 224h0M32.5 212.9h0M40.3 208.8h0M44.8 208.3h0M49.4 208.2h0M53.9 208.2h0M68.9 203.2h0M72.6 200.9h0M77.2 200.7h0M86.1 199.2h0M96.6 192h0M100.7 193.3h0M103.2 197.1h0M104.7 201.3h0M111.5 212.2h0M117.9 209.6h0M118.3 197.8h0M114.6 195.1h0M111.9 183.8h0M109.4 176.1h0M105.4 174.2h0M94.1 166.6h0M90.5 163.8h0M83.4 158.1h0M70.5 154.1h0M66 153.5h0M61.5 153.3h0M57 153.9h0M52.7 155.2h0M35.9 161.8h0M26.5 177.2h0" stroke="#f8705f" stroke-width="6.5" stroke-linecap="round" fill="none"/><path d="M171 196.3h0M80.2 188.5h0M268.8 349.9h0M177.7 176.2h0M152 171.7h0M79.7 196.8h0M183.7 149h0M162.6 167.1h0M478.9 314.3h0M151.2 163.3h0M172.9 176.1h0M166.4 162.8h0M275.1 251.1h0M81.9 160.5h0M185.1 174h0M276.7 338.7h0M142.9 239.4h0M274 295.8h0M33.4 256.9h0M74.7 200.3h0M245.9 342h0M268.9 311.5h0M33.9 232.2h0M186.7 158.1h0M52.8 257.8h0M266.1 348h0M76.7 200.1h0M291.2 322.5h0M133.2 243.4h0M110.3 176.7h0M36.8 267.4h0M180 149.5h0M323.2 216.8h0M78.4 196.9h0M261 305.2h0M262.5 297.9h0M56.8 245.3h0M64.8 160.4h0M482.9 313.1h0M183.2 178.8h0M219.9 333.8h0M253.3 244h0M57.2 236.9h0M59.4 275.9h0M59.2 160.4h0M115.3 312.2h0M52.2 156.5h0M176.9 160.7h0M272.1 310.9h0M90.3 179.5h0M215.8 332h0M283.3 334.8h0M64.6 170.2h0M92.8 189.7h0M152.3 172.9h0M266.1 315.6h0M190.7 162.7h0M173.7 199.5h0M213.2 335.6h0M246.1 343.1h0M254.5 321.8h0M277.5 324.6h0M147.6 168.5h0M45.5 261.9h0M31.9 208.6h0M46.5 165.4h0M263.8 300.1h0M253.2 344.8h0M28 194.2h0M260.1 347.1h0M289.5 249.6h0M219.1 331.7h0M38.9 169.8h0M47 188.7h0M250.7 254.1h0M29.9 235.3h0M44.5 192h0M48.2 270.9h0M157.3 157.7h0M181.6 167.9h0M161.4 156.1h0M37.4 244.4h0M286.9 326.5h0M265.1 343.4h0M249.6 339.6h0M479.8 309.9h0M253.8 314.4h0M268.3 315.2h0M284.4 314.1h0M50.6 163.6h0M261.9 317.8h0M255.2 247.7h0M192.5 160.8h0M79.3 166.7h0M283 340.7h0M51.1 180.7h0M175 159.3h0M68.9 158.1h0M68.6 185.5h0M322.4 222.8h0M46 171.6h0M49.4 269.5h0M49.1 161.8h0M44.9 176.3h0M92.1 186.1h0M34.6 183.2h0M230.2 333.5h0M30.5 256.1h0M218.1 332.1h0M224 342.7h0M132.3 245h0M251.7 260.3h0M25.9 248.6h0M281.2 245.9h0M268.1 336h0M241.5 333.9h0M159.7 156.4h0M55 246.7h0M247.6 331h0M55.6 173.9h0M239.1 335.2h0M282.1 340.9h0M33.4 255.5h0M280.3 317.7h0M109.6 211.2h0M170.8 198.3h0M269 288.8h0M262.5 235.1h0M110.7 197.6h0M43.6 252.6h0M64 198.2h0M247.8 295.5h0M147.3 148.3h0M294.8 252.7h0M248.7 299.7h0M29.9 205.9h0M322.1 220.8h0M154 152h0M301.9 246.6h0M169.7 168.1h0M275 322.3h0M268.1 330.4h0M54.9 240.7h0M329.4 217.4h0M66.1 277.2h0M301.6 246.8h0M88.9 196h0M183.6 180.3h0M280.9 307.9h0M85.3 194.5h0M42.6 200h0M262.1 334.2h0M52.4 204.7h0M167.5 147.9h0M31.1 192.4h0M234.4 352.1h0M105.1 197.3h0M106.6 205.9h0M146 242.1h0M57.9 268.5h0M48 179.9h0M309.9 222.9h0M173.7 154.4h0M63.6 188.6h0M150.4 233.9h0M468.5 312.2h0M242.1 247.3h0M46.8 263.2h0M56.8 190.6h0M67.3 271.3h0M474.6 316.1h0M283.9 329.6h0M86 172.6h0M186.1 167.9h0M271.5 332.4h0M254.9 245.8h0M131.2 233.2h0M174.6 171.5h0M119.9 312.7h0M179.5 191.8h0M38.5 203.6h0M89 168.4h0M67.1 154.5h0M38.2 227.8h0M282.4 339h0M169.6 165.4h0M262.2 315.3h0M256.7 347.3h0M50.4 270.7h0M280.1 227h0M441.7 407.6h0M276.2 248.2h0M161.1 154.4h0M272.7 301.7h0M224.8 343.5h0M33 170h0M474.2 310.3h0M84.8 193.2h0M234.1 319.1h0M51.6 188.7h0M240.9 316.9h0M301.9 243.7h0M48.8 271.5h0M28.5 200.8h0M268.2 247.1h0M90 171.2h0M291.4 223.4h0M245.6 316.2h0M36 229h0M62.5 253.3h0M278.9 327.9h0M151.5 241.2h0M247.3 322.6h0M264.3 247.5h0M145 242.8h0M36.7 205.6h0M279.3 334.7h0M265.7 349.9h0M105.3 181.1h0M39.1 208h0M45.1 241h0M130 235h0M107.3 182h0M155.5 172.5h0M165.3 174.9h0M32.9 265.2h0M170 161.8h0M176.8 173.9h0M263.5 295.8h0M61.3 166.6h0M40 238.5h0M62.4 192.9h0M237 335h0M87.3 163.6h0M53.4 190.7h0M304.3 217.2h0M74.6 174.7h0M249.7 355.1h0M274.5 325.3h0" stroke="#fc1626" stroke-width="6.5" stroke-linecap="round" fill="none"/><path d="M183.9 165.8h0M150.3 150.9h0M76.2 187h0M184.1 181.5h0M59.7 173.3h0M157.5 150.7h0M186.4 178.7h0M255 330.3h0M290.8 250.6h0M286.8 246.9h0M175.2 145h0M222.9 331.6h0M73.6 271.1h0M57.5 186.4h0M241.6 310.7h0M143.8 148.3h0M64.6 271.8h0M262 332.5h0M187.9 150.5h0M276.5 345.3h0M145.6 254.2h0M109.7 179h0M36.2 175h0M175.9 161.5h0M235.7 247h0M70.1 164.8h0M263.4 337h0M248.9 331.5h0M260.4 311.4h0M261.5 295.3h0M165.7 157.8h0M244.2 324.8h0M96.5 173.2h0M81.5 167.8h0M264.1 352.6h0M177 146.3h0M112.2 187h0M98.8 177.9h0M180.9 151.2h0M264.1 341.8h0M185.3 170.5h0M59.2 253.5h0M67.6 269.7h0M286.6 224.4h0M265.3 349.9h0M47.9 271.7h0M152 242.3h0M270.1 282.9h0M139.2 231.3h0M255.7 240.9h0M36.9 170.2h0M168.6 176.1h0M32.1 237.4h0M263.5 238.6h0M37.9 176.8h0M266.6 344.1h0M159.7 152.7h0M301.4 242.3h0M213.1 334h0M143.8 249.3h0M277.7 250.9h0M172.8 156.1h0M39 201.3h0M74.1 200.3h0M38.7 167.8h0M29.6 249.7h0M92.1 173.4h0M229 340.7h0M146 248.8h0M175.8 143.7h0M263.1 341.2h0M254 297.4h0M49.1 175.1h0M272.3 289.1h0M194.2 171.7h0M65.3 200.3h0M157.5 168.8h0M242.6 307.7h0M50.9 198.8h0M243.6 323h0M170 201.4h0M256.6 259.5h0M64.5 161.2h0M137.9 255.7h0M251.4 345.9h0M63.9 275.9h0M175.8 154.6h0M47.2 186.5h0M64.6 169.9h0M54.8 199.6h0M42.6 200.4h0M188.7 175.4h0M165.3 170.8h0M142.4 248.3h0M48.4 243.1h0M148.4 253.4h0M97.3 178.6h0M70.8 191.1h0M338 217.9h0M112.5 205.6h0M40.9 194.4h0M59.7 263.8h0M248.7 233.8h0M184.5 171.2h0M277.6 245.4h0M105.8 189.6h0M59.3 200.2h0M56.9 167.3h0M67.3 203.2h0M42.8 255.2h0M268.3 290.5h0M94.5 168.9h0M166 159.1h0M42.7 251.6h0M245.4 255.7h0M42.2 183.6h0M234.9 331.7h0M46.9 183.7h0M50.8 203.5h0M216.6 341.4h0M283.7 329h0M325.6 223.7h0M175.9 168.3h0M177 168.9h0M290.7 251.4h0M89.5 175.2h0M53 207.5h0M63.4 164.2h0M51.2 184.7h0M281.4 321h0M276.6 309.3h0M294.5 250.5h0M278.5 330.1h0M216.1 333.7h0M67.6 161.3h0M43.6 195.6h0M138.6 253.8h0M173.5 202.8h0M133.6 233.5h0M38.1 243h0" stroke="#f9463d" stroke-width="6.5" stroke-linecap="round" fill="none"/><path d="M270.2 290.1h0M274.7 334.4h0M86.3 195.7h0M471.9 314h0M47.9 184.3h0M61.7 168.8h0M256.6 236.3h0M72.7 198.7h0M249.4 318.4h0M277.9 333.8h0M178 164.4h0M267.5 304.4h0M79.3 200.8h0M275 294h0M39.3 195.2h0M175.4 146.1h0M263 256.5h0M278.1 325.3h0M259.3 325.2h0M61.3 197.3h0M63.2 178.3h0M220.7 336h0M229.9 325.4h0M94.4 171h0M49.9 270.5h0M240.9 255.1h0M32.7 264.6h0M244.8 307h0M59.1 163.6h0M89.8 181.2h0M310.2 221.3h0M219.3 328.4h0M177.3 192.7h0M229.5 326.8h0M263.9 300h0M252.1 332.9h0M66.1 182.2h0M255.3 352.4h0M255.2 328.7h0" stroke="#f8705f" stroke-width="6.5" stroke-linecap="round" fill="none"/><path d="M265.1 344.5h0M30.8 188.6h0M66.7 269.5h0M222.1 325.3h0M289.4 247.2h0M102.6 185.8h0M275.5 336.1h0M48.4 241.9h0M51.9 267.7h0M76.4 181.5h0M245.4 341.5h0M101.2 194.3h0M258.1 353.6h0M232 321.9h0M60.3 271.5h0M237.4 323.7h0M213.7 336.6h0M62.8 274.2h0M48.3 234.8h0M100.8 184h0M118.4 202h0M51 257.7h0M71.6 194.2h0M104.8 181.7h0M71.4 271.2h0M231.6 317.7h0M257.3 340.6h0M59.2 259.3h0M49.7 238.3h0M231.2 336.7h0M85.4 178.9h0M210.7 331.5h0M263.5 340.2h0M48.1 261.5h0M72.1 183h0M223.2 337.5h0M109.7 193.5h0M224.5 340.3h0M74 178.4h0M55.8 254.9h0M77.9 270h0M231.5 322h0M212 331.3h0M266.5 351.4h0M267.2 353.1h0M231.1 329.3h0M119.2 202.8h0M53.9 276.8h0M283.5 247.9h0M77.4 268.3h0M104 195.5h0M63.3 273.9h0M106.9 194.2h0M238.4 350h0M49.7 248.9h0M303.6 240.9h0M230.9 345.7h0M75.3 175h0M254.9 344.8h0M54.6 258.5h0M49.1 261.4h0M301.9 245.9h0M259.9 352h0M223 335.2h0M80.9 176.6h0M84.6 191h0M284.9 253.5h0M108.6 188.4h0M302.3 247h0M291.8 253h0M254.5 352.5h0M59.4 261.8h0M284.7 248.5h0M67.1 267.4h0M63.2 259.8h0M255.3 350.2h0M75.3 179.8h0M94.7 175.4h0M89.4 189.6h0M29.8 205.1h0M250.8 339.8h0M51.9 264.4h0M45.3 237.9h0M66.8 266.5h0M61.5 256.5h0M84.5 191.5h0M280.8 252.7h0M218 339h0M60.4 264.2h0M108.8 197.9h0M86.5 191.6h0M81.6 175.1h0" stroke="#f8705f" stroke-width="6.5" stroke-linecap="round" fill="none"/><path d="M239.4 317.9h0M68.8 170.6h0M224.4 345.7h0M287.3 244.1h0M56.5 266.6h0M56.4 274.1h0M73.4 268.7h0M55.8 257.6h0M110.7 200.2h0M242.6 340.3h0M247.9 342.7h0M55 246.9h0M261.2 349.2h0M85.1 183.7h0M247.5 347.5h0M255.8 345.1h0M113.2 180.5h0M89.3 176.5h0M220.2 328.3h0M76.7 193.7h0M230.9 337.3h0M53.2 241.6h0M289.5 249.8h0M51.7 250.1h0M254 338.7h0M90.2 186.7h0M77 183.2h0M105.1 200.9h0M85.1 176.9h0M275.8 343.2h0M226.2 340.6h0M59.3 270.7h0M289.8 246h0M51.1 270.4h0M65.5 262.9h0M242.2 340.3h0M57.1 276.1h0M47.2 244.9h0M59.3 262.8h0M230.8 343.8h0M227.7 328.5h0M216.7 337.9h0M52.7 253.5h0M79 186.6h0M254.3 352.3h0M112 184.1h0M283.8 245.1h0M70.4 176.9h0M69.2 190.5h0M252.5 342.8h0M52.3 241.1h0M226.8 334h0M52.2 262.8h0M240.5 338.2h0M49 273h0M100.6 176.1h0M235.8 349.4h0M227.2 341.3h0M50.7 257.8h0M55.8 267.4h0M79.5 181.3h0M77 189h0" stroke="#fc1626" stroke-width="6.5" stroke-linecap="round" fill="none"/><path d="M57.3 252.7h0M290.4 250.3h0M237.4 325h0M76.8 185.5h0M261.6 347.6h0M68.3 266h0M263.6 336.6h0M280.8 251.7h0M264.7 336.3h0M114.3 195.7h0M275.8 343.6h0M71.9 195.1h0M260.4 334.4h0M76.8 198.8h0M298.2 247.7h0M272.5 351.2h0M289 238.3h0M267.8 340.6h0M245.4 345.1h0M256.9 347.7h0M61 267.3h0M48.6 234.8h0M260.8 352.9h0M106.3 189.5h0M248.3 345.1h0M284.2 250h0M76.6 177.5h0M25.8 186.9h0M79.9 192h0M68.9 172.2h0M237 323.9h0M30.8 194.9h0" stroke="#f59582" stroke-width="6.5" stroke-linecap="round" fill="none"/><path d="M78.1 191.4h0M254.5 349.5h0M257.3 353.5h0M231.4 322.4h0M287.2 246.8h0M238.4 350.3h0M230.3 347.6h0M296.5 246.7h0M88.2 197.1h0M264.9 345.6h0M236.9 344.6h0M257.9 334.6h0M54.8 255.1h0M304.9 247.4h0M225.3 322.4h0M229.2 348h0M225.2 330.8h0M57.1 264h0M234.8 325.8h0M87.6 182h0M91.8 177.1h0M251.2 351.5h0M90.6 179.6h0M232.2 316.5h0M221.2 344.3h0M57.8 243.1h0M87.2 174.2h0M232.4 338.5h0M252.2 346h0M56.3 261.9h0M292.5 252.6h0M280.7 246.3h0M218 331.5h0M49.1 255.8h0M232.2 341.4h0M237.9 325.3h0M230.2 344h0M56.4 259.7h0M278.9 244.1h0M107 199h0M31.6 198.9h0M53 244.4h0M57.7 276.2h0M31.4 199.5h0M52.6 274.2h0M46.9 235.5h0M56.7 263.5h0M278.7 248.3h0M44.8 250.2h0M233 335.9h0M82.1 183.8h0M53.5 258.4h0M76.4 188.6h0M292.4 253.2h0M43.6 239.4h0M51.4 265.8h0M63 258.5h0M265.3 340.9h0M253.9 335.1h0M54.1 254h0M66.1 256.6h0M61.8 261.3h0M231.5 336.3h0" stroke="#f9463d" stroke-width="6.5" stroke-linecap="round" fill="none"/><path d="M319.4 235.6h0M469.9 318.4h0" stroke="#fc1626" stroke-width="6.5" stroke-linecap="round" fill="none"/><path d="M328 239.2h0M155.2 216.3h0" stroke="#f8705f" stroke-width="6.5" stroke-linecap="round" fill="none"/><path d="M314.8 20.3h0M407 312.1h0" stroke="#f98a78" stroke-width="6.5" stroke-linecap="round" fill="none"/><path d="M322.5 28h0M472.2 309.1h0M479.9 312.9h0M483.7 318.7h0M487.6 307.1h0M476.1 316.7h0M445.3 315.6h0" stroke="#fc1626" stroke-width="6.5" stroke-linecap="round" fill="none"/><path d="M137.5 198.1h0M151.2 206.9h0M156.9 211.9h0" stroke="#fe6a55" stroke-width="6.5" stroke-linecap="round" fill="none"/><path d="M156.9 194.4h0M137.5 198.1h0" stroke="#fe6a55" stroke-width="6.5" stroke-linecap="round" fill="none"/><path d="M165.6 211.9h0M141.2 187.5h0M140.6 176.2h0" stroke="#fc1626" stroke-width="6.5" stroke-linecap="round" fill="none"/><path d="M67.5 235.6h0M75.6 242.5h0M142.5 206.2h0M140 205h0M166.2 180h0" stroke="#6f5fb0" stroke-width="6.5" stroke-linecap="round" fill="none"/>
</g>
<rect x="611.40" y="539.70" width="513.60" height="432.90" fill="none" stroke="#333" stroke-width="1.4"/>
<text x="868.20" y="525.20" font-family="Liberation Sans" font-size="23.47" fill="#1a1a1a" text-anchor="middle">CD14</text>
<g transform="translate(96.0,1018.6)">
<use href="#sil" fill="#d3d0db" stroke="#d3d0db" stroke-width="0.8" stroke-linejoin="round"/>
<path d="M448.4 409.7 449.9 407.6 449.9 407.6 451.6 405.2 452.4 403.1 450.6 400.7 447.8 400.4 447.7 400.4 444.8 399.7 442.1 400.6 439.2 403.8 438.1 406.4 436.9 410 436.9 410.1 436.8 410.1 436.8 410.1 436.8 410.2 434.7 412.4 433.6 414.7 433.9 416.1 435.9 417.2 439.3 416.3 443.4 413.7 443.4 413.6 446.9 411.9 448.4 409.7Z" fill="#fc1626" fill-rule="evenodd" stroke="#fc1626" stroke-width="0.8" stroke-linejoin="round"/><path d="M436 414.8h0M440.6 412.9h0M444.9 410.4h0M448 406.5h0M448.9 402.7h0M444 402.3h0M440.7 406h0M439 410.7h0" stroke="#fc1626" stroke-width="6.5" stroke-linecap="round" fill="none"/><path d="M314.8 20.4h0M44.9 164.3h0M44.5 171.2h0M80.6 162.4h0M79.9 173.2h0M23.8 190.4h0M32.6 197h0M119.4 205h0M175.8 155.5h0M185.4 150.1h0M188.1 150.1h0M195.4 164.7h0M187 176.2h0M42.2 248.4h0M49.1 253.8h0M56.1 256.5h0M46.1 266.1h0M254.5 236.5h0M254.2 250.7h0M270.3 248.8h0M302.9 245.3h0M271.4 300.2h0M259.9 307.2h0M260.7 312.9h0M260.3 317.1h0M246.9 322.9h0M241.1 331.3h0M232.7 347.5h0M238.8 344.8h0M249.9 352.5h0M253.4 351.7h0M258 349.8h0M261.5 354.4h0M277.2 349h0M446.9 316h0M457.3 314.4h0M464.2 314.4h0M478 307.5h0M481.8 306.8h0M489.5 304.8h0M480.7 310.6h0M479.1 321h0" stroke="#fc1626" stroke-width="6.5" stroke-linecap="round" fill="none"/>
</g>
<rect x="96.50" y="1019.10" width="514.10" height="432.90" fill="none" stroke="#333" stroke-width="1.4"/>
<text x="353.55" y="1004.60" font-family="Liberation Sans" font-size="23.47" fill="#1a1a1a" text-anchor="middle">CD79A</text>
<g transform="translate(610.8,1018.6)">
<use href="#sil" fill="#d3d0db" stroke="#d3d0db" stroke-width="0.8" stroke-linejoin="round"/>
<path d="M448.4 409.7 449.9 407.6 449.9 407.6 451.6 405.2 452.4 403.1 450.6 400.7 447.8 400.4 447.7 400.4 444.8 399.7 442.1 400.6 439.2 403.8 438.1 406.4 436.9 410 436.9 410.1 436.8 410.1 436.8 410.1 436.8 410.2 434.7 412.4 433.6 414.7 433.9 416.1 435.9 417.2 439.3 416.3 443.4 413.7 443.4 413.6 446.9 411.9 448.4 409.7Z" fill="#fc1626" fill-rule="evenodd" stroke="#fc1626" stroke-width="0.8" stroke-linejoin="round"/><path d="M436 414.8h0M440.6 412.9h0M444.9 410.4h0M448 406.5h0M448.9 402.7h0M444 402.3h0M440.7 406h0M439 410.7h0" stroke="#fc1626" stroke-width="6.5" stroke-linecap="round" fill="none"/><path d="M321.2 27.3h0M142.3 147.8h0M186.4 150.1h0M189.1 150.1h0M191.4 150.9h0M186.4 155.1h0M187.2 175.9h0M47.4 162.8h0M59.7 156.3h0M66.2 167.8h0M44.4 171.2h0M65.5 194.7h0M73.1 190.1h0M100 187.4h0M152.2 215.8h0M154.2 223.1h0M30.5 245.3h0M254.7 236.5h0M253.6 250.7h0M256.7 249.9h0M270.5 248.8h0M330.8 239.6h0M103.9 307.9h0M262 290.6h0M271.2 300.2h0M261.3 311.4h0M257.4 320.2h0M252.8 323.7h0M247.1 322.9h0M244 326h0M241.3 331.3h0M230.2 317.9h0M276.6 324h0M251.7 337.1h0M223.6 340.6h0M232.9 347.5h0M244 350.5h0M250.1 352.8h0M253.6 352.5h0M258.2 349.8h0M261.7 354.4h0M446.3 315.2h0M447.1 316.4h0M488.5 306.4h0M487.8 316h0M479.3 320.6h0" stroke="#fc1626" stroke-width="6.5" stroke-linecap="round" fill="none"/><path d="M66.6 160.9h0M35.1 189.3h0M175.7 155.5h0M191.8 173.2h0M141.9 229.6h0M37.4 265.3h0M113.1 310.6h0" stroke="#fe6a55" stroke-width="6.5" stroke-linecap="round" fill="none"/><path d="M270.9 334.4h0" stroke="#f98a78" stroke-width="6.5" stroke-linecap="round" fill="none"/>
</g>
<rect x="611.40" y="1019.10" width="513.60" height="432.90" fill="none" stroke="#333" stroke-width="1.4"/>
<text x="868.20" y="1004.60" font-family="Liberation Sans" font-size="23.47" fill="#1a1a1a" text-anchor="middle">MS4A1</text>
<g transform="translate(96.0,1498.0)">
<use href="#sil" fill="#d6d4dc" stroke="#d6d4dc" stroke-width="0.8" stroke-linejoin="round"/>
<path d="M322.2 31.5 322.5 31.5 322.8 31.5 323.1 31.5 323.5 31.5 323.8 31.4 324.1 31.3 324.4 31.1 324.6 31 324.9 30.8 325.1 30.5 325.3 30.3 325.5 30 325.7 29.8 325.8 29.5 325.9 29.2 326 28.8 326 28.5 326 28.2 326 27.9 326 27.5 325.9 27.2 325.8 26.9 325.6 26.6 325.5 26.4 325.3 26.1 325 25.9 316.3 17.4 316 17.2 315.8 17 315.5 16.9 315.2 16.7 314.9 16.6 314.6 16.6 314.3 16.5 313.9 16.5 313.6 16.5 313.3 16.6 313 16.7 312.7 16.8 312.4 16.9 312.1 17.1 311.9 17.3 311.6 17.5 311.4 17.8 311.2 18 311.1 18.3 310.9 18.6 310.8 18.9 310.8 19.2 310.7 19.5 310.7 19.9 310.7 20.2 310.8 20.5 310.9 20.8 311 21.1 311.1 21.4 311.3 21.7 311.5 21.9 311.7 22.2 320.5 30.6 320.7 30.8 321 31 321.2 31.2 321.5 31.3 321.8 31.4Z" fill="#fc1626" fill-rule="evenodd" stroke="#fc1626" stroke-width="0.8" stroke-linejoin="round"/><path d="M322.6 29.3h0M321.8 25.8h0M318 22.2h0M314.2 18.7h0M315 22.3h0M318.7 25.9h0" stroke="#fc1626" stroke-width="6.5" stroke-linecap="round" fill="none"/><path d="M167 140.9h0M171.6 155.9h0M149 159.7h0M154.3 159.7h0M187 175.8h0M67.6 162.8h0M67.6 168.2h0M78.3 162.8h0M95.2 176.6h0M98.3 177.4h0M109 178.5h0M29.2 183.1h0M42.2 181.6h0M46.1 179.3h0M31.9 193.5h0M53.7 198.9h0M113.6 206.2h0M137.8 235h0M152.8 251.5h0M253.4 233.4h0M255.3 232.3h0M258 233h0M259.5 234.2h0M257.2 231.5h0M298.7 218.8h0M303.7 242.3h0M253.8 248.4h0M296.8 252.6h0M299.1 251.5h0M44.2 258.4h0M55.7 254.5h0M53.7 269.5h0M264.5 296h0M269.9 310.2h0M271.8 311.7h0M275.7 322.5h0M301.4 320.2h0M214.6 333.2h0M267.2 352.8h0M477.2 319.8h0" stroke="#fc1626" stroke-width="6.5" stroke-linecap="round" fill="none"/>
</g>
<rect x="96.50" y="1498.50" width="514.10" height="432.90" fill="none" stroke="#333" stroke-width="1.4"/>
<text x="353.55" y="1484.00" font-family="Liberation Sans" font-size="23.47" fill="#1a1a1a" text-anchor="middle">EPCAM</text>
<g transform="translate(610.8,1498.0)">
<use href="#sil" fill="#d6d4dc" stroke="#d6d4dc" stroke-width="0.8" stroke-linejoin="round"/>
<path d="M322.2 31.5 322.5 31.5 322.8 31.5 323.1 31.5 323.5 31.5 323.8 31.4 324.1 31.3 324.4 31.1 324.6 31 324.9 30.8 325.1 30.5 325.3 30.3 325.5 30 325.7 29.8 325.8 29.5 325.9 29.2 326 28.8 326 28.5 326 28.2 326 27.9 326 27.5 325.9 27.2 325.8 26.9 325.6 26.6 325.5 26.4 325.3 26.1 325 25.9 316.3 17.4 316 17.2 315.8 17 315.5 16.9 315.2 16.7 314.9 16.6 314.6 16.6 314.3 16.5 313.9 16.5 313.6 16.5 313.3 16.6 313 16.7 312.7 16.8 312.4 16.9 312.1 17.1 311.9 17.3 311.6 17.5 311.4 17.8 311.2 18 311.1 18.3 310.9 18.6 310.8 18.9 310.8 19.2 310.7 19.5 310.7 19.9 310.7 20.2 310.8 20.5 310.9 20.8 311 21.1 311.1 21.4 311.3 21.7 311.5 21.9 311.7 22.2 320.5 30.6 320.7 30.8 321 31 321.2 31.2 321.5 31.3 321.8 31.4Z" fill="#fc1626" fill-rule="evenodd" stroke="#fc1626" stroke-width="0.8" stroke-linejoin="round"/><path d="M322.6 29.3h0M321.8 25.8h0M318 22.2h0M314.2 18.7h0M315 22.3h0M318.7 25.9h0" stroke="#fc1626" stroke-width="6.5" stroke-linecap="round" fill="none"/><path d="M161.4 148.4h0M169.9 153.8h0M182.2 153.4h0M190.2 156.5h0M149.2 158h0M151.8 159.9h0M155.7 157.6h0M156.5 163.4h0M186.8 175.7h0M188.3 181.4h0M194.8 171h0M43.2 169.1h0M38.6 174.9h0M35.5 176.4h0M67.4 162.2h0M100.8 175.3h0M31.7 193.7h0M71.6 194.5h0M113.5 206.4h0M118.8 204.4h0M41.7 250.1h0M46.3 248.6h0M38.6 259.3h0M45.9 260.1h0M145.3 250.1h0M287 226.7h0M301.6 244h0M299.7 249.7h0M303.5 250.5h0M306.6 248.6h0M301.6 253.6h0M265.1 296.2h0M269.7 295.1h0M235.2 351.9h0M244.4 350.3h0M264 351.5h0M407.9 312.3h0" stroke="#fc1626" stroke-width="6.5" stroke-linecap="round" fill="none"/>
</g>
<rect x="611.40" y="1498.50" width="513.60" height="432.90" fill="none" stroke="#333" stroke-width="1.4"/>
<text x="868.20" y="1484.00" font-family="Liberation Sans" font-size="23.47" fill="#1a1a1a" text-anchor="middle">CDH1</text>
<line x1="96.45" y1="59.60" x2="96.45" y2="493.90" stroke="#000" stroke-width="2.85"/>
<line x1="89.1" y1="489.00" x2="96" y2="489.00" stroke="#333" stroke-width="2.85"/>
<text x="82.8" y="497.50" font-family="Liberation Sans" font-size="23.47" fill="#4d4d4d" text-anchor="end">-10</text>
<line x1="89.1" y1="394.98" x2="96" y2="394.98" stroke="#333" stroke-width="2.85"/>
<text x="82.8" y="403.48" font-family="Liberation Sans" font-size="23.47" fill="#4d4d4d" text-anchor="end">-5</text>
<line x1="89.1" y1="300.95" x2="96" y2="300.95" stroke="#333" stroke-width="2.85"/>
<text x="82.8" y="309.45" font-family="Liberation Sans" font-size="23.47" fill="#4d4d4d" text-anchor="end">0</text>
<line x1="89.1" y1="206.92" x2="96" y2="206.92" stroke="#333" stroke-width="2.85"/>
<text x="82.8" y="215.42" font-family="Liberation Sans" font-size="23.47" fill="#4d4d4d" text-anchor="end">5</text>
<line x1="89.1" y1="112.90" x2="96" y2="112.90" stroke="#333" stroke-width="2.85"/>
<text x="82.8" y="121.40" font-family="Liberation Sans" font-size="23.47" fill="#4d4d4d" text-anchor="end">10</text>
<line x1="96.45" y1="539.00" x2="96.45" y2="973.30" stroke="#000" stroke-width="2.85"/>
<line x1="89.1" y1="968.40" x2="96" y2="968.40" stroke="#333" stroke-width="2.85"/>
<text x="82.8" y="976.90" font-family="Liberation Sans" font-size="23.47" fill="#4d4d4d" text-anchor="end">-10</text>
<line x1="89.1" y1="874.38" x2="96" y2="874.38" stroke="#333" stroke-width="2.85"/>
<text x="82.8" y="882.88" font-family="Liberation Sans" font-size="23.47" fill="#4d4d4d" text-anchor="end">-5</text>
<line x1="89.1" y1="780.35" x2="96" y2="780.35" stroke="#333" stroke-width="2.85"/>
<text x="82.8" y="788.85" font-family="Liberation Sans" font-size="23.47" fill="#4d4d4d" text-anchor="end">0</text>
<line x1="89.1" y1="686.32" x2="96" y2="686.32" stroke="#333" stroke-width="2.85"/>
<text x="82.8" y="694.82" font-family="Liberation Sans" font-size="23.47" fill="#4d4d4d" text-anchor="end">5</text>
<line x1="89.1" y1="592.30" x2="96" y2="592.30" stroke="#333" stroke-width="2.85"/>
<text x="82.8" y="600.80" font-family="Liberation Sans" font-size="23.47" fill="#4d4d4d" text-anchor="end">10</text>
<line x1="96.45" y1="1018.40" x2="96.45" y2="1452.70" stroke="#000" stroke-width="2.85"/>
<line x1="89.1" y1="1447.80" x2="96" y2="1447.80" stroke="#333" stroke-width="2.85"/>
<text x="82.8" y="1456.30" font-family="Liberation Sans" font-size="23.47" fill="#4d4d4d" text-anchor="end">-10</text>
<line x1="89.1" y1="1353.78" x2="96" y2="1353.78" stroke="#333" stroke-width="2.85"/>
<text x="82.8" y="1362.28" font-family="Liberation Sans" font-size="23.47" fill="#4d4d4d" text-anchor="end">-5</text>
<line x1="89.1" y1="1259.75" x2="96" y2="1259.75" stroke="#333" stroke-width="2.85"/>
<text x="82.8" y="1268.25" font-family="Liberation Sans" font-size="23.47" fill="#4d4d4d" text-anchor="end">0</text>
<line x1="89.1" y1="1165.72" x2="96" y2="1165.72" stroke="#333" stroke-width="2.85"/>
<text x="82.8" y="1174.22" font-family="Liberation Sans" font-size="23.47" fill="#4d4d4d" text-anchor="end">5</text>
<line x1="89.1" y1="1071.70" x2="96" y2="1071.70" stroke="#333" stroke-width="2.85"/>
<text x="82.8" y="1080.20" font-family="Liberation Sans" font-size="23.47" fill="#4d4d4d" text-anchor="end">10</text>
<line x1="96.45" y1="1497.80" x2="96.45" y2="1932.10" stroke="#000" stroke-width="2.85"/>
<line x1="89.1" y1="1927.20" x2="96" y2="1927.20" stroke="#333" stroke-width="2.85"/>
<text x="82.8" y="1935.70" font-family="Liberation Sans" font-size="23.47" fill="#4d4d4d" text-anchor="end">-10</text>
<line x1="89.1" y1="1833.17" x2="96" y2="1833.17" stroke="#333" stroke-width="2.85"/>
<text x="82.8" y="1841.67" font-family="Liberation Sans" font-size="23.47" fill="#4d4d4d" text-anchor="end">-5</text>
<line x1="89.1" y1="1739.15" x2="96" y2="1739.15" stroke="#333" stroke-width="2.85"/>
<text x="82.8" y="1747.65" font-family="Liberation Sans" font-size="23.47" fill="#4d4d4d" text-anchor="end">0</text>
<line x1="89.1" y1="1645.12" x2="96" y2="1645.12" stroke="#333" stroke-width="2.85"/>
<text x="82.8" y="1653.62" font-family="Liberation Sans" font-size="23.47" fill="#4d4d4d" text-anchor="end">5</text>
<line x1="89.1" y1="1551.10" x2="96" y2="1551.10" stroke="#333" stroke-width="2.85"/>
<text x="82.8" y="1559.60" font-family="Liberation Sans" font-size="23.47" fill="#4d4d4d" text-anchor="end">10</text>
<line x1="95.0" y1="1931.75" x2="1126.2" y2="1931.75" stroke="#000" stroke-width="2.8"/>
<line x1="143.40" y1="1932" x2="143.40" y2="1939.0" stroke="#333" stroke-width="2.85"/>
<text x="143.40" y="1961.8" font-family="Liberation Sans" font-size="23.47" fill="#4d4d4d" text-anchor="middle">-5</text>
<line x1="268.40" y1="1932" x2="268.40" y2="1939.0" stroke="#333" stroke-width="2.85"/>
<text x="268.40" y="1961.8" font-family="Liberation Sans" font-size="23.47" fill="#4d4d4d" text-anchor="middle">0</text>
<line x1="393.40" y1="1932" x2="393.40" y2="1939.0" stroke="#333" stroke-width="2.85"/>
<text x="393.40" y="1961.8" font-family="Liberation Sans" font-size="23.47" fill="#4d4d4d" text-anchor="middle">5</text>
<line x1="518.40" y1="1932" x2="518.40" y2="1939.0" stroke="#333" stroke-width="2.85"/>
<text x="518.40" y="1961.8" font-family="Liberation Sans" font-size="23.47" fill="#4d4d4d" text-anchor="middle">10</text>
<line x1="658.20" y1="1932" x2="658.20" y2="1939.0" stroke="#333" stroke-width="2.85"/>
<text x="658.20" y="1961.8" font-family="Liberation Sans" font-size="23.47" fill="#4d4d4d" text-anchor="middle">-5</text>
<line x1="783.20" y1="1932" x2="783.20" y2="1939.0" stroke="#333" stroke-width="2.85"/>
<text x="783.20" y="1961.8" font-family="Liberation Sans" font-size="23.47" fill="#4d4d4d" text-anchor="middle">0</text>
<line x1="908.20" y1="1932" x2="908.20" y2="1939.0" stroke="#333" stroke-width="2.85"/>
<text x="908.20" y="1961.8" font-family="Liberation Sans" font-size="23.47" fill="#4d4d4d" text-anchor="middle">5</text>
<line x1="1033.20" y1="1932" x2="1033.20" y2="1939.0" stroke="#333" stroke-width="2.85"/>
<text x="1033.20" y="1961.8" font-family="Liberation Sans" font-size="23.47" fill="#4d4d4d" text-anchor="middle">10</text>
<text x="609.5" y="1996" font-family="Liberation Sans" font-size="29.33" fill="#000" text-anchor="middle">Dimension_1</text>
<text transform="translate(35.5,994) rotate(-90)" x="0" y="0" font-family="Liberation Sans" font-size="29.33" fill="#000" text-anchor="middle">Dimension_2</text>
<text x="1169.7" y="869.1" font-family="Liberation Sans" font-size="29.33" fill="#000">Scaled</text>
<text x="1169.7" y="900.0" font-family="Liberation Sans" font-size="29.33" fill="#000">Expression</text>
<rect x="1169.7" y="917.9" width="46.1" height="228.9" fill="url(#lg)"/>
<text x="1229.5" y="925.90" font-family="Liberation Sans" font-size="23.47" fill="#000">2</text>
<line x1="1169.7" y1="974.75" x2="1179" y2="974.75" stroke="#fff" stroke-width="1.5"/>
<line x1="1206.7" y1="974.75" x2="1215.8" y2="974.75" stroke="#fff" stroke-width="1.5"/>
<text x="1229.5" y="983.25" font-family="Liberation Sans" font-size="23.47" fill="#000">1</text>
<line x1="1169.7" y1="1032.10" x2="1179" y2="1032.10" stroke="#fff" stroke-width="1.5"/>
<line x1="1206.7" y1="1032.10" x2="1215.8" y2="1032.10" stroke="#fff" stroke-width="1.5"/>
<text x="1229.5" y="1040.60" font-family="Liberation Sans" font-size="23.47" fill="#000">0</text>
<line x1="1169.7" y1="1089.45" x2="1179" y2="1089.45" stroke="#fff" stroke-width="1.5"/>
<line x1="1206.7" y1="1089.45" x2="1215.8" y2="1089.45" stroke="#fff" stroke-width="1.5"/>
<text x="1229.5" y="1097.95" font-family="Liberation Sans" font-size="23.47" fill="#000">-1</text>
<text x="1229.5" y="1155.30" font-family="Liberation Sans" font-size="23.47" fill="#000">-2</text>
</svg></body></html>
